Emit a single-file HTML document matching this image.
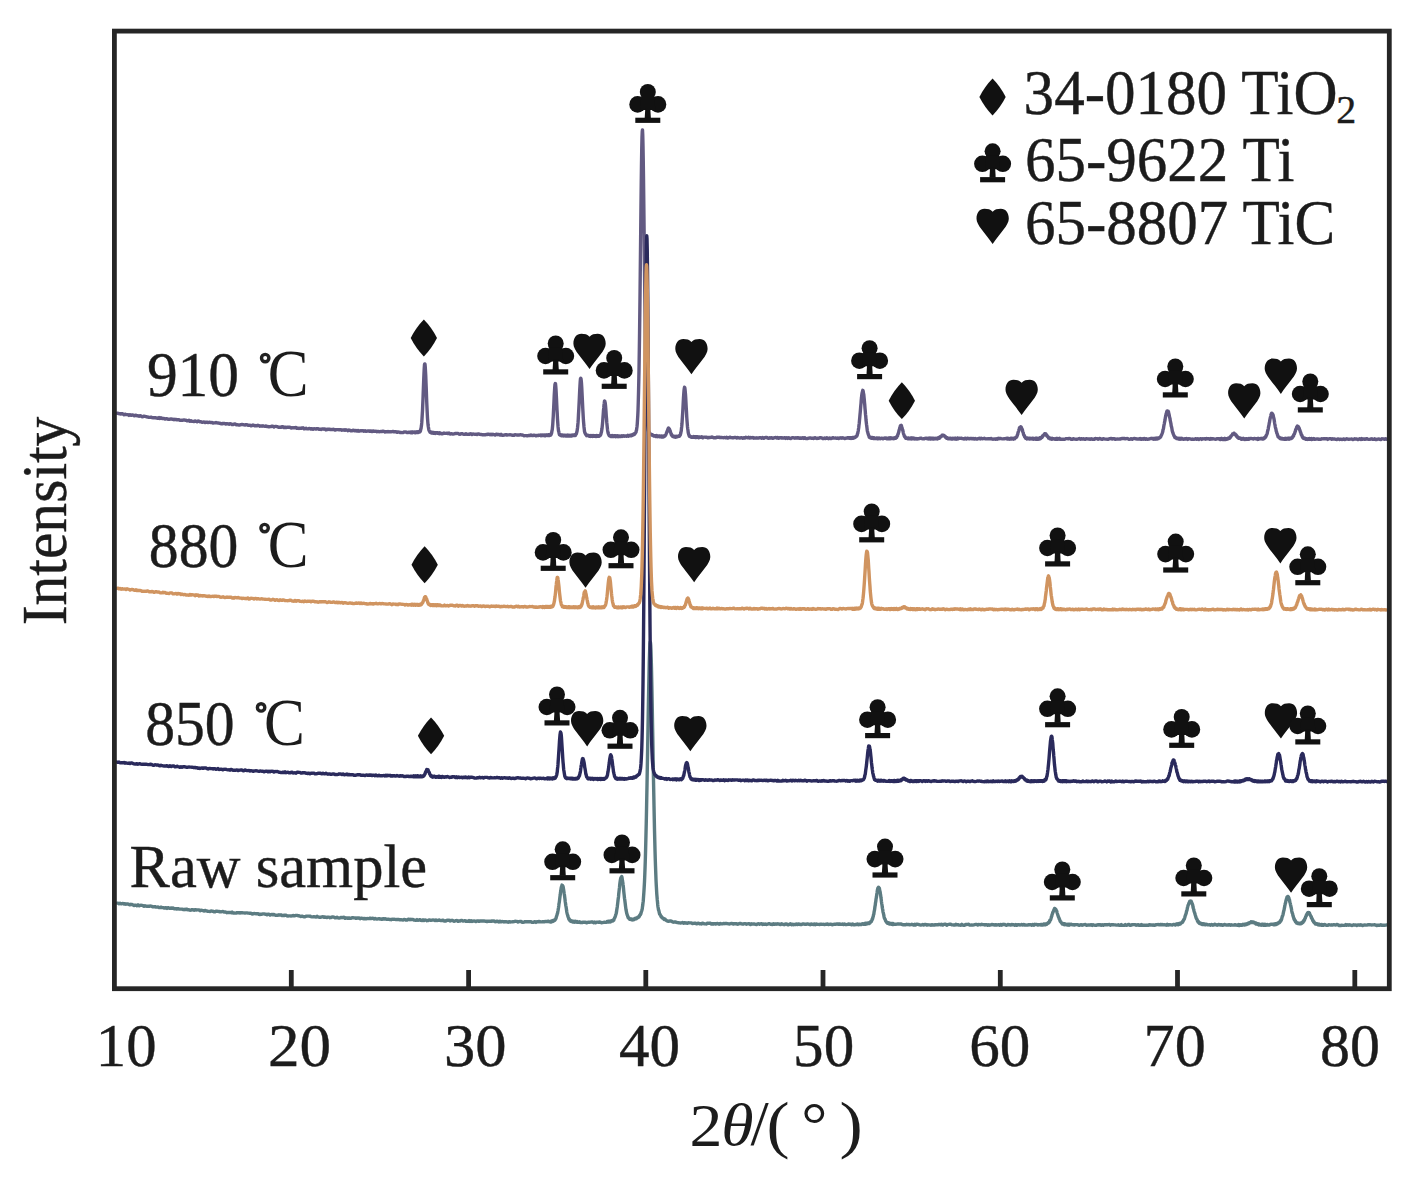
<!DOCTYPE html>
<html><head><meta charset="utf-8"><title>XRD patterns</title>
<style>html,body{margin:0;padding:0;background:#fff;width:1416px;height:1186px;overflow:hidden}svg{display:block}</style>
</head><body><div id="w">
<svg width="1416" height="1186" viewBox="0 0 1416 1186">
<defs><g id="club"><circle cx="18.5" cy="8" r="8"/><circle cx="8.3" cy="20.5" r="8.3"/><circle cx="28.7" cy="20.5" r="8.3"/><path d="M12,12 L25,12 L26,26 L11,26Z"/><path d="M16,24 L21,24 L21.6,34.5 L15.4,34.5Z"/><path d="M6,33.8 L31,33.8 L31,39 L6,39Z"/></g><path id="heart" d="M16.15,3 C14,0.6 11.5,0 8,0 C3,0 0,4 0,10 C0,16.5 8.5,24 16.15,35.3 C23.8,24 32.3,16.5 32.3,10 C32.3,4 29.3,0 24.3,0 C20.8,0 18.3,0.6 16.15,3Z"/><path id="diam" d="M13.15,0 Q21,8 26.3,18.45 Q21,28.9 13.15,36.9 Q5.3,28.9 0,18.45 Q5.3,8 13.15,0Z"/></defs>
<rect width="1416" height="1186" fill="#fff"/>
<path d="M117.00,903.1 L118.00,903.1 L119.00,903.7 L120.00,903.2 L121.00,903.7 L122.00,903.7 L123.00,903.5 L124.00,904.0 L125.00,903.7 L126.00,904.2 L127.00,903.9 L128.00,904.0 L129.00,904.4 L130.00,904.9 L131.00,904.3 L132.00,904.5 L133.00,905.0 L134.00,905.5 L135.00,905.2 L136.00,905.1 L137.00,905.8 L138.00,904.9 L139.00,905.8 L140.00,905.4 L141.00,905.3 L142.00,905.4 L143.00,905.7 L144.00,906.3 L145.00,905.7 L146.00,906.2 L147.00,906.4 L148.00,906.2 L149.00,906.4 L150.00,906.0 L151.00,906.1 L152.00,906.4 L153.00,906.9 L154.00,906.8 L155.00,906.7 L156.00,907.1 L157.00,907.1 L158.00,907.0 L159.00,907.6 L160.00,907.6 L161.00,907.2 L162.00,907.6 L163.00,907.6 L164.00,908.1 L165.00,908.0 L166.00,907.6 L167.00,908.4 L168.00,907.6 L169.00,908.0 L170.00,908.4 L171.00,907.9 L172.00,908.3 L173.00,908.0 L174.00,908.7 L175.00,908.8 L176.00,908.7 L177.00,909.1 L178.00,908.6 L179.00,909.1 L180.00,909.1 L181.00,909.1 L182.00,909.1 L183.00,909.5 L184.00,909.7 L185.00,909.3 L186.00,909.6 L187.00,909.1 L188.00,909.8 L189.00,909.8 L190.00,910.2 L191.00,910.1 L192.00,909.7 L193.00,909.8 L194.00,910.2 L195.00,909.6 L196.00,910.1 L197.00,909.9 L198.00,909.9 L199.00,909.9 L200.00,910.7 L201.00,910.1 L202.00,910.3 L203.00,910.6 L204.00,911.1 L205.00,910.4 L206.00,910.8 L207.00,911.0 L208.00,911.4 L209.00,911.4 L210.00,911.5 L211.00,911.0 L212.00,911.2 L213.00,911.2 L214.00,911.8 L215.00,911.9 L216.00,911.2 L217.00,911.3 L218.00,911.4 L219.00,911.5 L220.00,911.8 L221.00,911.9 L222.00,911.7 L223.00,911.5 L224.00,912.0 L225.00,912.0 L226.00,912.2 L227.00,912.7 L228.00,912.5 L229.00,912.4 L230.00,912.5 L231.00,912.7 L232.00,912.1 L233.00,913.0 L234.00,912.9 L235.00,913.1 L236.00,913.1 L237.00,912.7 L238.00,912.8 L239.00,912.6 L240.00,913.1 L241.00,912.6 L242.00,912.7 L243.00,912.9 L244.00,912.9 L245.00,913.1 L246.00,912.9 L247.00,912.9 L248.00,913.1 L249.00,913.1 L250.00,913.4 L251.00,913.2 L252.00,914.1 L253.00,913.9 L254.00,913.4 L255.00,913.6 L256.00,913.7 L257.00,913.8 L258.00,913.6 L259.00,914.4 L260.00,914.6 L261.00,914.1 L262.00,914.2 L263.00,913.9 L264.00,913.9 L265.00,914.2 L266.00,914.2 L267.00,914.8 L268.00,914.2 L269.00,914.1 L270.00,915.1 L271.00,914.7 L272.00,914.4 L273.00,914.8 L274.00,914.4 L275.00,914.9 L276.00,915.4 L277.00,915.3 L278.00,915.2 L279.00,914.8 L280.00,915.0 L281.00,914.8 L282.00,915.5 L283.00,915.3 L284.00,915.6 L285.00,915.2 L286.00,915.1 L287.00,915.8 L288.00,916.0 L289.00,915.9 L290.00,915.9 L291.00,916.0 L292.00,915.9 L293.00,915.5 L294.00,915.8 L295.00,915.7 L296.00,915.4 L297.00,915.4 L298.00,915.7 L299.00,915.8 L300.00,916.2 L301.00,916.5 L302.00,916.1 L303.00,916.6 L304.00,916.7 L305.00,916.7 L306.00,916.2 L307.00,916.1 L308.00,916.1 L309.00,916.1 L310.00,916.2 L311.00,916.6 L312.00,916.9 L313.00,916.9 L314.00,916.6 L315.00,916.8 L316.00,917.0 L317.00,916.3 L318.00,916.9 L319.00,917.2 L320.00,917.2 L321.00,917.2 L322.00,916.9 L323.00,916.7 L324.00,917.3 L325.00,916.9 L326.00,917.4 L327.00,917.6 L328.00,917.1 L329.00,917.1 L330.00,917.7 L331.00,917.5 L332.00,917.0 L333.00,917.0 L334.00,917.1 L335.00,917.8 L336.00,917.8 L337.00,917.2 L338.00,917.9 L339.00,918.1 L340.00,917.8 L341.00,917.5 L342.00,917.7 L343.00,917.4 L344.00,917.3 L345.00,918.3 L346.00,918.0 L347.00,917.9 L348.00,918.3 L349.00,917.9 L350.00,918.3 L351.00,918.3 L352.00,917.8 L353.00,917.8 L354.00,917.9 L355.00,917.9 L356.00,918.3 L357.00,918.0 L358.00,918.2 L359.00,917.9 L360.00,918.7 L361.00,918.2 L362.00,918.3 L363.00,918.5 L364.00,918.8 L365.00,918.4 L366.00,918.9 L367.00,918.5 L368.00,918.6 L369.00,918.6 L370.00,918.2 L371.00,918.6 L372.00,918.4 L373.00,918.2 L374.00,919.1 L375.00,918.5 L376.00,918.8 L377.00,919.1 L378.00,918.9 L379.00,918.7 L380.00,919.0 L381.00,919.0 L382.00,919.3 L383.00,918.6 L384.00,919.1 L385.00,918.8 L386.00,918.9 L387.00,919.4 L388.00,919.2 L389.00,919.3 L390.00,919.5 L391.00,919.7 L392.00,919.2 L393.00,919.4 L394.00,919.3 L395.00,919.4 L396.00,919.6 L397.00,919.4 L398.00,919.5 L399.00,919.5 L400.00,919.9 L401.00,919.7 L402.00,919.9 L403.00,920.0 L404.00,919.4 L405.00,919.7 L406.00,920.1 L407.00,920.0 L408.00,919.3 L409.00,919.3 L410.00,919.7 L411.00,919.3 L412.00,919.5 L413.00,919.4 L414.00,920.0 L415.00,920.2 L416.00,920.3 L417.00,919.6 L418.00,920.2 L419.00,920.1 L420.00,919.6 L421.00,920.4 L422.00,920.5 L423.00,919.8 L424.00,920.5 L425.00,920.0 L426.00,920.1 L427.00,920.7 L428.00,920.5 L429.00,919.9 L430.00,920.2 L431.00,920.3 L432.00,920.1 L433.00,920.0 L434.00,920.1 L435.00,920.6 L436.00,919.9 L437.00,920.5 L438.00,920.4 L439.00,920.0 L440.00,920.3 L441.00,920.6 L442.00,920.5 L443.00,920.1 L444.00,921.0 L445.00,920.9 L446.00,921.1 L447.00,920.2 L448.00,920.4 L449.00,920.2 L450.00,921.0 L451.00,920.5 L452.00,920.3 L453.00,920.7 L454.00,921.2 L455.00,921.1 L456.00,920.6 L457.00,920.5 L458.00,921.3 L459.00,920.9 L460.00,921.1 L461.00,920.5 L462.00,920.5 L463.00,921.1 L464.00,920.9 L465.00,920.6 L466.00,921.4 L467.00,921.2 L468.00,921.3 L469.00,920.6 L470.00,921.4 L471.00,920.7 L472.00,921.5 L473.00,921.1 L474.00,921.0 L475.00,921.2 L476.00,921.6 L477.00,921.0 L478.00,920.9 L479.00,921.3 L480.00,921.0 L481.00,920.9 L482.00,921.0 L483.00,920.9 L484.00,921.0 L485.00,921.2 L486.00,921.2 L487.00,921.6 L488.00,921.2 L489.00,921.4 L490.00,921.1 L491.00,921.3 L492.00,921.0 L493.00,921.2 L494.00,921.0 L495.00,921.7 L496.00,921.6 L497.00,921.2 L498.00,921.5 L499.00,922.0 L500.00,921.2 L501.00,921.9 L502.00,921.5 L503.00,921.6 L504.00,922.0 L505.00,921.6 L506.00,921.7 L507.00,921.9 L508.00,922.2 L509.00,921.6 L510.00,922.1 L511.00,921.9 L512.00,921.9 L513.00,921.7 L514.00,921.6 L515.00,921.3 L516.00,921.4 L517.00,921.4 L518.00,922.1 L519.00,921.6 L520.00,921.5 L521.00,921.4 L522.00,922.2 L523.00,922.3 L524.00,922.1 L525.00,921.7 L526.00,921.7 L527.00,921.7 L528.00,921.9 L529.00,921.6 L530.00,921.9 L531.00,921.7 L532.00,922.4 L533.00,922.4 L534.00,922.0 L535.00,921.7 L536.00,922.4 L537.00,921.8 L538.00,921.8 L539.00,921.5 L540.00,921.8 L541.00,921.9 L542.00,921.9 L543.00,921.6 L544.00,921.9 L545.00,921.4 L546.00,921.6 L547.00,921.4 L548.00,921.6 L548.25,921.3 L548.50,921.2 L548.75,921.5 L549.00,921.4 L549.25,921.7 L549.50,921.6 L549.75,921.8 L550.00,921.7 L550.25,921.8 L550.50,921.9 L550.75,921.4 L551.00,921.3 L551.25,921.9 L551.50,921.0 L551.75,921.6 L552.00,921.4 L552.25,920.8 L552.50,921.5 L552.75,921.5 L553.00,921.1 L553.25,921.2 L553.50,921.1 L553.75,920.3 L554.00,920.6 L554.25,920.4 L554.50,920.5 L554.75,920.3 L555.00,920.0 L555.25,919.5 L555.50,919.4 L555.75,918.8 L556.00,918.3 L556.25,917.2 L556.50,916.4 L556.75,915.7 L557.00,915.0 L557.25,913.8 L557.50,913.4 L557.75,912.0 L558.00,910.7 L558.25,909.2 L558.50,907.7 L558.75,905.9 L559.00,903.6 L559.25,902.6 L559.50,900.6 L559.75,898.4 L560.00,896.5 L560.25,894.8 L560.50,892.3 L560.75,891.2 L561.00,889.2 L561.25,887.6 L561.50,886.6 L561.75,886.2 L562.00,885.1 L562.25,885.4 L562.50,885.7 L562.75,885.7 L563.00,886.4 L563.25,887.5 L563.50,889.0 L563.75,890.6 L564.00,892.2 L564.25,894.0 L564.50,895.4 L564.75,897.4 L565.00,899.4 L565.25,901.8 L565.50,903.2 L565.75,905.3 L566.00,906.5 L566.25,908.1 L566.50,909.8 L566.75,911.6 L567.00,912.9 L567.25,914.0 L567.50,914.7 L567.75,915.8 L568.00,916.6 L568.25,917.3 L568.50,917.6 L568.75,918.9 L569.00,918.7 L569.25,919.8 L569.50,920.1 L569.75,919.5 L570.00,920.2 L570.25,920.8 L570.50,921.1 L570.75,920.7 L571.00,920.7 L571.25,920.8 L571.50,921.6 L571.75,920.9 L572.00,921.4 L572.25,921.0 L572.50,921.5 L572.75,921.9 L573.00,921.2 L573.25,921.9 L573.50,921.6 L573.75,922.0 L574.00,921.9 L574.25,921.5 L574.50,922.2 L574.75,921.8 L575.00,921.3 L575.25,921.3 L575.50,921.9 L575.75,921.8 L576.00,921.7 L576.25,921.6 L576.50,921.8 L576.75,921.8 L577.00,922.3 L577.25,921.5 L577.50,922.3 L578.50,922.4 L579.50,921.8 L580.50,922.6 L581.50,922.4 L582.50,922.6 L583.50,922.1 L584.50,922.2 L585.50,922.2 L586.50,922.8 L587.50,922.4 L588.50,922.2 L589.50,922.3 L590.50,922.1 L591.50,921.9 L592.50,922.0 L593.50,922.7 L594.50,922.1 L595.50,922.8 L596.50,922.1 L597.50,922.1 L598.50,922.3 L599.50,922.0 L600.50,922.1 L601.50,922.7 L602.50,922.6 L603.50,922.4 L604.50,922.2 L605.50,922.4 L606.50,922.4 L606.75,922.0 L607.00,922.1 L607.25,921.4 L607.50,922.1 L607.75,921.8 L608.00,922.0 L608.25,921.9 L608.50,921.5 L608.75,921.2 L609.00,922.1 L609.25,921.2 L609.50,921.5 L609.75,921.4 L610.00,921.3 L610.25,921.7 L610.50,921.9 L610.75,921.1 L611.00,921.4 L611.25,921.0 L611.50,921.2 L611.75,920.9 L612.00,920.6 L612.25,920.5 L612.50,920.4 L612.75,920.9 L613.00,920.4 L613.25,919.9 L613.50,920.3 L613.75,920.2 L614.00,919.3 L614.25,918.6 L614.50,918.2 L614.75,917.6 L615.00,917.3 L615.25,916.4 L615.50,915.7 L615.75,914.8 L616.00,914.1 L616.25,913.3 L616.50,911.9 L616.75,910.1 L617.00,908.5 L617.25,906.9 L617.50,904.9 L617.75,902.9 L618.00,900.5 L618.25,898.5 L618.50,896.9 L618.75,893.7 L619.00,891.7 L619.25,889.4 L619.50,887.4 L619.75,884.5 L620.00,882.5 L620.25,880.7 L620.50,879.3 L620.75,878.1 L621.00,877.7 L621.25,877.1 L621.50,877.1 L621.75,876.6 L622.00,877.4 L622.25,879.2 L622.50,880.9 L622.75,882.2 L623.00,884.3 L623.25,885.8 L623.50,888.5 L623.75,891.3 L624.00,893.6 L624.25,895.9 L624.50,898.3 L624.75,899.8 L625.00,901.8 L625.25,903.8 L625.50,906.0 L625.75,907.9 L626.00,909.7 L626.25,910.9 L626.50,912.1 L626.75,913.4 L627.00,914.1 L627.25,915.1 L627.50,915.3 L627.75,916.7 L628.00,916.7 L628.25,917.9 L628.50,918.0 L628.75,918.0 L629.00,918.1 L629.25,918.5 L629.50,919.1 L629.75,919.3 L630.00,918.8 L630.25,918.9 L630.50,919.4 L630.75,919.5 L631.00,919.4 L631.25,919.2 L631.50,919.6 L631.75,919.0 L632.00,919.3 L632.25,919.5 L632.50,919.9 L632.75,919.6 L633.00,919.8 L633.25,919.4 L633.50,919.1 L633.75,919.0 L634.00,919.7 L634.25,919.4 L634.50,918.9 L634.75,918.5 L635.00,918.9 L635.25,919.0 L635.50,918.7 L635.75,918.4 L636.00,918.7 L636.25,918.8 L636.50,918.0 L636.75,917.7 L637.00,917.8 L637.25,917.8 L637.50,917.9 L637.75,917.2 L638.00,917.6 L638.25,917.4 L638.50,916.9 L638.75,916.4 L639.00,916.9 L639.25,915.9 L639.50,916.1 L639.75,915.2 L640.00,914.8 L640.25,915.0 L640.50,914.0 L640.75,914.2 L641.00,913.1 L641.25,912.1 L641.50,911.4 L641.75,910.7 L642.00,909.8 L642.25,908.9 L642.50,906.6 L642.75,905.1 L643.00,902.8 L643.25,901.2 L643.50,897.5 L643.75,894.2 L644.00,890.3 L644.25,886.2 L644.50,881.6 L644.75,875.8 L645.00,869.1 L645.25,861.9 L645.50,853.5 L645.75,843.8 L646.00,833.5 L646.25,823.3 L646.50,811.3 L646.75,797.9 L647.00,785.2 L647.25,771.0 L647.50,756.7 L647.75,742.0 L648.00,727.2 L648.25,712.6 L648.50,698.9 L648.75,685.8 L649.00,674.3 L649.25,662.9 L649.50,654.9 L649.75,647.4 L650.00,643.2 L650.25,641.9 L650.50,642.7 L650.75,645.6 L651.00,651.1 L651.25,659.5 L651.50,669.3 L651.75,681.4 L652.00,693.5 L652.25,707.3 L652.50,722.2 L652.75,735.9 L653.00,751.0 L653.25,765.9 L653.50,780.0 L653.75,792.8 L654.00,805.7 L654.25,817.9 L654.50,830.1 L654.75,839.9 L655.00,850.0 L655.25,858.8 L655.50,866.0 L655.75,872.9 L656.00,879.7 L656.25,884.8 L656.50,889.1 L656.75,893.6 L657.00,896.7 L657.25,899.7 L657.50,902.0 L657.75,905.0 L658.00,907.0 L658.25,908.3 L658.50,910.0 L658.75,910.2 L659.00,911.4 L659.25,912.5 L659.50,913.7 L659.75,914.4 L660.00,914.4 L660.25,914.7 L660.50,915.4 L660.75,915.8 L661.00,916.6 L661.25,916.2 L661.50,917.1 L661.75,917.4 L662.00,917.7 L662.25,917.9 L662.50,918.0 L662.75,917.9 L663.00,918.1 L663.25,918.3 L663.50,918.9 L663.75,918.4 L664.00,918.7 L664.25,919.4 L664.50,919.0 L664.75,919.0 L665.00,919.1 L665.25,919.7 L665.50,919.6 L666.50,920.7 L667.50,921.0 L668.50,921.4 L669.50,921.0 L670.50,921.0 L671.50,921.2 L672.50,921.8 L673.50,922.2 L674.50,922.0 L675.50,922.0 L676.50,922.3 L677.50,922.6 L678.50,922.7 L679.50,922.9 L680.50,923.0 L681.50,922.9 L682.50,922.4 L683.50,923.2 L684.50,922.7 L685.50,923.0 L686.50,922.9 L687.50,923.3 L688.50,922.8 L689.50,922.9 L690.50,922.9 L691.50,922.9 L692.50,923.6 L693.50,923.4 L694.50,923.1 L695.50,923.2 L696.50,923.9 L697.50,923.4 L698.50,923.1 L699.50,923.7 L700.50,923.6 L701.50,924.0 L702.50,923.1 L703.50,923.5 L704.50,923.9 L705.50,923.9 L706.50,924.0 L707.50,923.1 L708.50,923.4 L709.50,923.2 L710.50,923.3 L711.50,924.1 L712.50,923.7 L713.50,924.1 L714.50,923.6 L715.50,924.1 L716.50,923.7 L717.50,923.5 L718.50,924.0 L719.50,924.2 L720.50,923.4 L721.50,923.9 L722.50,923.9 L723.50,923.5 L724.50,923.7 L725.50,923.5 L726.50,923.5 L727.50,923.6 L728.50,923.9 L729.50,924.0 L730.50,923.6 L731.50,923.4 L732.50,923.7 L733.50,924.1 L734.50,923.6 L735.50,923.7 L736.50,923.6 L737.50,924.2 L738.50,924.0 L739.50,923.5 L740.50,923.5 L741.50,923.8 L742.50,924.0 L743.50,924.1 L744.50,923.6 L745.50,923.6 L746.50,924.2 L747.50,923.9 L748.50,923.8 L749.50,923.8 L750.50,924.5 L751.50,923.8 L752.50,924.1 L753.50,923.9 L754.50,924.0 L755.50,924.4 L756.50,924.6 L757.50,923.9 L758.50,923.8 L759.50,924.3 L760.50,923.8 L761.50,923.6 L762.50,924.5 L763.50,924.0 L764.50,924.4 L765.50,924.0 L766.50,924.5 L767.50,924.1 L768.50,923.8 L769.50,923.7 L770.50,924.2 L771.50,924.3 L772.50,924.6 L773.50,923.7 L774.50,924.3 L775.50,924.0 L776.50,924.2 L777.50,923.8 L778.50,924.0 L779.50,924.2 L780.50,924.6 L781.50,923.8 L782.50,924.2 L783.50,924.5 L784.50,924.7 L785.50,923.9 L786.50,923.9 L787.50,924.7 L788.50,924.7 L789.50,924.2 L790.50,923.8 L791.50,924.7 L792.50,924.1 L793.50,924.7 L794.50,924.4 L795.50,924.6 L796.50,923.9 L797.50,924.6 L798.50,924.0 L799.50,924.2 L800.50,924.6 L801.50,924.6 L802.50,924.0 L803.50,924.0 L804.50,924.2 L805.50,924.3 L806.50,924.2 L807.50,923.9 L808.50,924.1 L809.50,924.5 L810.50,924.7 L811.50,923.9 L812.50,924.4 L813.50,924.6 L814.50,923.9 L815.50,924.7 L816.50,924.0 L817.50,924.4 L818.50,924.4 L819.50,924.5 L820.50,924.2 L821.50,924.3 L822.50,924.4 L823.50,924.3 L824.50,924.5 L825.50,924.3 L826.50,924.3 L827.50,923.9 L828.50,924.5 L829.50,924.4 L830.50,924.1 L831.50,924.6 L832.50,924.7 L833.50,924.3 L834.50,924.1 L835.50,924.4 L836.50,924.0 L837.50,924.0 L838.50,924.3 L839.50,924.0 L840.50,924.3 L841.50,924.4 L842.50,923.9 L843.50,924.5 L844.50,924.0 L845.50,924.6 L846.50,924.6 L847.50,924.4 L848.50,923.9 L849.50,924.3 L850.50,924.2 L851.50,924.8 L852.50,924.0 L853.50,924.7 L854.50,924.8 L855.50,924.5 L856.50,924.6 L857.50,923.9 L858.50,924.7 L859.50,924.2 L860.50,924.6 L861.50,924.5 L862.50,923.7 L863.50,924.3 L864.50,924.3 L864.75,923.4 L865.00,923.7 L865.25,924.1 L865.50,923.5 L865.75,924.2 L866.00,923.5 L866.25,924.0 L866.50,923.3 L866.75,923.7 L867.00,924.0 L867.25,923.3 L867.50,923.3 L867.75,923.5 L868.00,923.2 L868.25,922.9 L868.50,923.0 L868.75,922.9 L869.00,923.6 L869.25,923.2 L869.50,923.3 L869.75,922.4 L870.00,922.9 L870.25,922.0 L870.50,922.2 L870.75,922.1 L871.00,921.5 L871.25,921.7 L871.50,920.9 L871.75,920.5 L872.00,920.3 L872.25,918.9 L872.50,919.1 L872.75,918.0 L873.00,916.9 L873.25,916.4 L873.50,914.8 L873.75,914.4 L874.00,912.7 L874.25,911.1 L874.50,910.1 L874.75,908.2 L875.00,906.3 L875.25,905.2 L875.50,902.8 L875.75,901.7 L876.00,899.4 L876.25,898.0 L876.50,896.6 L876.75,894.5 L877.00,893.0 L877.25,891.2 L877.50,889.6 L877.75,888.6 L878.00,887.9 L878.25,887.8 L878.50,887.3 L878.75,887.4 L879.00,888.2 L879.25,888.0 L879.50,889.0 L879.75,890.5 L880.00,891.2 L880.25,892.6 L880.50,894.6 L880.75,896.0 L881.00,898.1 L881.25,899.7 L881.50,901.9 L881.75,903.7 L882.00,905.0 L882.25,907.1 L882.50,908.6 L882.75,909.8 L883.00,912.0 L883.25,912.7 L883.50,913.8 L883.75,914.9 L884.00,916.4 L884.25,917.6 L884.50,918.4 L884.75,918.7 L885.00,919.2 L885.25,919.6 L885.50,920.7 L885.75,921.1 L886.00,921.3 L886.25,921.9 L886.50,922.0 L886.75,922.7 L887.00,922.7 L887.25,922.4 L887.50,923.2 L887.75,922.5 L888.00,923.1 L888.25,923.1 L888.50,923.0 L888.75,922.9 L889.00,923.7 L889.25,923.0 L889.50,923.6 L889.75,924.0 L890.00,923.3 L890.25,923.4 L890.50,923.8 L890.75,923.8 L891.00,923.9 L891.25,924.2 L891.50,923.5 L891.75,923.7 L892.00,923.7 L892.25,923.5 L892.50,924.4 L892.75,924.3 L893.00,924.2 L893.25,923.5 L893.50,924.4 L893.75,924.3 L894.75,924.1 L895.75,924.4 L896.75,924.2 L897.75,924.0 L898.75,923.9 L899.75,924.1 L900.75,923.9 L901.75,924.3 L902.75,924.7 L903.75,924.7 L904.75,924.8 L905.75,924.7 L906.75,924.3 L907.75,924.6 L908.75,924.5 L909.75,924.8 L910.75,924.6 L911.75,924.3 L912.75,924.7 L913.75,925.1 L914.75,924.3 L915.75,925.0 L916.75,924.1 L917.75,924.4 L918.75,924.4 L919.75,924.9 L920.75,925.1 L921.75,924.9 L922.75,924.5 L923.75,925.0 L924.75,924.5 L925.75,924.4 L926.75,925.1 L927.75,924.8 L928.75,924.9 L929.75,924.9 L930.75,925.2 L931.75,924.7 L932.75,925.0 L933.75,924.9 L934.75,925.1 L935.75,924.6 L936.75,924.9 L937.75,924.8 L938.75,924.5 L939.75,924.4 L940.75,924.8 L941.75,924.3 L942.75,925.1 L943.75,924.4 L944.75,924.3 L945.75,924.3 L946.75,925.2 L947.75,924.6 L948.75,924.4 L949.75,924.3 L950.75,924.3 L951.75,924.9 L952.75,924.9 L953.75,925.0 L954.75,925.0 L955.75,924.3 L956.75,924.9 L957.75,924.6 L958.75,925.1 L959.75,925.1 L960.75,925.2 L961.75,924.3 L962.75,925.1 L963.75,925.2 L964.75,925.2 L965.75,924.4 L966.75,924.5 L967.75,924.4 L968.75,924.3 L969.75,925.1 L970.75,925.1 L971.75,924.9 L972.75,925.1 L973.75,924.9 L974.75,924.6 L975.75,924.4 L976.75,924.4 L977.75,925.1 L978.75,924.5 L979.75,924.6 L980.75,924.7 L981.75,924.3 L982.75,924.6 L983.75,924.6 L984.75,925.0 L985.75,924.7 L986.75,924.6 L987.75,925.3 L988.75,924.8 L989.75,925.2 L990.75,924.9 L991.75,924.4 L992.75,924.7 L993.75,924.8 L994.75,925.1 L995.75,924.7 L996.75,925.0 L997.75,924.9 L998.75,924.6 L999.75,925.2 L1000.75,924.4 L1001.75,925.2 L1002.75,924.5 L1003.75,924.3 L1004.75,924.5 L1005.75,925.1 L1006.75,925.3 L1007.75,924.4 L1008.75,924.8 L1009.75,924.8 L1010.75,925.1 L1011.75,924.5 L1012.75,924.8 L1013.75,924.7 L1014.75,925.2 L1015.75,924.6 L1016.75,925.3 L1017.75,924.6 L1018.75,924.6 L1019.75,925.0 L1020.75,924.8 L1021.75,924.5 L1022.75,925.0 L1023.75,924.4 L1024.75,925.1 L1025.75,925.0 L1026.75,925.1 L1027.75,925.0 L1028.75,924.7 L1029.75,924.7 L1030.75,924.7 L1031.75,925.2 L1032.75,924.4 L1033.75,925.2 L1034.75,924.3 L1035.75,924.5 L1036.75,924.5 L1037.75,925.1 L1038.75,924.7 L1039.75,924.6 L1040.75,925.0 L1041.00,924.4 L1041.25,924.6 L1041.50,924.6 L1041.75,924.9 L1042.00,924.8 L1042.25,924.7 L1042.50,924.4 L1042.75,924.4 L1043.00,924.2 L1043.25,924.9 L1043.50,924.7 L1043.75,924.7 L1044.00,924.1 L1044.25,924.4 L1044.50,924.7 L1044.75,924.5 L1045.00,924.0 L1045.25,924.3 L1045.50,924.7 L1045.75,924.0 L1046.00,923.9 L1046.25,923.9 L1046.50,924.2 L1046.75,924.3 L1047.00,923.5 L1047.25,923.4 L1047.50,923.3 L1047.75,923.2 L1048.00,923.3 L1048.25,922.7 L1048.50,922.6 L1048.75,922.2 L1049.00,922.7 L1049.25,922.1 L1049.50,921.1 L1049.75,921.5 L1050.00,920.2 L1050.25,919.9 L1050.50,920.0 L1050.75,919.2 L1051.00,918.4 L1051.25,917.5 L1051.50,916.5 L1051.75,916.2 L1052.00,914.9 L1052.25,914.2 L1052.50,913.6 L1052.75,912.5 L1053.00,912.1 L1053.25,911.8 L1053.50,911.0 L1053.75,910.2 L1054.00,909.8 L1054.25,909.2 L1054.50,908.6 L1054.75,908.9 L1055.00,908.6 L1055.25,909.0 L1055.50,909.4 L1055.75,909.2 L1056.00,909.8 L1056.25,910.4 L1056.50,910.7 L1056.75,911.2 L1057.00,912.4 L1057.25,913.3 L1057.50,914.0 L1057.75,914.7 L1058.00,915.6 L1058.25,916.2 L1058.50,917.0 L1058.75,917.5 L1059.00,918.0 L1059.25,919.0 L1059.50,919.1 L1059.75,920.0 L1060.00,920.9 L1060.25,921.3 L1060.50,921.6 L1060.75,921.6 L1061.00,922.1 L1061.25,922.5 L1061.50,922.9 L1061.75,923.0 L1062.00,923.4 L1062.25,923.9 L1062.50,923.3 L1062.75,923.9 L1063.00,924.1 L1063.25,923.8 L1063.50,924.0 L1063.75,924.6 L1064.00,923.7 L1064.25,924.3 L1064.50,924.0 L1064.75,924.6 L1065.00,924.8 L1065.25,924.4 L1065.50,924.0 L1065.75,924.5 L1066.00,924.5 L1066.25,924.7 L1066.50,924.5 L1066.75,924.7 L1067.00,924.9 L1067.25,924.6 L1067.50,924.5 L1067.75,925.1 L1068.00,924.3 L1068.25,924.8 L1068.50,924.5 L1068.75,924.9 L1069.00,924.3 L1069.25,925.2 L1069.50,924.5 L1069.75,924.2 L1070.00,924.5 L1070.25,924.6 L1071.25,924.2 L1072.25,924.7 L1073.25,924.7 L1074.25,925.0 L1075.25,924.7 L1076.25,924.6 L1077.25,924.6 L1078.25,925.1 L1079.25,925.3 L1080.25,924.9 L1081.25,924.6 L1082.25,925.2 L1083.25,924.8 L1084.25,924.6 L1085.25,924.5 L1086.25,925.2 L1087.25,925.2 L1088.25,925.0 L1089.25,924.9 L1090.25,925.0 L1091.25,924.6 L1092.25,925.4 L1093.25,924.8 L1094.25,925.1 L1095.25,925.3 L1096.25,925.3 L1097.25,924.9 L1098.25,924.7 L1099.25,925.0 L1100.25,924.6 L1101.25,925.3 L1102.25,924.8 L1103.25,925.3 L1104.25,924.7 L1105.25,924.8 L1106.25,924.7 L1107.25,924.9 L1108.25,924.6 L1109.25,924.5 L1110.25,925.2 L1111.25,924.7 L1112.25,924.7 L1113.25,924.8 L1114.25,924.9 L1115.25,924.9 L1116.25,925.1 L1117.25,925.1 L1118.25,924.8 L1119.25,925.4 L1120.25,925.3 L1121.25,924.5 L1122.25,925.3 L1123.25,925.4 L1124.25,925.3 L1125.25,924.6 L1126.25,925.3 L1127.25,925.1 L1128.25,924.5 L1129.25,924.5 L1130.25,925.4 L1131.25,925.1 L1132.25,924.7 L1133.25,924.6 L1134.25,924.6 L1135.25,924.7 L1136.25,925.2 L1137.25,924.8 L1138.25,924.6 L1139.25,925.4 L1140.25,925.3 L1141.25,924.6 L1142.25,925.4 L1143.25,925.1 L1144.25,925.2 L1145.25,925.1 L1146.25,925.3 L1147.25,925.2 L1148.25,925.3 L1149.25,924.6 L1150.25,925.1 L1151.25,925.0 L1152.25,925.2 L1153.25,924.9 L1154.25,925.3 L1155.25,925.0 L1156.25,924.7 L1157.25,924.6 L1158.25,924.5 L1159.25,924.9 L1160.25,924.4 L1161.25,924.8 L1162.25,924.5 L1163.25,924.9 L1164.25,924.8 L1165.25,924.9 L1166.25,925.2 L1167.25,924.3 L1168.25,925.1 L1169.25,924.7 L1170.25,924.8 L1171.25,924.9 L1172.25,925.0 L1173.25,924.5 L1174.25,924.5 L1175.25,925.0 L1176.25,924.0 L1176.50,924.5 L1176.75,924.5 L1177.00,923.9 L1177.25,924.4 L1177.50,924.5 L1177.75,924.7 L1178.00,924.1 L1178.25,924.7 L1178.50,924.2 L1178.75,924.1 L1179.00,924.4 L1179.25,923.5 L1179.50,924.1 L1179.75,924.0 L1180.00,923.6 L1180.25,924.0 L1180.50,923.4 L1180.75,923.4 L1181.00,923.3 L1181.25,923.3 L1181.50,922.6 L1181.75,922.6 L1182.00,922.4 L1182.25,922.2 L1182.50,922.2 L1182.75,921.3 L1183.00,921.5 L1183.25,920.7 L1183.50,920.3 L1183.75,919.6 L1184.00,919.3 L1184.25,919.2 L1184.50,918.3 L1184.75,917.7 L1185.00,916.6 L1185.25,915.8 L1185.50,915.0 L1185.75,914.5 L1186.00,913.6 L1186.25,912.9 L1186.50,911.2 L1186.75,910.9 L1187.00,910.2 L1187.25,908.8 L1187.50,907.4 L1187.75,906.7 L1188.00,905.5 L1188.25,904.8 L1188.50,904.7 L1188.75,903.6 L1189.00,903.0 L1189.25,902.5 L1189.50,902.1 L1189.75,901.4 L1190.00,901.2 L1190.25,901.0 L1190.50,901.1 L1190.75,901.1 L1191.00,901.4 L1191.25,901.3 L1191.50,902.3 L1191.75,902.6 L1192.00,903.6 L1192.25,903.7 L1192.50,904.6 L1192.75,905.3 L1193.00,907.0 L1193.25,908.1 L1193.50,908.8 L1193.75,909.4 L1194.00,910.9 L1194.25,911.8 L1194.50,912.5 L1194.75,913.1 L1195.00,914.0 L1195.25,915.0 L1195.50,915.7 L1195.75,916.5 L1196.00,917.5 L1196.25,918.4 L1196.50,918.2 L1196.75,919.3 L1197.00,919.3 L1197.25,919.9 L1197.50,921.0 L1197.75,921.2 L1198.00,921.9 L1198.25,921.8 L1198.50,921.6 L1198.75,922.3 L1199.00,922.7 L1199.25,923.3 L1199.50,923.5 L1199.75,923.2 L1200.00,923.3 L1200.25,923.1 L1200.50,923.8 L1200.75,923.4 L1201.00,923.5 L1201.25,923.4 L1201.50,923.5 L1201.75,924.2 L1202.00,923.7 L1202.25,924.6 L1202.50,923.8 L1202.75,924.6 L1203.00,923.9 L1203.25,923.8 L1203.50,924.6 L1203.75,924.1 L1204.00,924.6 L1204.25,924.1 L1204.50,924.0 L1204.75,924.7 L1205.00,924.7 L1205.25,924.8 L1205.50,924.7 L1206.50,924.2 L1207.50,924.8 L1208.50,924.9 L1209.50,924.7 L1210.50,925.2 L1211.50,924.5 L1212.50,925.2 L1213.50,925.0 L1214.50,924.3 L1215.50,924.4 L1216.50,925.0 L1217.50,925.2 L1218.50,924.5 L1219.50,924.7 L1220.50,925.1 L1221.50,924.6 L1222.50,925.3 L1223.50,924.9 L1224.50,924.5 L1225.50,924.8 L1226.50,925.0 L1227.50,924.9 L1228.50,925.1 L1229.50,924.6 L1230.50,925.2 L1231.50,924.8 L1232.50,925.1 L1233.50,925.1 L1234.50,924.8 L1235.50,924.8 L1236.50,925.2 L1237.50,925.4 L1237.75,925.2 L1238.00,925.0 L1238.25,924.7 L1238.50,924.5 L1238.75,925.4 L1239.00,925.1 L1239.25,925.2 L1239.50,924.7 L1239.75,925.0 L1240.00,925.4 L1240.25,925.2 L1240.50,925.0 L1240.75,924.7 L1241.00,924.8 L1241.25,925.2 L1241.50,924.7 L1241.75,925.0 L1242.00,924.9 L1242.25,925.2 L1242.50,925.1 L1242.75,924.6 L1243.00,924.3 L1243.25,924.5 L1243.50,924.7 L1243.75,924.8 L1244.00,925.0 L1244.25,925.0 L1244.50,924.2 L1244.75,924.9 L1245.00,924.8 L1245.25,924.8 L1245.50,924.5 L1245.75,924.1 L1246.00,924.6 L1246.25,924.5 L1246.50,924.3 L1246.75,924.5 L1247.00,923.8 L1247.25,923.5 L1247.50,923.8 L1247.75,924.0 L1248.00,923.3 L1248.25,923.7 L1248.50,923.8 L1248.75,922.9 L1249.00,923.2 L1249.25,923.2 L1249.50,922.8 L1249.75,922.4 L1250.00,922.4 L1250.25,922.8 L1250.50,922.7 L1250.75,922.3 L1251.00,921.9 L1251.25,922.5 L1251.50,922.5 L1251.75,921.9 L1252.00,922.2 L1252.25,922.5 L1252.50,922.6 L1252.75,922.2 L1253.00,922.2 L1253.25,922.4 L1253.50,922.1 L1253.75,922.2 L1254.00,922.3 L1254.25,922.9 L1254.50,922.7 L1254.75,923.0 L1255.00,923.0 L1255.25,923.2 L1255.50,922.9 L1255.75,923.0 L1256.00,924.0 L1256.25,923.5 L1256.50,923.3 L1256.75,924.0 L1257.00,924.2 L1257.25,923.7 L1257.50,924.2 L1257.75,924.0 L1258.00,924.3 L1258.25,923.8 L1258.50,923.9 L1258.75,924.9 L1259.00,924.8 L1259.25,924.5 L1259.50,924.6 L1259.75,924.3 L1260.00,924.9 L1260.25,924.5 L1260.50,925.1 L1260.75,924.9 L1261.00,925.0 L1261.25,925.2 L1261.50,924.5 L1261.75,924.2 L1262.00,924.4 L1262.25,924.4 L1262.50,924.3 L1262.75,924.3 L1263.00,924.8 L1263.25,925.1 L1263.50,924.7 L1263.75,925.2 L1264.00,925.1 L1264.25,924.3 L1264.50,924.8 L1264.75,924.6 L1265.00,924.4 L1265.25,925.2 L1265.50,924.5 L1265.75,924.8 L1266.00,924.9 L1266.25,925.2 L1266.50,924.9 L1266.75,924.6 L1267.00,924.6 L1267.25,924.4 L1268.25,925.1 L1269.25,925.1 L1270.25,924.3 L1271.25,924.1 L1272.25,924.3 L1273.25,924.3 L1273.50,924.8 L1273.75,924.8 L1274.00,924.7 L1274.25,923.9 L1274.50,924.6 L1274.75,924.5 L1275.00,924.4 L1275.25,924.7 L1275.50,923.7 L1275.75,923.8 L1276.00,924.4 L1276.25,924.5 L1276.50,924.2 L1276.75,923.7 L1277.00,924.0 L1277.25,924.1 L1277.50,923.3 L1277.75,923.4 L1278.00,923.3 L1278.25,923.0 L1278.50,923.2 L1278.75,922.7 L1279.00,922.6 L1279.25,922.3 L1279.50,922.6 L1279.75,921.7 L1280.00,922.1 L1280.25,921.2 L1280.50,920.6 L1280.75,921.1 L1281.00,919.9 L1281.25,920.1 L1281.50,919.4 L1281.75,918.8 L1282.00,917.3 L1282.25,916.8 L1282.50,915.7 L1282.75,915.6 L1283.00,914.6 L1283.25,913.4 L1283.50,912.1 L1283.75,910.9 L1284.00,910.3 L1284.25,908.8 L1284.50,907.7 L1284.75,906.0 L1285.00,904.9 L1285.25,903.6 L1285.50,903.1 L1285.75,901.8 L1286.00,900.4 L1286.25,900.1 L1286.50,898.7 L1286.75,898.1 L1287.00,897.2 L1287.25,896.9 L1287.50,897.1 L1287.75,896.5 L1288.00,896.4 L1288.25,896.9 L1288.50,897.2 L1288.75,898.3 L1289.00,898.2 L1289.25,899.9 L1289.50,899.8 L1289.75,901.7 L1290.00,902.5 L1290.25,903.2 L1290.50,904.6 L1290.75,905.6 L1291.00,906.8 L1291.25,907.9 L1291.50,909.3 L1291.75,911.1 L1292.00,912.2 L1292.25,913.2 L1292.50,913.3 L1292.75,914.5 L1293.00,916.0 L1293.25,916.0 L1293.50,917.5 L1293.75,917.8 L1294.00,919.1 L1294.25,918.8 L1294.50,920.1 L1294.75,920.2 L1295.00,920.4 L1295.25,920.7 L1295.50,921.9 L1295.75,921.9 L1296.00,921.8 L1296.25,922.3 L1296.50,923.0 L1296.75,922.5 L1297.00,923.0 L1297.25,922.7 L1297.50,922.9 L1297.75,923.6 L1298.00,923.6 L1298.25,923.1 L1298.50,923.1 L1298.75,923.1 L1299.00,923.7 L1299.25,923.6 L1299.50,923.4 L1299.75,923.3 L1300.00,923.7 L1300.25,923.8 L1300.50,923.8 L1300.75,923.5 L1301.00,923.1 L1301.25,922.9 L1301.50,923.4 L1301.75,922.9 L1302.00,923.1 L1302.25,922.3 L1302.50,922.8 L1302.75,922.1 L1303.00,922.3 L1303.25,922.0 L1303.50,921.3 L1303.75,920.5 L1304.00,921.0 L1304.25,920.1 L1304.50,920.0 L1304.75,918.9 L1305.00,918.3 L1305.25,918.4 L1305.50,917.4 L1305.75,916.6 L1306.00,916.2 L1306.25,915.9 L1306.50,914.7 L1306.75,914.7 L1307.00,914.2 L1307.25,913.8 L1307.50,913.0 L1307.75,913.3 L1308.00,913.2 L1308.25,913.1 L1308.50,912.5 L1308.75,912.9 L1309.00,912.8 L1309.25,913.4 L1309.50,913.0 L1309.75,914.2 L1310.00,914.8 L1310.25,914.8 L1310.50,915.4 L1310.75,915.9 L1311.00,916.5 L1311.25,916.6 L1311.50,918.1 L1311.75,918.0 L1312.00,918.5 L1312.25,919.0 L1312.50,919.6 L1312.75,920.7 L1313.00,920.4 L1313.25,920.9 L1313.50,921.9 L1313.75,921.7 L1314.00,921.9 L1314.25,922.7 L1314.50,923.0 L1314.75,923.2 L1315.00,923.5 L1315.25,923.1 L1315.50,924.1 L1315.75,924.0 L1316.00,923.5 L1316.25,923.7 L1316.50,924.1 L1316.75,924.2 L1317.00,924.1 L1317.25,924.0 L1317.50,924.3 L1317.75,924.1 L1318.00,924.6 L1318.25,924.9 L1318.50,924.2 L1318.75,924.6 L1319.00,924.8 L1319.25,924.3 L1319.50,925.0 L1319.75,925.1 L1320.00,924.6 L1320.25,924.6 L1320.50,925.0 L1320.75,924.7 L1321.00,924.6 L1321.25,925.2 L1321.50,925.0 L1321.75,924.6 L1322.00,924.5 L1322.25,924.6 L1322.50,924.7 L1322.75,925.3 L1323.00,925.1 L1323.25,925.2 L1323.50,925.1 L1323.75,925.2 L1324.75,924.4 L1325.75,924.9 L1326.75,925.4 L1327.75,925.4 L1328.75,924.7 L1329.75,924.9 L1330.75,925.1 L1331.75,924.8 L1332.75,925.0 L1333.75,924.6 L1334.75,924.9 L1335.75,925.0 L1336.75,924.5 L1337.75,924.7 L1338.75,925.5 L1339.75,925.3 L1340.75,925.5 L1341.75,925.2 L1342.75,925.4 L1343.75,925.4 L1344.75,925.4 L1345.75,924.6 L1346.75,925.2 L1347.75,924.8 L1348.75,925.2 L1349.75,924.8 L1350.75,925.1 L1351.75,925.5 L1352.75,925.2 L1353.75,924.8 L1354.75,925.1 L1355.75,925.0 L1356.75,925.5 L1357.75,924.9 L1358.75,924.9 L1359.75,925.2 L1360.75,924.7 L1361.75,925.2 L1362.75,925.6 L1363.75,925.1 L1364.75,924.9 L1365.75,925.1 L1366.75,925.1 L1367.75,924.8 L1368.75,924.7 L1369.75,924.7 L1370.75,924.9 L1371.75,925.0 L1372.75,924.9 L1373.75,924.9 L1374.75,924.7 L1375.75,925.2 L1376.75,925.5 L1377.75,925.2 L1378.75,925.2 L1379.75,925.3 L1380.75,924.8 L1381.75,925.3 L1382.75,925.1 L1383.75,925.2 L1384.75,925.2 L1385.75,925.1 L1386.75,924.9" fill="none" stroke="#5c7c82" stroke-width="3.4" stroke-linejoin="round" stroke-linecap="round"/><path d="M117.00,413.2 L118.00,413.3 L119.00,413.7 L120.00,413.7 L121.00,414.1 L122.00,413.6 L123.00,414.1 L124.00,414.7 L125.00,414.2 L126.00,414.6 L127.00,414.6 L128.00,414.6 L129.00,415.4 L130.00,414.8 L131.00,415.4 L132.00,414.9 L133.00,414.9 L134.00,415.8 L135.00,415.5 L136.00,415.2 L137.00,415.7 L138.00,415.8 L139.00,416.2 L140.00,415.7 L141.00,415.9 L142.00,416.8 L143.00,416.6 L144.00,416.2 L145.00,416.4 L146.00,416.6 L147.00,417.0 L148.00,417.0 L149.00,417.4 L150.00,417.4 L151.00,417.2 L152.00,417.6 L153.00,417.7 L154.00,417.8 L155.00,417.6 L156.00,418.0 L157.00,418.0 L158.00,418.3 L159.00,417.6 L160.00,418.5 L161.00,417.7 L162.00,418.6 L163.00,418.5 L164.00,418.5 L165.00,419.1 L166.00,418.8 L167.00,418.7 L168.00,419.2 L169.00,419.3 L170.00,419.2 L171.00,419.0 L172.00,419.2 L173.00,419.3 L174.00,419.7 L175.00,419.3 L176.00,419.5 L177.00,419.8 L178.00,419.7 L179.00,419.7 L180.00,420.3 L181.00,420.4 L182.00,420.2 L183.00,420.2 L184.00,420.0 L185.00,420.2 L186.00,420.1 L187.00,420.7 L188.00,420.8 L189.00,420.3 L190.00,421.3 L191.00,420.7 L192.00,421.4 L193.00,421.4 L194.00,421.6 L195.00,421.0 L196.00,421.3 L197.00,421.8 L198.00,421.0 L199.00,421.1 L200.00,421.7 L201.00,421.7 L202.00,422.2 L203.00,422.2 L204.00,422.0 L205.00,422.6 L206.00,422.2 L207.00,422.2 L208.00,422.5 L209.00,422.3 L210.00,422.3 L211.00,422.6 L212.00,422.5 L213.00,423.1 L214.00,422.9 L215.00,422.9 L216.00,422.5 L217.00,422.9 L218.00,423.0 L219.00,423.2 L220.00,423.3 L221.00,423.7 L222.00,423.8 L223.00,423.4 L224.00,423.4 L225.00,423.7 L226.00,424.1 L227.00,423.6 L228.00,423.8 L229.00,424.2 L230.00,423.6 L231.00,423.8 L232.00,424.5 L233.00,424.5 L234.00,424.2 L235.00,423.9 L236.00,424.7 L237.00,424.6 L238.00,424.8 L239.00,425.0 L240.00,425.0 L241.00,424.6 L242.00,424.4 L243.00,424.6 L244.00,424.9 L245.00,425.0 L246.00,424.7 L247.00,424.8 L248.00,425.3 L249.00,425.3 L250.00,425.1 L251.00,425.8 L252.00,425.5 L253.00,425.0 L254.00,425.4 L255.00,425.9 L256.00,425.5 L257.00,425.9 L258.00,425.3 L259.00,425.6 L260.00,426.2 L261.00,426.0 L262.00,426.2 L263.00,425.8 L264.00,426.1 L265.00,426.3 L266.00,426.0 L267.00,426.5 L268.00,426.4 L269.00,426.9 L270.00,426.6 L271.00,426.5 L272.00,426.2 L273.00,426.3 L274.00,427.0 L275.00,426.4 L276.00,426.4 L277.00,426.6 L278.00,427.0 L279.00,427.3 L280.00,427.2 L281.00,427.4 L282.00,426.7 L283.00,426.8 L284.00,427.6 L285.00,427.2 L286.00,427.6 L287.00,427.3 L288.00,427.2 L289.00,427.3 L290.00,427.2 L291.00,428.1 L292.00,427.8 L293.00,427.6 L294.00,427.8 L295.00,427.8 L296.00,427.5 L297.00,428.4 L298.00,428.1 L299.00,428.5 L300.00,428.1 L301.00,428.3 L302.00,428.0 L303.00,427.8 L304.00,428.8 L305.00,428.7 L306.00,428.3 L307.00,428.9 L308.00,428.9 L309.00,428.4 L310.00,428.7 L311.00,429.1 L312.00,428.7 L313.00,429.2 L314.00,428.6 L315.00,428.8 L316.00,429.1 L317.00,428.7 L318.00,428.8 L319.00,429.4 L320.00,429.1 L321.00,429.5 L322.00,428.9 L323.00,428.9 L324.00,429.2 L325.00,429.0 L326.00,429.9 L327.00,429.2 L328.00,429.5 L329.00,429.1 L330.00,429.6 L331.00,429.5 L332.00,429.6 L333.00,429.3 L334.00,429.4 L335.00,430.1 L336.00,429.7 L337.00,429.6 L338.00,429.6 L339.00,429.7 L340.00,429.7 L341.00,429.6 L342.00,430.2 L343.00,430.0 L344.00,429.8 L345.00,430.4 L346.00,429.8 L347.00,430.1 L348.00,430.7 L349.00,430.0 L350.00,430.4 L351.00,430.8 L352.00,430.8 L353.00,430.2 L354.00,430.4 L355.00,430.8 L356.00,430.5 L357.00,431.1 L358.00,430.4 L359.00,431.2 L360.00,430.8 L361.00,430.6 L362.00,430.8 L363.00,430.6 L364.00,431.2 L365.00,430.8 L366.00,431.4 L367.00,431.2 L368.00,431.0 L369.00,430.9 L370.00,431.3 L371.00,430.9 L372.00,431.6 L373.00,430.9 L374.00,431.3 L375.00,431.4 L376.00,431.2 L377.00,431.7 L378.00,431.4 L379.00,431.7 L380.00,431.6 L381.00,431.4 L382.00,431.5 L383.00,431.2 L384.00,431.4 L385.00,432.1 L386.00,431.6 L387.00,431.9 L388.00,431.4 L389.00,431.9 L390.00,431.7 L391.00,431.9 L392.00,431.7 L393.00,431.5 L394.00,431.8 L395.00,431.8 L396.00,431.7 L397.00,432.3 L398.00,431.9 L399.00,432.1 L400.00,432.6 L401.00,432.5 L402.00,432.6 L403.00,432.6 L404.00,431.9 L405.00,432.1 L406.00,431.9 L407.00,432.5 L408.00,432.5 L409.00,432.2 L410.00,432.3 L410.25,432.6 L410.50,432.6 L410.75,432.2 L411.00,432.8 L411.25,432.3 L411.50,432.6 L411.75,432.1 L412.00,432.0 L412.25,432.8 L412.50,432.7 L412.75,432.6 L413.00,432.0 L413.25,432.0 L413.50,432.1 L413.75,432.1 L414.00,432.2 L414.25,432.3 L414.50,432.0 L414.75,432.2 L415.00,432.6 L415.25,432.1 L415.50,432.7 L415.75,432.5 L416.00,432.6 L416.25,432.1 L416.50,432.3 L416.75,432.5 L417.00,432.2 L417.25,431.8 L417.50,432.6 L417.75,432.5 L418.00,432.0 L418.25,431.7 L418.50,432.5 L418.75,432.2 L419.00,431.6 L419.25,431.7 L419.50,431.4 L419.75,431.9 L420.00,431.1 L420.25,431.4 L420.50,430.7 L420.75,429.2 L421.00,428.8 L421.25,426.9 L421.50,425.3 L421.75,422.7 L422.00,418.8 L422.25,414.6 L422.50,410.5 L422.75,404.4 L423.00,398.7 L423.25,391.9 L423.50,385.2 L423.75,378.9 L424.00,373.0 L424.25,368.2 L424.50,364.6 L424.75,363.9 L425.00,364.2 L425.25,366.8 L425.50,371.3 L425.75,375.9 L426.00,382.7 L426.25,388.6 L426.50,396.0 L426.75,402.5 L427.00,407.8 L427.25,413.3 L427.50,418.1 L427.75,421.5 L428.00,424.3 L428.25,426.3 L428.50,427.8 L428.75,429.3 L429.00,430.3 L429.25,430.7 L429.50,431.3 L429.75,431.5 L430.00,432.2 L430.25,432.4 L430.50,432.1 L430.75,432.2 L431.00,432.5 L431.25,432.5 L431.50,433.0 L431.75,432.5 L432.00,432.5 L432.25,433.1 L432.50,432.4 L432.75,432.9 L433.00,432.7 L433.25,433.2 L433.50,432.9 L433.75,433.2 L434.00,432.6 L434.25,433.1 L434.50,433.1 L434.75,432.9 L435.00,433.3 L435.25,433.4 L435.50,432.7 L435.75,432.8 L436.00,432.9 L436.25,432.8 L436.50,432.7 L436.75,432.9 L437.00,432.8 L437.25,433.3 L437.50,433.1 L437.75,432.8 L438.00,433.0 L438.25,433.2 L438.50,433.1 L438.75,432.9 L439.00,432.8 L439.25,432.8 L439.50,433.7 L439.75,433.5 L440.00,432.9 L441.00,433.5 L442.00,433.8 L443.00,433.5 L444.00,433.0 L445.00,433.4 L446.00,433.4 L447.00,433.2 L448.00,433.6 L449.00,433.1 L450.00,434.0 L451.00,433.8 L452.00,433.8 L453.00,434.1 L454.00,433.9 L455.00,433.5 L456.00,433.5 L457.00,433.4 L458.00,433.4 L459.00,434.1 L460.00,434.2 L461.00,433.7 L462.00,433.6 L463.00,434.1 L464.00,434.3 L465.00,434.4 L466.00,433.7 L467.00,434.3 L468.00,434.4 L469.00,434.3 L470.00,433.9 L471.00,433.8 L472.00,434.5 L473.00,434.0 L474.00,434.1 L475.00,434.3 L476.00,434.1 L477.00,434.6 L478.00,434.0 L479.00,433.9 L480.00,434.4 L481.00,434.5 L482.00,434.7 L483.00,434.6 L484.00,434.8 L485.00,434.9 L486.00,434.5 L487.00,434.5 L488.00,434.2 L489.00,434.3 L490.00,434.7 L491.00,434.2 L492.00,434.8 L493.00,434.3 L494.00,434.6 L495.00,435.1 L496.00,434.3 L497.00,434.3 L498.00,434.7 L499.00,434.4 L500.00,435.0 L501.00,434.3 L502.00,435.2 L503.00,435.2 L504.00,435.1 L505.00,434.8 L506.00,434.7 L507.00,435.1 L508.00,434.9 L509.00,434.9 L510.00,434.8 L511.00,434.9 L512.00,435.2 L513.00,435.3 L514.00,435.4 L515.00,434.7 L516.00,434.9 L517.00,435.0 L518.00,435.2 L519.00,435.0 L520.00,434.8 L521.00,434.8 L522.00,435.0 L523.00,435.2 L524.00,435.7 L525.00,435.6 L526.00,435.6 L527.00,435.7 L528.00,435.7 L529.00,435.4 L530.00,435.6 L531.00,434.9 L532.00,435.5 L533.00,435.5 L534.00,435.2 L535.00,435.4 L536.00,435.8 L537.00,435.4 L538.00,435.6 L539.00,435.2 L540.00,435.3 L541.00,435.8 L541.25,435.0 L541.50,435.1 L541.75,435.6 L542.00,435.4 L542.25,435.0 L542.50,435.6 L542.75,435.3 L543.00,435.5 L543.25,435.3 L543.50,435.5 L543.75,435.5 L544.00,435.3 L544.25,435.0 L544.50,435.1 L544.75,435.8 L545.00,435.5 L545.25,435.0 L545.50,435.8 L545.75,435.1 L546.00,435.0 L546.25,435.4 L546.50,435.1 L546.75,435.4 L547.00,435.4 L547.25,435.1 L547.50,435.4 L547.75,434.9 L548.00,435.3 L548.25,435.4 L548.50,434.8 L548.75,435.1 L549.00,434.8 L549.25,435.1 L549.50,435.5 L549.75,435.1 L550.00,435.2 L550.25,435.2 L550.50,434.4 L550.75,435.1 L551.00,434.5 L551.25,433.4 L551.50,433.5 L551.75,432.1 L552.00,430.6 L552.25,429.7 L552.50,427.0 L552.75,424.3 L553.00,420.1 L553.25,416.5 L553.50,411.0 L553.75,406.0 L554.00,400.8 L554.25,395.2 L554.50,391.0 L554.75,386.8 L555.00,384.2 L555.25,383.5 L555.50,383.7 L555.75,386.2 L556.00,389.4 L556.25,394.1 L556.50,398.9 L556.75,404.6 L557.00,409.9 L557.25,414.1 L557.50,419.2 L557.75,422.6 L558.00,426.2 L558.25,428.6 L558.50,430.7 L558.75,431.5 L559.00,432.8 L559.25,433.9 L559.50,434.7 L559.75,434.8 L560.00,434.4 L560.25,435.1 L560.50,434.7 L560.75,435.2 L561.00,435.5 L561.25,434.9 L561.50,435.8 L561.75,435.5 L562.00,435.2 L562.25,435.1 L562.50,435.4 L562.75,435.8 L563.00,435.6 L563.25,435.1 L563.50,435.1 L563.75,435.2 L564.00,435.9 L564.25,435.3 L564.50,435.6 L564.75,435.4 L565.00,435.8 L565.25,435.5 L565.50,435.3 L565.75,436.0 L566.00,435.7 L566.25,435.8 L566.50,436.0 L566.75,436.1 L567.00,435.2 L567.25,435.5 L567.50,435.3 L567.75,435.7 L568.00,436.0 L568.25,436.0 L568.50,435.2 L568.75,435.4 L569.00,436.0 L569.25,435.9 L569.50,435.6 L569.75,435.6 L570.00,435.3 L570.25,436.0 L570.50,435.6 L570.75,436.0 L571.00,435.8 L571.25,435.2 L571.50,435.5 L571.75,435.3 L572.00,436.0 L572.25,435.7 L572.50,435.1 L572.75,435.2 L573.00,435.4 L573.25,435.5 L573.50,435.6 L573.75,435.4 L574.00,435.3 L574.25,434.9 L574.50,435.4 L574.75,435.1 L575.00,434.7 L575.25,435.1 L575.50,435.4 L575.75,434.3 L576.00,434.1 L576.25,434.2 L576.50,433.2 L576.75,432.3 L577.00,431.4 L577.25,429.7 L577.50,428.0 L577.75,425.5 L578.00,422.9 L578.25,419.3 L578.50,414.2 L578.75,410.0 L579.00,405.2 L579.25,400.0 L579.50,394.6 L579.75,389.4 L580.00,385.0 L580.25,381.2 L580.50,378.7 L580.75,378.2 L581.00,378.7 L581.25,380.7 L581.50,383.5 L581.75,387.3 L582.00,392.5 L582.25,397.7 L582.50,402.8 L582.75,408.2 L583.00,412.7 L583.25,417.4 L583.50,421.1 L583.75,424.0 L584.00,427.0 L584.25,429.1 L584.50,431.4 L584.75,432.2 L585.00,433.1 L585.25,433.6 L585.50,434.1 L585.75,434.6 L586.00,434.6 L586.25,434.7 L586.50,435.7 L586.75,435.4 L587.00,435.4 L587.25,435.6 L587.50,435.4 L587.75,435.3 L588.00,435.2 L588.25,435.5 L588.50,435.5 L588.75,436.0 L589.00,435.8 L589.25,436.2 L589.50,435.7 L589.75,436.3 L590.00,435.9 L590.25,435.5 L590.50,435.6 L590.75,436.0 L591.00,436.4 L591.25,435.8 L591.50,436.2 L591.75,435.9 L592.00,436.3 L592.25,435.5 L592.50,436.0 L592.75,436.4 L593.00,435.8 L593.25,435.7 L593.50,435.5 L593.75,435.7 L594.00,435.8 L594.25,436.2 L594.50,435.7 L594.75,435.9 L595.00,435.7 L595.25,436.1 L595.50,436.4 L595.75,436.1 L596.00,435.7 L596.25,436.2 L596.50,436.4 L596.75,436.1 L597.00,435.5 L597.25,436.3 L597.50,436.3 L597.75,435.8 L598.00,435.6 L598.25,435.6 L598.50,435.9 L598.75,436.2 L599.00,436.0 L599.25,436.2 L599.50,435.4 L599.75,435.4 L600.00,435.7 L600.25,435.4 L600.50,434.8 L600.75,434.6 L601.00,433.6 L601.25,432.5 L601.50,431.7 L601.75,429.9 L602.00,428.6 L602.25,426.1 L602.50,423.6 L602.75,420.7 L603.00,417.1 L603.25,413.9 L603.50,410.1 L603.75,407.9 L604.00,404.8 L604.25,403.2 L604.50,401.0 L604.75,401.2 L605.00,402.0 L605.25,403.2 L605.50,405.4 L605.75,408.4 L606.00,411.6 L606.25,415.6 L606.50,418.3 L606.75,422.2 L607.00,424.7 L607.25,427.2 L607.50,429.4 L607.75,431.1 L608.00,432.5 L608.25,433.5 L608.50,434.0 L608.75,434.9 L609.00,434.9 L609.25,435.6 L609.50,435.8 L609.75,436.0 L610.00,435.6 L610.25,436.2 L610.50,436.4 L610.75,435.9 L611.00,435.8 L611.25,436.1 L611.50,436.5 L611.75,435.7 L612.00,435.6 L612.25,436.1 L612.50,436.3 L612.75,436.4 L613.00,436.0 L613.25,436.6 L613.50,435.9 L613.75,436.4 L614.00,435.8 L614.25,435.7 L614.50,435.8 L614.75,435.8 L615.00,436.2 L615.25,436.3 L615.50,435.9 L615.75,436.7 L616.00,436.1 L616.25,435.9 L616.50,435.9 L616.75,436.5 L617.00,436.6 L617.25,435.9 L617.50,435.8 L617.75,436.5 L618.00,436.0 L618.25,436.7 L618.50,436.2 L618.75,436.4 L619.00,436.1 L619.25,436.5 L619.50,436.2 L619.75,436.0 L620.75,436.6 L621.75,435.8 L622.75,436.4 L623.75,435.7 L624.75,436.2 L625.75,435.9 L626.75,436.3 L627.75,435.4 L628.00,435.9 L628.25,435.7 L628.50,436.2 L628.75,436.2 L629.00,435.8 L629.25,435.4 L629.50,435.4 L629.75,435.4 L630.00,435.5 L630.25,435.3 L630.50,435.2 L630.75,435.7 L631.00,435.5 L631.25,435.1 L631.50,435.7 L631.75,434.9 L632.00,435.2 L632.25,434.7 L632.50,435.3 L632.75,435.2 L633.00,434.5 L633.25,434.9 L633.50,434.9 L633.75,434.2 L634.00,434.1 L634.25,434.1 L634.50,434.4 L634.75,433.4 L635.00,433.7 L635.25,433.3 L635.50,432.8 L635.75,432.5 L636.00,432.2 L636.25,430.7 L636.50,430.2 L636.75,428.2 L637.00,426.7 L637.25,424.1 L637.50,420.0 L637.75,416.2 L638.00,410.6 L638.25,402.7 L638.50,393.5 L638.75,382.7 L639.00,370.6 L639.25,354.5 L639.50,338.0 L639.75,317.8 L640.00,297.1 L640.25,273.8 L640.50,250.3 L640.75,227.1 L641.00,203.4 L641.25,182.2 L641.50,163.8 L641.75,148.2 L642.00,137.3 L642.25,131.4 L642.50,129.9 L642.75,135.1 L643.00,145.7 L643.25,160.2 L643.50,177.9 L643.75,199.4 L644.00,221.9 L644.25,245.8 L644.50,269.2 L644.75,292.0 L645.00,314.6 L645.25,333.8 L645.50,352.1 L645.75,367.0 L646.00,380.8 L646.25,391.7 L646.50,401.3 L646.75,408.6 L647.00,415.1 L647.25,419.3 L647.50,423.5 L647.75,426.0 L648.00,427.7 L648.25,429.6 L648.50,430.9 L648.75,432.2 L649.00,432.3 L649.25,432.6 L649.50,433.8 L649.75,434.0 L650.00,434.1 L650.25,433.9 L650.50,434.0 L650.75,434.2 L651.00,434.2 L651.25,434.3 L651.50,434.8 L651.75,434.9 L652.00,435.1 L652.25,435.0 L652.50,434.7 L652.75,435.5 L653.00,435.5 L653.25,435.5 L653.50,435.6 L653.75,435.8 L654.00,436.1 L654.25,436.1 L654.50,436.0 L654.75,435.7 L655.00,435.7 L655.25,435.8 L655.50,436.4 L655.75,435.9 L656.00,435.9 L656.25,436.0 L656.50,435.7 L656.75,436.6 L657.00,435.6 L657.25,436.3 L657.50,436.6 L657.75,436.0 L658.00,436.4 L658.25,436.1 L658.50,436.0 L658.75,436.0 L659.00,436.0 L659.25,436.7 L659.50,436.7 L659.75,436.8 L660.00,436.0 L660.25,436.6 L660.50,436.3 L660.75,436.6 L661.00,436.5 L661.25,436.3 L661.50,437.0 L661.75,436.0 L662.00,436.7 L662.25,436.9 L662.50,436.5 L662.75,436.6 L663.00,437.0 L663.25,436.2 L663.50,436.6 L663.75,436.7 L664.00,436.2 L664.25,436.5 L664.50,436.1 L664.75,436.0 L665.00,435.9 L665.25,435.7 L665.50,435.0 L665.75,434.9 L666.00,434.3 L666.25,433.4 L666.50,433.2 L666.75,432.2 L667.00,432.1 L667.25,430.9 L667.50,430.5 L667.75,429.6 L668.00,429.0 L668.25,428.4 L668.50,428.0 L668.75,428.8 L669.00,428.5 L669.25,428.8 L669.50,429.3 L669.75,430.2 L670.00,430.3 L670.25,431.0 L670.50,432.3 L670.75,432.7 L671.00,433.6 L671.25,434.4 L671.50,435.0 L671.75,435.4 L672.00,435.0 L672.25,435.7 L672.50,436.4 L672.75,436.5 L673.00,436.0 L673.25,436.1 L673.50,436.3 L673.75,436.2 L674.00,436.5 L674.25,437.0 L674.50,436.7 L674.75,436.7 L675.00,436.3 L675.25,436.6 L675.50,437.2 L675.75,436.9 L676.00,436.7 L676.25,436.7 L676.50,437.0 L676.75,437.0 L677.00,436.3 L677.25,436.8 L677.50,436.5 L677.75,436.6 L678.00,436.3 L678.25,436.4 L678.50,436.4 L678.75,436.3 L679.00,435.9 L679.25,435.9 L679.50,436.1 L679.75,435.4 L680.00,435.2 L680.25,435.2 L680.50,434.1 L680.75,433.2 L681.00,431.9 L681.25,430.9 L681.50,428.2 L681.75,426.2 L682.00,423.5 L682.25,419.3 L682.50,415.6 L682.75,411.7 L683.00,407.0 L683.25,402.2 L683.50,397.5 L683.75,394.0 L684.00,390.7 L684.25,388.8 L684.50,387.3 L684.75,387.5 L685.00,389.1 L685.25,391.7 L685.50,394.6 L685.75,398.7 L686.00,403.3 L686.25,408.2 L686.50,412.0 L686.75,417.0 L687.00,420.6 L687.25,423.7 L687.50,426.9 L687.75,429.0 L688.00,430.6 L688.25,432.8 L688.50,433.6 L688.75,434.6 L689.00,435.2 L689.25,436.1 L689.50,436.3 L689.75,435.8 L690.00,436.5 L690.25,436.5 L690.50,436.6 L690.75,437.1 L691.00,436.7 L691.25,436.8 L691.50,437.3 L691.75,436.8 L692.00,436.9 L692.25,437.0 L692.50,437.3 L692.75,437.2 L693.00,437.3 L693.25,436.9 L693.50,436.6 L693.75,437.2 L694.00,437.1 L694.25,437.4 L694.50,437.4 L694.75,436.7 L695.00,436.9 L695.25,436.7 L695.50,437.5 L695.75,436.8 L696.00,436.8 L696.25,437.4 L696.50,437.3 L696.75,436.8 L697.00,437.4 L697.25,437.4 L697.50,437.2 L697.75,436.8 L698.00,437.4 L698.25,437.2 L698.50,437.3 L698.75,437.8 L699.00,437.6 L699.25,437.6 L699.50,436.9 L699.75,437.1 L700.75,437.3 L701.75,436.8 L702.75,437.8 L703.75,437.1 L704.75,437.1 L705.75,437.2 L706.75,437.2 L707.75,437.8 L708.75,437.5 L709.75,437.5 L710.75,437.4 L711.75,437.0 L712.75,437.3 L713.75,437.9 L714.75,437.8 L715.75,437.9 L716.75,437.3 L717.75,437.2 L718.75,437.1 L719.75,437.6 L720.75,437.4 L721.75,437.5 L722.75,437.6 L723.75,437.7 L724.75,437.5 L725.75,437.9 L726.75,437.3 L727.75,438.0 L728.75,437.7 L729.75,437.2 L730.75,437.5 L731.75,437.7 L732.75,437.6 L733.75,437.7 L734.75,437.5 L735.75,437.5 L736.75,438.0 L737.75,437.5 L738.75,437.9 L739.75,438.0 L740.75,437.8 L741.75,437.7 L742.75,438.2 L743.75,437.7 L744.75,438.1 L745.75,437.3 L746.75,437.7 L747.75,437.9 L748.75,437.3 L749.75,438.1 L750.75,437.4 L751.75,437.9 L752.75,437.5 L753.75,438.2 L754.75,437.9 L755.75,438.1 L756.75,437.8 L757.75,438.0 L758.75,438.0 L759.75,437.6 L760.75,437.6 L761.75,438.2 L762.75,437.5 L763.75,438.3 L764.75,437.6 L765.75,437.5 L766.75,437.5 L767.75,438.2 L768.75,438.4 L769.75,437.8 L770.75,438.1 L771.75,437.7 L772.75,438.3 L773.75,438.1 L774.75,437.6 L775.75,437.5 L776.75,438.1 L777.75,437.5 L778.75,438.3 L779.75,437.8 L780.75,437.7 L781.75,438.1 L782.75,437.8 L783.75,438.0 L784.75,437.6 L785.75,438.4 L786.75,437.8 L787.75,438.4 L788.75,437.7 L789.75,438.3 L790.75,438.5 L791.75,437.9 L792.75,437.6 L793.75,437.9 L794.75,438.2 L795.75,437.8 L796.75,438.1 L797.75,437.7 L798.75,438.0 L799.75,438.3 L800.75,438.0 L801.75,438.3 L802.75,437.7 L803.75,438.4 L804.75,437.7 L805.75,438.5 L806.75,438.6 L807.75,438.5 L808.75,438.1 L809.75,437.9 L810.75,438.0 L811.75,438.4 L812.75,438.1 L813.75,438.6 L814.75,437.7 L815.75,438.1 L816.75,438.5 L817.75,438.2 L818.75,438.2 L819.75,437.7 L820.75,437.8 L821.75,437.9 L822.75,438.6 L823.75,438.5 L824.75,437.9 L825.75,438.6 L826.75,437.7 L827.75,438.3 L828.75,438.7 L829.75,438.0 L830.75,438.6 L831.75,438.3 L832.75,437.7 L833.75,438.0 L834.75,438.1 L835.75,437.9 L836.75,438.4 L837.75,437.9 L838.75,438.5 L839.75,438.0 L840.75,437.8 L841.75,438.2 L842.75,437.8 L843.75,438.2 L844.75,438.5 L845.75,438.2 L846.75,438.1 L847.75,437.7 L848.75,438.1 L849.00,437.7 L849.25,438.2 L849.50,437.7 L849.75,438.1 L850.00,437.9 L850.25,437.9 L850.50,438.2 L850.75,437.7 L851.00,437.7 L851.25,438.5 L851.50,437.8 L851.75,438.3 L852.00,438.3 L852.25,437.9 L852.50,437.6 L852.75,437.5 L853.00,438.3 L853.25,437.5 L853.50,437.8 L853.75,437.9 L854.00,437.4 L854.25,437.7 L854.50,437.4 L854.75,437.7 L855.00,437.5 L855.25,437.3 L855.50,437.0 L855.75,437.0 L856.00,436.6 L856.25,436.3 L856.50,436.1 L856.75,436.3 L857.00,435.4 L857.25,435.1 L857.50,433.4 L857.75,433.4 L858.00,431.8 L858.25,430.8 L858.50,429.1 L858.75,427.4 L859.00,424.9 L859.25,423.2 L859.50,420.2 L859.75,417.7 L860.00,414.6 L860.25,412.1 L860.50,409.2 L860.75,405.9 L861.00,403.6 L861.25,399.9 L861.50,397.8 L861.75,395.2 L862.00,393.6 L862.25,392.3 L862.50,391.3 L862.75,390.3 L863.00,390.6 L863.25,391.7 L863.50,393.4 L863.75,394.2 L864.00,396.9 L864.25,399.5 L864.50,402.4 L864.75,404.8 L865.00,408.3 L865.25,410.9 L865.50,414.4 L865.75,416.3 L866.00,420.0 L866.25,422.0 L866.50,424.3 L866.75,426.1 L867.00,428.1 L867.25,430.2 L867.50,431.6 L867.75,432.2 L868.00,433.5 L868.25,434.1 L868.50,434.9 L868.75,435.5 L869.00,436.0 L869.25,437.1 L869.50,437.4 L869.75,437.4 L870.00,437.3 L870.25,437.4 L870.50,437.8 L870.75,438.1 L871.00,438.0 L871.25,437.9 L871.50,437.5 L871.75,438.0 L872.00,438.3 L872.25,438.2 L872.50,437.6 L872.75,438.2 L873.00,437.9 L873.25,437.7 L873.50,438.5 L873.75,438.2 L874.00,438.3 L874.25,437.7 L874.50,438.4 L874.75,438.6 L875.00,438.5 L875.25,438.4 L875.50,438.5 L875.75,438.5 L876.00,438.3 L876.25,438.1 L876.50,438.5 L876.75,438.5 L877.00,438.6 L877.25,438.0 L877.50,438.7 L877.75,438.3 L878.00,438.7 L879.00,437.9 L880.00,438.7 L881.00,438.6 L882.00,438.1 L883.00,438.7 L884.00,438.1 L885.00,438.0 L886.00,438.3 L886.25,438.1 L886.50,438.3 L886.75,438.8 L887.00,438.5 L887.25,438.6 L887.50,438.2 L887.75,438.6 L888.00,438.6 L888.25,438.5 L888.50,438.8 L888.75,438.7 L889.00,438.3 L889.25,437.9 L889.50,438.5 L889.75,438.7 L890.00,438.2 L890.25,438.4 L890.50,438.7 L890.75,438.6 L891.00,437.8 L891.25,438.3 L891.50,437.9 L891.75,437.9 L892.00,438.6 L892.25,438.2 L892.50,438.4 L892.75,438.3 L893.00,438.1 L893.25,438.0 L893.50,438.2 L893.75,438.6 L894.00,438.4 L894.25,438.0 L894.50,437.8 L894.75,438.0 L895.00,438.4 L895.25,438.0 L895.50,438.2 L895.75,438.2 L896.00,437.4 L896.25,437.8 L896.50,436.9 L896.75,437.4 L897.00,436.4 L897.25,436.0 L897.50,436.1 L897.75,434.9 L898.00,434.0 L898.25,433.9 L898.50,432.7 L898.75,432.1 L899.00,430.6 L899.25,429.7 L899.50,429.2 L899.75,427.9 L900.00,427.5 L900.25,426.1 L900.50,426.3 L900.75,425.4 L901.00,425.7 L901.25,425.4 L901.50,426.0 L901.75,427.4 L902.00,427.6 L902.25,428.9 L902.50,429.3 L902.75,430.4 L903.00,431.1 L903.25,432.5 L903.50,433.7 L903.75,434.2 L904.00,434.8 L904.25,436.0 L904.50,436.5 L904.75,436.8 L905.00,436.6 L905.25,437.4 L905.50,437.5 L905.75,438.2 L906.00,437.8 L906.25,438.2 L906.50,438.3 L906.75,438.1 L907.00,438.3 L907.25,438.5 L907.50,438.7 L907.75,438.3 L908.00,438.2 L908.25,438.8 L908.50,437.9 L908.75,438.7 L909.00,438.6 L909.25,438.5 L909.50,438.4 L909.75,438.7 L910.00,438.8 L910.25,438.7 L910.50,438.7 L910.75,438.0 L911.00,438.3 L911.25,438.1 L911.50,438.9 L911.75,438.8 L912.00,438.1 L912.25,438.5 L912.50,438.5 L912.75,438.0 L913.00,438.4 L913.25,438.7 L913.50,438.6 L913.75,438.3 L914.00,438.7 L914.25,438.3 L914.50,438.5 L914.75,438.4 L915.00,439.0 L915.25,438.6 L915.50,438.8 L915.75,438.7 L916.00,438.4 L917.00,439.0 L918.00,438.7 L919.00,438.7 L920.00,438.3 L921.00,438.2 L922.00,438.6 L923.00,438.9 L924.00,438.8 L925.00,438.4 L926.00,438.2 L927.00,438.6 L928.00,438.9 L928.25,438.2 L928.50,438.8 L928.75,438.2 L929.00,438.4 L929.25,438.1 L929.50,438.4 L929.75,438.4 L930.00,439.0 L930.25,439.0 L930.50,438.2 L930.75,438.4 L931.00,439.0 L931.25,438.3 L931.50,438.4 L931.75,438.5 L932.00,438.2 L932.25,438.3 L932.50,438.5 L932.75,438.4 L933.00,439.0 L933.25,438.3 L933.50,438.3 L933.75,439.0 L934.00,438.5 L934.25,438.9 L934.50,438.7 L934.75,438.8 L935.00,438.4 L935.25,438.2 L935.50,438.8 L935.75,438.5 L936.00,438.6 L936.25,438.7 L936.50,438.8 L936.75,438.3 L937.00,438.3 L937.25,438.9 L937.50,438.5 L937.75,438.2 L938.00,438.5 L938.25,438.0 L938.50,438.5 L938.75,437.6 L939.00,438.3 L939.25,437.9 L939.50,437.5 L939.75,438.0 L940.00,437.1 L940.25,436.9 L940.50,436.5 L940.75,436.7 L941.00,436.7 L941.25,436.4 L941.50,435.9 L941.75,436.1 L942.00,435.2 L942.25,435.2 L942.50,435.4 L942.75,435.7 L943.00,435.3 L943.25,435.4 L943.50,435.6 L943.75,435.3 L944.00,436.0 L944.25,436.0 L944.50,435.8 L944.75,436.1 L945.00,436.7 L945.25,436.5 L945.50,436.6 L945.75,437.5 L946.00,437.4 L946.25,437.6 L946.50,437.9 L946.75,438.3 L947.00,437.6 L947.25,438.0 L947.50,437.8 L947.75,438.2 L948.00,438.4 L948.25,438.8 L948.50,438.6 L948.75,438.6 L949.00,438.4 L949.25,438.6 L949.50,438.3 L949.75,438.9 L950.00,438.9 L950.25,438.9 L950.50,438.2 L950.75,438.8 L951.00,438.9 L951.25,438.6 L951.50,439.0 L951.75,439.0 L952.00,438.9 L952.25,438.9 L952.50,438.8 L952.75,439.0 L953.00,438.3 L953.25,438.8 L953.50,438.8 L953.75,438.7 L954.00,438.4 L954.25,438.2 L954.50,438.7 L954.75,439.0 L955.00,438.4 L955.25,438.3 L955.50,438.4 L955.75,438.2 L956.00,438.8 L956.25,439.1 L956.50,438.9 L956.75,438.5 L957.00,438.8 L957.25,438.2 L957.50,439.0 L957.75,438.5 L958.00,438.1 L958.25,438.8 L959.25,438.3 L960.25,438.4 L961.25,438.2 L962.25,438.6 L963.25,438.7 L964.25,439.0 L965.25,438.2 L966.25,439.0 L967.25,438.3 L968.25,438.4 L969.25,438.8 L970.25,438.5 L971.25,438.5 L972.25,438.8 L973.25,438.4 L974.25,439.0 L975.25,438.4 L976.25,439.0 L977.25,439.0 L978.25,438.7 L979.25,438.2 L980.25,439.0 L981.25,438.2 L982.25,438.7 L983.25,438.6 L984.25,438.3 L985.25,438.8 L986.25,438.9 L987.25,438.8 L988.25,438.6 L989.25,438.7 L990.25,438.8 L991.25,438.5 L992.25,439.1 L993.25,439.2 L994.25,439.0 L995.25,439.2 L996.25,438.6 L997.25,439.2 L998.25,438.3 L999.25,438.7 L1000.25,438.4 L1001.25,438.7 L1002.25,438.9 L1003.25,438.9 L1004.25,438.7 L1005.25,438.6 L1006.25,438.4 L1006.50,438.6 L1006.75,438.5 L1007.00,438.4 L1007.25,439.0 L1007.50,438.7 L1007.75,438.7 L1008.00,438.4 L1008.25,438.9 L1008.50,438.4 L1008.75,438.5 L1009.00,438.8 L1009.25,438.9 L1009.50,439.2 L1009.75,438.9 L1010.00,439.1 L1010.25,439.1 L1010.50,438.9 L1010.75,438.9 L1011.00,438.2 L1011.25,438.4 L1011.50,438.2 L1011.75,439.0 L1012.00,438.9 L1012.25,438.8 L1012.50,438.4 L1012.75,438.5 L1013.00,438.3 L1013.25,438.7 L1013.50,439.1 L1013.75,438.4 L1014.00,438.1 L1014.25,438.1 L1014.50,438.3 L1014.75,438.7 L1015.00,438.5 L1015.25,438.0 L1015.50,437.5 L1015.75,437.3 L1016.00,437.1 L1016.25,437.4 L1016.50,436.7 L1016.75,436.8 L1017.00,436.2 L1017.25,435.5 L1017.50,434.5 L1017.75,434.2 L1018.00,432.7 L1018.25,431.9 L1018.50,431.5 L1018.75,430.6 L1019.00,429.5 L1019.25,428.7 L1019.50,427.8 L1019.75,428.1 L1020.00,427.4 L1020.25,427.3 L1020.50,427.2 L1020.75,426.7 L1021.00,427.1 L1021.25,427.2 L1021.50,428.1 L1021.75,428.7 L1022.00,428.8 L1022.25,429.4 L1022.50,430.5 L1022.75,431.7 L1023.00,432.3 L1023.25,432.7 L1023.50,434.3 L1023.75,435.0 L1024.00,435.3 L1024.25,435.4 L1024.50,436.8 L1024.75,436.9 L1025.00,436.8 L1025.25,437.3 L1025.50,437.9 L1025.75,438.3 L1026.00,438.1 L1026.25,438.4 L1026.50,438.1 L1026.75,438.2 L1027.00,438.9 L1027.25,438.4 L1027.50,438.2 L1027.75,438.7 L1028.00,438.2 L1028.25,438.3 L1028.50,438.6 L1028.75,438.8 L1029.00,438.8 L1029.25,438.9 L1029.50,438.6 L1029.75,438.3 L1030.00,438.9 L1030.25,438.3 L1030.50,438.7 L1030.75,438.6 L1031.00,438.9 L1031.25,438.9 L1031.50,438.5 L1031.75,438.9 L1032.00,438.9 L1032.25,438.7 L1032.50,438.4 L1032.75,439.1 L1033.00,438.8 L1033.25,438.3 L1033.50,438.5 L1033.75,439.2 L1034.00,438.5 L1034.25,438.6 L1034.50,439.0 L1034.75,439.1 L1035.00,438.9 L1035.25,439.0 L1035.50,438.3 L1035.75,438.3 L1036.00,439.2 L1036.25,439.0 L1036.50,438.3 L1036.75,438.3 L1037.00,438.5 L1037.25,439.2 L1037.50,438.4 L1037.75,438.9 L1038.00,439.1 L1038.25,438.8 L1038.50,439.1 L1038.75,438.4 L1039.00,438.3 L1039.25,438.1 L1039.50,438.8 L1039.75,438.1 L1040.00,438.9 L1040.25,438.6 L1040.50,437.9 L1040.75,438.4 L1041.00,437.6 L1041.25,437.8 L1041.50,437.2 L1041.75,437.6 L1042.00,437.4 L1042.25,437.2 L1042.50,435.9 L1042.75,436.5 L1043.00,435.8 L1043.25,435.8 L1043.50,435.1 L1043.75,435.0 L1044.00,434.7 L1044.25,434.7 L1044.50,433.8 L1044.75,433.7 L1045.00,434.1 L1045.25,433.9 L1045.50,434.1 L1045.75,433.9 L1046.00,434.8 L1046.25,434.4 L1046.50,435.5 L1046.75,435.8 L1047.00,435.8 L1047.25,435.8 L1047.50,436.6 L1047.75,436.5 L1048.00,437.0 L1048.25,436.9 L1048.50,438.0 L1048.75,437.8 L1049.00,437.8 L1049.25,437.7 L1049.50,438.5 L1049.75,438.7 L1050.00,438.8 L1050.25,438.1 L1050.50,438.5 L1050.75,438.4 L1051.00,438.9 L1051.25,438.4 L1051.50,438.8 L1051.75,439.2 L1052.00,439.0 L1052.25,438.3 L1052.50,438.4 L1052.75,438.4 L1053.00,439.0 L1053.25,438.9 L1053.50,438.8 L1053.75,438.8 L1054.00,438.7 L1054.25,438.9 L1054.50,439.0 L1054.75,439.2 L1055.00,439.0 L1055.25,439.1 L1055.50,439.2 L1055.75,439.2 L1056.00,439.0 L1056.25,438.4 L1056.50,439.0 L1056.75,439.2 L1057.00,438.8 L1057.25,439.2 L1057.50,438.5 L1057.75,439.3 L1058.00,438.8 L1058.25,439.0 L1058.50,438.6 L1058.75,438.6 L1059.00,438.7 L1059.25,438.7 L1059.50,438.4 L1059.75,438.8 L1060.00,439.3 L1060.25,439.0 L1061.25,439.3 L1062.25,439.1 L1063.25,439.2 L1064.25,439.3 L1065.25,439.1 L1066.25,438.6 L1067.25,438.6 L1068.25,438.8 L1069.25,438.4 L1070.25,438.6 L1071.25,439.3 L1072.25,439.3 L1073.25,438.7 L1074.25,439.1 L1075.25,439.1 L1076.25,439.3 L1077.25,439.2 L1078.25,438.9 L1079.25,438.5 L1080.25,439.2 L1081.25,438.7 L1082.25,439.0 L1083.25,438.8 L1084.25,438.9 L1085.25,439.4 L1086.25,438.6 L1087.25,438.9 L1088.25,439.0 L1089.25,438.9 L1090.25,439.3 L1091.25,438.8 L1092.25,439.3 L1093.25,439.1 L1094.25,439.4 L1095.25,438.5 L1096.25,438.6 L1097.25,438.7 L1098.25,439.3 L1099.25,438.4 L1100.25,438.7 L1101.25,439.1 L1102.25,439.4 L1103.25,438.6 L1104.25,438.9 L1105.25,439.1 L1106.25,439.1 L1107.25,439.2 L1108.25,439.2 L1109.25,438.7 L1110.25,438.7 L1111.25,438.4 L1112.25,439.1 L1113.25,438.6 L1114.25,438.7 L1115.25,439.4 L1116.25,439.1 L1117.25,439.0 L1118.25,439.1 L1119.25,439.0 L1120.25,439.1 L1121.25,438.7 L1122.25,438.5 L1123.25,438.5 L1124.25,438.4 L1125.25,438.8 L1126.25,438.6 L1127.25,438.5 L1128.25,438.9 L1129.25,439.4 L1130.25,439.1 L1131.25,438.7 L1132.25,439.2 L1133.25,438.6 L1134.25,438.5 L1135.25,438.7 L1136.25,438.8 L1137.25,439.1 L1138.25,438.9 L1139.25,439.1 L1140.25,438.5 L1141.25,439.3 L1142.25,438.7 L1143.25,439.2 L1144.25,438.4 L1145.25,439.2 L1146.25,438.6 L1147.25,439.2 L1148.25,439.2 L1149.25,439.0 L1150.25,438.6 L1151.25,438.3 L1152.25,438.5 L1153.25,439.2 L1153.50,438.4 L1153.75,438.9 L1154.00,438.9 L1154.25,438.9 L1154.50,438.4 L1154.75,438.4 L1155.00,438.3 L1155.25,439.2 L1155.50,438.6 L1155.75,438.9 L1156.00,438.8 L1156.25,438.4 L1156.50,438.2 L1156.75,438.1 L1157.00,439.0 L1157.25,438.2 L1157.50,439.0 L1157.75,438.4 L1158.00,438.7 L1158.25,438.0 L1158.50,438.6 L1158.75,438.0 L1159.00,438.0 L1159.25,438.0 L1159.50,437.5 L1159.75,437.4 L1160.00,437.7 L1160.25,437.0 L1160.50,436.8 L1160.75,436.8 L1161.00,435.9 L1161.25,435.4 L1161.50,434.9 L1161.75,434.4 L1162.00,433.7 L1162.25,433.2 L1162.50,432.2 L1162.75,431.7 L1163.00,429.8 L1163.25,429.4 L1163.50,428.4 L1163.75,426.5 L1164.00,425.0 L1164.25,424.1 L1164.50,422.4 L1164.75,421.3 L1165.00,420.2 L1165.25,418.2 L1165.50,416.9 L1165.75,416.0 L1166.00,414.5 L1166.25,413.5 L1166.50,412.8 L1166.75,411.7 L1167.00,411.1 L1167.25,411.0 L1167.50,410.9 L1167.75,411.4 L1168.00,411.2 L1168.25,411.2 L1168.50,411.9 L1168.75,413.3 L1169.00,414.0 L1169.25,415.4 L1169.50,416.7 L1169.75,417.9 L1170.00,418.5 L1170.25,420.7 L1170.50,421.7 L1170.75,422.8 L1171.00,424.1 L1171.25,426.1 L1171.50,426.7 L1171.75,427.8 L1172.00,429.2 L1172.25,430.9 L1172.50,431.5 L1172.75,432.6 L1173.00,432.8 L1173.25,434.0 L1173.50,434.5 L1173.75,435.0 L1174.00,435.9 L1174.25,436.1 L1174.50,436.3 L1174.75,437.5 L1175.00,437.2 L1175.25,437.2 L1175.50,437.2 L1175.75,438.0 L1176.00,438.1 L1176.25,437.7 L1176.50,438.2 L1176.75,438.6 L1177.00,438.5 L1177.25,438.2 L1177.50,438.5 L1177.75,438.7 L1178.00,438.8 L1178.25,438.3 L1178.50,439.0 L1178.75,439.1 L1179.00,438.9 L1179.25,439.1 L1179.50,438.6 L1179.75,439.1 L1180.00,438.4 L1180.25,438.5 L1180.50,438.9 L1180.75,439.2 L1181.00,438.4 L1181.25,438.5 L1181.50,438.3 L1181.75,438.7 L1182.00,438.5 L1182.25,438.5 L1182.50,439.1 L1182.75,438.9 L1183.75,439.3 L1184.75,438.8 L1185.75,439.1 L1186.75,438.4 L1187.75,439.4 L1188.75,438.6 L1189.75,438.9 L1190.75,438.9 L1191.75,439.4 L1192.75,438.9 L1193.75,439.4 L1194.75,439.1 L1195.75,438.7 L1196.75,439.3 L1197.75,438.7 L1198.75,439.5 L1199.75,438.9 L1200.75,438.7 L1201.75,439.4 L1202.75,438.8 L1203.75,438.9 L1204.75,438.8 L1205.75,439.2 L1206.75,438.5 L1207.75,438.9 L1208.75,438.7 L1209.75,439.3 L1210.75,438.5 L1211.75,439.1 L1212.75,438.7 L1213.75,438.9 L1214.75,439.1 L1215.75,439.2 L1216.75,438.6 L1217.75,438.7 L1218.75,438.6 L1219.75,439.4 L1220.00,438.6 L1220.25,438.6 L1220.50,439.0 L1220.75,439.1 L1221.00,439.4 L1221.25,438.5 L1221.50,438.7 L1221.75,438.6 L1222.00,439.1 L1222.25,438.9 L1222.50,438.9 L1222.75,439.4 L1223.00,439.1 L1223.25,439.3 L1223.50,439.4 L1223.75,438.7 L1224.00,439.4 L1224.25,438.9 L1224.50,438.5 L1224.75,439.4 L1225.00,438.5 L1225.25,438.5 L1225.50,438.7 L1225.75,438.7 L1226.00,439.4 L1226.25,439.3 L1226.50,438.8 L1226.75,438.9 L1227.00,439.2 L1227.25,439.1 L1227.50,438.9 L1227.75,438.7 L1228.00,438.2 L1228.25,438.3 L1228.50,438.6 L1228.75,438.4 L1229.00,438.5 L1229.25,438.4 L1229.50,438.3 L1229.75,437.3 L1230.00,437.0 L1230.25,437.6 L1230.50,437.0 L1230.75,436.3 L1231.00,436.5 L1231.25,435.8 L1231.50,435.5 L1231.75,435.3 L1232.00,435.1 L1232.25,435.0 L1232.50,434.1 L1232.75,434.5 L1233.00,434.2 L1233.25,433.9 L1233.50,433.9 L1233.75,434.0 L1234.00,433.2 L1234.25,433.7 L1234.50,433.9 L1234.75,434.1 L1235.00,434.2 L1235.25,434.0 L1235.50,435.0 L1235.75,435.1 L1236.00,434.8 L1236.25,435.3 L1236.50,436.2 L1236.75,435.7 L1237.00,436.2 L1237.25,437.1 L1237.50,437.3 L1237.75,436.9 L1238.00,437.6 L1238.25,437.5 L1238.50,438.0 L1238.75,438.3 L1239.00,437.8 L1239.25,438.0 L1239.50,438.1 L1239.75,438.3 L1240.00,438.1 L1240.25,438.3 L1240.50,438.6 L1240.75,438.7 L1241.00,438.4 L1241.25,438.9 L1241.50,439.3 L1241.75,439.0 L1242.00,438.8 L1242.25,439.1 L1242.50,438.9 L1242.75,438.6 L1243.00,438.9 L1243.25,438.5 L1243.50,439.1 L1243.75,438.6 L1244.00,438.8 L1244.25,439.4 L1244.50,439.2 L1244.75,439.3 L1245.00,439.1 L1245.25,439.1 L1245.50,439.2 L1245.75,439.4 L1246.00,438.7 L1246.25,439.2 L1246.50,438.8 L1246.75,438.7 L1247.00,439.3 L1247.25,439.1 L1247.50,439.3 L1247.75,439.3 L1248.00,439.1 L1248.25,438.7 L1248.50,438.5 L1248.75,439.0 L1249.00,439.2 L1249.25,438.7 L1250.25,438.5 L1251.25,438.5 L1252.25,438.6 L1253.25,439.1 L1254.25,438.4 L1255.25,438.7 L1256.25,438.7 L1257.25,439.1 L1257.50,439.4 L1257.75,438.4 L1258.00,438.5 L1258.25,439.3 L1258.50,439.3 L1258.75,438.5 L1259.00,438.7 L1259.25,438.9 L1259.50,438.7 L1259.75,438.8 L1260.00,438.8 L1260.25,438.6 L1260.50,438.4 L1260.75,438.4 L1261.00,438.5 L1261.25,438.4 L1261.50,438.9 L1261.75,438.9 L1262.00,438.5 L1262.25,439.0 L1262.50,438.9 L1262.75,438.5 L1263.00,438.6 L1263.25,438.2 L1263.50,438.9 L1263.75,438.4 L1264.00,437.8 L1264.25,437.8 L1264.50,438.2 L1264.75,437.7 L1265.00,437.8 L1265.25,437.1 L1265.50,437.3 L1265.75,436.9 L1266.00,435.8 L1266.25,435.8 L1266.50,434.8 L1266.75,434.7 L1267.00,434.0 L1267.25,433.2 L1267.50,431.7 L1267.75,430.6 L1268.00,430.0 L1268.25,428.8 L1268.50,427.1 L1268.75,425.9 L1269.00,424.9 L1269.25,423.0 L1269.50,422.2 L1269.75,420.4 L1270.00,419.1 L1270.25,418.0 L1270.50,417.0 L1270.75,416.1 L1271.00,414.5 L1271.25,414.5 L1271.50,413.4 L1271.75,413.2 L1272.00,413.4 L1272.25,413.6 L1272.50,413.8 L1272.75,414.7 L1273.00,414.7 L1273.25,415.7 L1273.50,417.1 L1273.75,417.9 L1274.00,419.0 L1274.25,420.4 L1274.50,422.3 L1274.75,423.8 L1275.00,425.0 L1275.25,426.6 L1275.50,427.8 L1275.75,428.5 L1276.00,429.7 L1276.25,431.2 L1276.50,431.5 L1276.75,433.0 L1277.00,433.3 L1277.25,434.0 L1277.50,435.1 L1277.75,435.3 L1278.00,436.6 L1278.25,437.0 L1278.50,437.0 L1278.75,437.0 L1279.00,437.2 L1279.25,437.8 L1279.50,438.0 L1279.75,438.0 L1280.00,438.5 L1280.25,438.4 L1280.50,438.7 L1280.75,438.1 L1281.00,438.1 L1281.25,438.5 L1281.50,438.6 L1281.75,438.4 L1282.00,438.9 L1282.25,438.4 L1282.50,438.5 L1282.75,438.7 L1283.00,439.0 L1283.25,439.0 L1283.50,438.7 L1283.75,438.7 L1284.00,439.2 L1284.25,439.2 L1284.50,438.9 L1284.75,438.4 L1285.00,438.8 L1285.25,439.0 L1285.50,438.6 L1285.75,438.4 L1286.00,439.3 L1286.25,439.2 L1286.50,438.5 L1286.75,438.8 L1287.00,438.9 L1287.25,438.6 L1287.50,438.4 L1287.75,439.1 L1288.00,439.1 L1288.25,438.7 L1288.50,438.4 L1288.75,438.7 L1289.00,438.4 L1289.25,439.2 L1289.50,438.3 L1289.75,438.5 L1290.00,438.9 L1290.25,438.3 L1290.50,438.2 L1290.75,438.1 L1291.00,438.1 L1291.25,438.3 L1291.50,438.5 L1291.75,437.6 L1292.00,437.4 L1292.25,437.8 L1292.50,437.2 L1292.75,436.8 L1293.00,436.2 L1293.25,435.9 L1293.50,436.1 L1293.75,434.7 L1294.00,434.3 L1294.25,434.2 L1294.50,433.7 L1294.75,433.0 L1295.00,431.8 L1295.25,431.6 L1295.50,430.5 L1295.75,429.5 L1296.00,429.0 L1296.25,428.6 L1296.50,428.0 L1296.75,427.0 L1297.00,426.6 L1297.25,427.1 L1297.50,426.1 L1297.75,426.8 L1298.00,426.4 L1298.25,426.5 L1298.50,426.8 L1298.75,427.5 L1299.00,428.5 L1299.25,428.3 L1299.50,429.7 L1299.75,429.8 L1300.00,430.4 L1300.25,431.7 L1300.50,432.0 L1300.75,432.6 L1301.00,433.5 L1301.25,434.5 L1301.50,435.2 L1301.75,435.5 L1302.00,435.4 L1302.25,436.6 L1302.50,436.9 L1302.75,437.5 L1303.00,437.9 L1303.25,437.5 L1303.50,438.3 L1303.75,438.4 L1304.00,438.0 L1304.25,438.3 L1304.50,438.4 L1304.75,438.4 L1305.00,438.5 L1305.25,438.3 L1305.50,438.5 L1305.75,439.2 L1306.00,438.7 L1306.25,439.0 L1306.50,439.3 L1306.75,439.1 L1307.00,438.7 L1307.25,439.3 L1307.50,439.2 L1307.75,439.4 L1308.00,439.2 L1308.25,439.2 L1308.50,439.3 L1308.75,438.7 L1309.00,439.1 L1309.25,438.9 L1309.50,439.3 L1309.75,438.6 L1310.00,439.0 L1310.25,438.8 L1310.50,439.3 L1310.75,438.8 L1311.00,439.3 L1311.25,439.3 L1311.50,439.4 L1311.75,438.6 L1312.00,439.4 L1312.25,439.3 L1312.50,439.2 L1312.75,439.2 L1313.75,438.6 L1314.75,439.4 L1315.75,439.1 L1316.75,439.0 L1317.75,438.9 L1318.75,439.3 L1319.75,439.3 L1320.75,439.4 L1321.75,438.8 L1322.75,438.9 L1323.75,438.8 L1324.75,438.7 L1325.75,438.9 L1326.75,438.6 L1327.75,439.4 L1328.75,438.8 L1329.75,438.6 L1330.75,438.6 L1331.75,439.3 L1332.75,438.8 L1333.75,439.0 L1334.75,439.0 L1335.75,439.4 L1336.75,439.5 L1337.75,438.9 L1338.75,439.2 L1339.75,439.5 L1340.75,439.1 L1341.75,439.5 L1342.75,439.3 L1343.75,438.9 L1344.75,439.5 L1345.75,439.2 L1346.75,438.7 L1347.75,439.2 L1348.75,439.4 L1349.75,439.1 L1350.75,439.1 L1351.75,439.0 L1352.75,439.5 L1353.75,439.3 L1354.75,438.8 L1355.75,439.0 L1356.75,439.0 L1357.75,439.6 L1358.75,439.3 L1359.75,438.7 L1360.75,439.5 L1361.75,438.6 L1362.75,439.2 L1363.75,439.0 L1364.75,439.3 L1365.75,439.0 L1366.75,438.7 L1367.75,439.1 L1368.75,439.4 L1369.75,439.4 L1370.75,439.0 L1371.75,438.8 L1372.75,439.4 L1373.75,439.4 L1374.75,438.8 L1375.75,439.5 L1376.75,439.6 L1377.75,439.1 L1378.75,439.0 L1379.75,439.3 L1380.75,439.5 L1381.75,438.8 L1382.75,438.9 L1383.75,438.9 L1384.75,439.4 L1385.75,438.8 L1386.75,439.2" fill="none" stroke="#625a82" stroke-width="3.4" stroke-linejoin="round" stroke-linecap="round"/><path d="M117.00,762.1 L118.00,762.4 L119.00,761.9 L120.00,762.8 L121.00,762.9 L122.00,762.6 L123.00,762.9 L124.00,762.4 L125.00,763.2 L126.00,762.9 L127.00,763.2 L128.00,763.4 L129.00,763.0 L130.00,763.6 L131.00,763.0 L132.00,762.9 L133.00,763.4 L134.00,763.9 L135.00,764.0 L136.00,764.1 L137.00,763.7 L138.00,764.2 L139.00,763.9 L140.00,763.6 L141.00,764.2 L142.00,764.4 L143.00,764.1 L144.00,764.4 L145.00,764.1 L146.00,764.2 L147.00,764.4 L148.00,764.6 L149.00,764.6 L150.00,764.3 L151.00,764.3 L152.00,764.7 L153.00,765.2 L154.00,765.3 L155.00,764.8 L156.00,764.9 L157.00,765.2 L158.00,765.0 L159.00,765.5 L160.00,765.8 L161.00,765.2 L162.00,765.7 L163.00,765.9 L164.00,766.0 L165.00,766.0 L166.00,766.1 L167.00,765.7 L168.00,766.3 L169.00,766.5 L170.00,765.7 L171.00,766.6 L172.00,766.2 L173.00,765.9 L174.00,766.0 L175.00,766.8 L176.00,766.7 L177.00,766.2 L178.00,766.6 L179.00,766.9 L180.00,767.3 L181.00,766.7 L182.00,767.2 L183.00,766.7 L184.00,766.8 L185.00,766.8 L186.00,767.1 L187.00,767.4 L188.00,767.1 L189.00,767.0 L190.00,767.1 L191.00,767.1 L192.00,767.2 L193.00,767.4 L194.00,767.7 L195.00,767.4 L196.00,767.8 L197.00,767.8 L198.00,768.4 L199.00,768.0 L200.00,768.5 L201.00,768.1 L202.00,767.9 L203.00,768.3 L204.00,767.9 L205.00,768.0 L206.00,768.0 L207.00,768.6 L208.00,769.0 L209.00,768.5 L210.00,768.5 L211.00,768.6 L212.00,768.6 L213.00,769.0 L214.00,768.7 L215.00,768.6 L216.00,769.3 L217.00,769.1 L218.00,768.6 L219.00,769.5 L220.00,769.4 L221.00,769.1 L222.00,769.4 L223.00,769.8 L224.00,769.3 L225.00,769.4 L226.00,769.3 L227.00,769.6 L228.00,769.8 L229.00,769.9 L230.00,770.2 L231.00,769.4 L232.00,769.7 L233.00,770.2 L234.00,770.2 L235.00,770.1 L236.00,770.2 L237.00,769.9 L238.00,770.6 L239.00,770.2 L240.00,770.1 L241.00,770.0 L242.00,769.9 L243.00,770.8 L244.00,770.7 L245.00,770.0 L246.00,770.3 L247.00,770.5 L248.00,770.6 L249.00,770.5 L250.00,771.1 L251.00,770.6 L252.00,770.8 L253.00,771.3 L254.00,771.0 L255.00,770.9 L256.00,770.8 L257.00,770.9 L258.00,771.2 L259.00,771.4 L260.00,770.9 L261.00,771.1 L262.00,771.2 L263.00,771.2 L264.00,771.8 L265.00,771.4 L266.00,771.2 L267.00,771.3 L268.00,771.9 L269.00,771.2 L270.00,771.8 L271.00,771.2 L272.00,771.4 L273.00,771.3 L274.00,772.1 L275.00,771.5 L276.00,771.6 L277.00,771.5 L278.00,771.7 L279.00,772.2 L280.00,772.3 L281.00,772.5 L282.00,772.6 L283.00,772.2 L284.00,772.6 L285.00,771.8 L286.00,772.7 L287.00,772.3 L288.00,772.1 L289.00,772.7 L290.00,772.8 L291.00,772.4 L292.00,772.1 L293.00,773.0 L294.00,772.9 L295.00,772.8 L296.00,773.2 L297.00,772.3 L298.00,772.3 L299.00,772.4 L300.00,772.4 L301.00,773.1 L302.00,773.1 L303.00,772.6 L304.00,772.7 L305.00,772.7 L306.00,773.2 L307.00,773.3 L308.00,773.6 L309.00,773.1 L310.00,773.7 L311.00,773.2 L312.00,773.2 L313.00,773.1 L314.00,773.1 L315.00,773.9 L316.00,773.9 L317.00,773.7 L318.00,773.2 L319.00,773.2 L320.00,773.2 L321.00,773.5 L322.00,773.9 L323.00,773.3 L324.00,773.8 L325.00,773.9 L326.00,773.3 L327.00,773.8 L328.00,774.2 L329.00,774.0 L330.00,773.9 L331.00,774.4 L332.00,774.1 L333.00,773.9 L334.00,774.0 L335.00,774.5 L336.00,774.5 L337.00,774.6 L338.00,774.3 L339.00,773.9 L340.00,773.9 L341.00,774.2 L342.00,774.5 L343.00,773.9 L344.00,774.7 L345.00,774.7 L346.00,774.5 L347.00,774.0 L348.00,774.8 L349.00,774.5 L350.00,774.8 L351.00,774.7 L352.00,774.9 L353.00,774.6 L354.00,775.2 L355.00,775.2 L356.00,775.2 L357.00,774.9 L358.00,774.6 L359.00,774.7 L360.00,774.7 L361.00,775.3 L362.00,775.2 L363.00,775.3 L364.00,775.3 L365.00,775.5 L366.00,775.2 L367.00,774.9 L368.00,775.4 L369.00,774.9 L370.00,775.3 L371.00,774.9 L372.00,775.6 L373.00,775.2 L374.00,775.1 L375.00,775.7 L376.00,774.9 L377.00,775.8 L378.00,775.7 L379.00,775.1 L380.00,775.7 L381.00,775.6 L382.00,775.9 L383.00,775.6 L384.00,775.5 L385.00,776.0 L386.00,775.2 L387.00,775.9 L388.00,775.3 L389.00,775.5 L390.00,775.3 L391.00,776.1 L392.00,775.7 L393.00,776.0 L394.00,775.6 L395.00,776.1 L396.00,776.0 L397.00,775.5 L398.00,775.9 L399.00,776.2 L400.00,775.7 L401.00,776.1 L402.00,775.8 L403.00,775.9 L404.00,776.5 L405.00,776.5 L406.00,776.6 L407.00,776.1 L408.00,776.2 L409.00,776.5 L410.00,776.5 L411.00,776.2 L412.00,776.6 L413.00,776.2 L413.25,776.7 L413.50,776.2 L413.75,775.9 L414.00,776.5 L414.25,775.9 L414.50,776.5 L414.75,775.9 L415.00,776.8 L415.25,776.4 L415.50,776.6 L415.75,775.9 L416.00,776.5 L416.25,776.2 L416.50,776.1 L416.75,776.7 L417.00,775.9 L417.25,776.3 L417.50,775.9 L417.75,776.7 L418.00,776.8 L418.25,775.9 L418.50,776.3 L418.75,776.3 L419.00,776.6 L419.25,776.6 L419.50,776.2 L419.75,776.8 L420.00,776.1 L420.25,776.0 L420.50,776.7 L420.75,776.0 L421.00,776.1 L421.25,776.4 L421.50,776.2 L421.75,776.0 L422.00,776.8 L422.25,776.3 L422.50,776.5 L422.75,775.9 L423.00,776.5 L423.25,775.7 L423.50,776.2 L423.75,775.7 L424.00,775.8 L424.25,775.3 L424.50,774.7 L424.75,774.2 L425.00,774.0 L425.25,773.0 L425.50,772.1 L425.75,772.3 L426.00,771.5 L426.25,770.8 L426.50,770.4 L426.75,769.5 L427.00,769.5 L427.25,769.7 L427.50,769.9 L427.75,770.1 L428.00,769.7 L428.25,770.7 L428.50,771.1 L428.75,771.6 L429.00,772.0 L429.25,772.6 L429.50,773.5 L429.75,774.1 L430.00,774.3 L430.25,774.9 L430.50,775.4 L430.75,775.9 L431.00,776.0 L431.25,775.8 L431.50,776.6 L431.75,776.2 L432.00,776.9 L432.25,777.0 L432.50,776.2 L432.75,776.7 L433.00,777.1 L433.25,776.5 L433.50,776.7 L433.75,776.5 L434.00,776.2 L434.25,776.4 L434.50,776.3 L434.75,776.5 L435.00,776.8 L435.25,776.8 L435.50,777.2 L435.75,776.9 L436.00,776.6 L436.25,777.2 L436.50,776.9 L436.75,776.8 L437.00,777.1 L437.25,777.0 L437.50,776.7 L437.75,776.9 L438.00,776.6 L438.25,777.3 L438.50,776.6 L438.75,777.3 L439.00,776.4 L439.25,776.3 L439.50,776.9 L439.75,776.6 L440.00,776.9 L440.25,776.5 L440.50,777.2 L440.75,777.0 L441.00,777.1 L441.25,777.3 L441.50,777.4 L441.75,777.1 L442.00,777.1 L442.25,776.4 L442.50,776.5 L443.50,776.9 L444.50,777.4 L445.50,776.8 L446.50,777.1 L447.50,776.5 L448.50,777.0 L449.50,777.5 L450.50,777.2 L451.50,777.4 L452.50,776.6 L453.50,776.8 L454.50,776.8 L455.50,777.5 L456.50,776.8 L457.50,777.7 L458.50,777.0 L459.50,777.6 L460.50,777.3 L461.50,777.1 L462.50,777.8 L463.50,777.2 L464.50,777.6 L465.50,776.9 L466.50,777.7 L467.50,777.9 L468.50,777.0 L469.50,777.7 L470.50,777.2 L471.50,777.1 L472.50,777.4 L473.50,777.7 L474.50,778.0 L475.50,778.1 L476.50,778.1 L477.50,777.7 L478.50,777.8 L479.50,777.3 L480.50,777.9 L481.50,777.7 L482.50,777.5 L483.50,778.1 L484.50,777.5 L485.50,777.4 L486.50,777.4 L487.50,777.4 L488.50,777.9 L489.50,778.1 L490.50,777.5 L491.50,777.8 L492.50,777.9 L493.50,777.9 L494.50,777.8 L495.50,777.9 L496.50,777.4 L497.50,777.5 L498.50,777.9 L499.50,777.7 L500.50,778.2 L501.50,777.7 L502.50,778.3 L503.50,777.8 L504.50,777.6 L505.50,778.0 L506.50,778.0 L507.50,777.9 L508.50,778.4 L509.50,777.8 L510.50,778.3 L511.50,778.5 L512.50,778.1 L513.50,778.2 L514.50,778.6 L515.50,778.3 L516.50,777.9 L517.50,777.8 L518.50,777.8 L519.50,778.1 L520.50,777.9 L521.50,778.4 L522.50,778.2 L523.50,778.1 L524.50,778.3 L525.50,778.8 L526.50,778.1 L527.50,778.0 L528.50,778.2 L529.50,778.2 L530.50,778.8 L531.50,778.6 L532.50,778.3 L533.50,778.1 L534.50,778.0 L535.50,778.1 L536.50,778.8 L537.50,778.6 L538.50,778.1 L539.50,778.6 L540.50,778.1 L541.50,778.5 L542.50,778.3 L543.50,778.1 L544.50,778.8 L545.50,778.7 L546.50,778.5 L546.75,778.2 L547.00,778.7 L547.25,778.4 L547.50,778.7 L547.75,778.1 L548.00,778.9 L548.25,778.0 L548.50,778.2 L548.75,778.4 L549.00,778.2 L549.25,778.1 L549.50,778.7 L549.75,779.0 L550.00,778.3 L550.25,778.2 L550.50,778.6 L550.75,778.2 L551.00,778.3 L551.25,778.6 L551.50,778.4 L551.75,778.1 L552.00,778.0 L552.25,778.4 L552.50,778.9 L552.75,778.8 L553.00,777.9 L553.25,778.3 L553.50,778.3 L553.75,777.9 L554.00,778.4 L554.25,778.2 L554.50,778.4 L554.75,777.8 L555.00,778.3 L555.25,778.1 L555.50,777.5 L555.75,776.9 L556.00,776.8 L556.25,775.8 L556.50,775.6 L556.75,774.6 L557.00,773.1 L557.25,771.9 L557.50,768.9 L557.75,767.0 L558.00,764.2 L558.25,760.2 L558.50,756.7 L558.75,752.6 L559.00,749.0 L559.25,745.1 L559.50,740.9 L559.75,737.9 L560.00,734.8 L560.25,733.3 L560.50,731.9 L560.75,732.7 L561.00,733.3 L561.25,735.0 L561.50,738.0 L561.75,742.1 L562.00,746.1 L562.25,749.9 L562.50,753.5 L562.75,758.1 L563.00,761.6 L563.25,764.2 L563.50,767.3 L563.75,770.0 L564.00,771.3 L564.25,773.0 L564.50,774.5 L564.75,776.0 L565.00,776.9 L565.25,776.8 L565.50,777.8 L565.75,778.0 L566.00,778.2 L566.25,778.1 L566.50,778.6 L566.75,778.4 L567.00,778.7 L567.25,778.4 L567.50,778.1 L567.75,778.4 L568.00,778.4 L568.25,778.3 L568.50,778.4 L568.75,778.5 L569.00,778.6 L569.25,778.3 L569.50,778.3 L569.75,778.6 L570.00,778.6 L570.25,778.5 L570.50,778.8 L570.75,778.3 L571.00,778.7 L571.25,778.4 L571.50,778.9 L571.75,778.9 L572.00,778.9 L572.25,778.7 L572.50,778.4 L572.75,779.1 L573.00,778.7 L573.25,778.6 L573.50,778.5 L573.75,778.6 L574.00,778.9 L574.25,779.0 L574.50,778.7 L574.75,778.9 L575.00,778.4 L575.25,778.6 L575.50,778.5 L575.75,778.5 L576.00,778.5 L576.25,778.9 L576.50,778.8 L576.75,778.3 L577.00,778.3 L577.25,778.7 L577.50,778.5 L577.75,778.4 L578.00,778.2 L578.25,778.1 L578.50,777.4 L578.75,776.8 L579.00,776.6 L579.25,775.6 L579.50,775.8 L579.75,774.4 L580.00,773.4 L580.25,772.5 L580.50,770.9 L580.75,768.7 L581.00,767.2 L581.25,765.3 L581.50,764.3 L581.75,762.6 L582.00,761.0 L582.25,759.7 L582.50,758.7 L582.75,758.5 L583.00,758.7 L583.25,759.3 L583.50,760.0 L583.75,761.1 L584.00,762.1 L584.25,763.6 L584.50,765.2 L584.75,767.5 L585.00,768.4 L585.25,770.0 L585.50,771.6 L585.75,773.5 L586.00,774.6 L586.25,775.0 L586.50,776.4 L586.75,777.1 L587.00,777.1 L587.25,777.3 L587.50,778.2 L587.75,778.0 L588.00,778.0 L588.25,778.9 L588.50,778.5 L588.75,778.6 L589.00,778.8 L589.25,778.5 L589.50,778.3 L589.75,778.7 L590.00,778.7 L590.25,778.3 L590.50,778.7 L590.75,779.1 L591.00,778.7 L591.25,779.1 L591.50,779.0 L591.75,778.6 L592.00,778.4 L592.25,779.1 L592.50,779.0 L592.75,778.7 L593.00,778.6 L593.25,779.3 L593.50,779.4 L593.75,778.7 L594.00,779.0 L594.25,779.0 L594.50,778.8 L594.75,778.5 L595.00,778.8 L595.25,779.1 L595.50,779.1 L595.75,779.0 L596.00,778.6 L596.25,778.7 L596.50,778.8 L596.75,778.9 L597.00,778.8 L597.25,779.4 L597.50,778.6 L597.75,779.5 L598.00,778.7 L598.25,779.3 L598.50,778.7 L598.75,779.1 L599.00,778.9 L599.25,778.5 L599.50,779.3 L599.75,779.3 L600.00,778.7 L600.25,779.3 L600.50,779.0 L600.75,779.5 L601.00,778.5 L601.25,778.8 L601.50,778.7 L601.75,779.1 L602.00,779.2 L602.25,779.3 L602.50,779.0 L602.75,778.8 L603.00,779.2 L603.25,778.5 L603.50,778.6 L603.75,779.1 L604.00,778.8 L604.25,779.3 L604.50,778.4 L604.75,778.7 L605.00,778.4 L605.25,778.1 L605.50,778.1 L605.75,777.9 L606.00,778.0 L606.25,777.7 L606.50,777.4 L606.75,776.7 L607.00,776.5 L607.25,775.5 L607.50,775.0 L607.75,773.0 L608.00,771.9 L608.25,770.3 L608.50,768.5 L608.75,767.1 L609.00,764.5 L609.25,763.1 L609.50,760.7 L609.75,758.9 L610.00,757.6 L610.25,756.3 L610.50,755.2 L610.75,754.7 L611.00,755.7 L611.25,755.8 L611.50,756.6 L611.75,758.5 L612.00,760.1 L612.25,761.8 L612.50,763.8 L612.75,766.3 L613.00,767.7 L613.25,769.6 L613.50,771.7 L613.75,772.6 L614.00,773.9 L614.25,774.7 L614.50,776.1 L614.75,776.8 L615.00,777.1 L615.25,777.5 L615.50,777.7 L615.75,778.5 L616.00,778.3 L616.25,778.8 L616.50,778.5 L616.75,778.9 L617.00,778.2 L617.25,778.5 L617.50,779.2 L617.75,779.0 L618.00,779.0 L618.25,778.8 L618.50,778.8 L618.75,778.5 L619.00,778.5 L619.25,779.0 L619.50,779.0 L619.75,778.6 L620.00,779.0 L620.25,778.5 L620.50,779.0 L620.75,778.5 L621.00,778.8 L621.25,778.7 L621.50,778.9 L621.75,778.5 L622.00,778.8 L622.25,778.9 L622.50,778.4 L622.75,778.6 L623.00,779.0 L623.25,778.8 L623.50,778.9 L623.75,779.1 L624.00,778.8 L624.25,778.5 L624.50,778.7 L624.75,779.1 L625.00,778.8 L625.25,779.0 L625.50,778.6 L625.75,778.6 L626.00,779.1 L627.00,778.9 L628.00,778.7 L629.00,778.0 L630.00,778.4 L631.00,777.7 L632.00,778.4 L632.25,778.4 L632.50,778.1 L632.75,777.6 L633.00,778.1 L633.25,777.4 L633.50,777.9 L633.75,777.6 L634.00,777.0 L634.25,777.8 L634.50,777.2 L634.75,777.5 L635.00,777.3 L635.25,777.0 L635.50,777.3 L635.75,776.5 L636.00,777.1 L636.25,776.4 L636.50,775.9 L636.75,776.1 L637.00,775.6 L637.25,775.5 L637.50,775.8 L637.75,775.1 L638.00,774.9 L638.25,774.8 L638.50,774.5 L638.75,774.8 L639.00,774.4 L639.25,773.9 L639.50,773.4 L639.75,772.1 L640.00,771.5 L640.25,769.8 L640.50,768.8 L640.75,766.6 L641.00,763.7 L641.25,759.4 L641.50,754.4 L641.75,749.0 L642.00,740.5 L642.25,730.4 L642.50,718.0 L642.75,701.8 L643.00,683.7 L643.25,661.3 L643.50,636.0 L643.75,606.4 L644.00,573.4 L644.25,538.5 L644.50,499.7 L644.75,460.4 L645.00,420.1 L645.25,379.8 L645.50,342.7 L645.75,308.3 L646.00,279.1 L646.25,256.6 L646.50,242.6 L646.75,235.7 L647.00,238.6 L647.25,250.0 L647.50,269.1 L647.75,296.4 L648.00,328.6 L648.25,365.1 L648.50,403.6 L648.75,443.7 L649.00,484.0 L649.25,523.3 L649.50,560.0 L649.75,593.7 L650.00,624.5 L650.25,651.2 L650.50,675.5 L650.75,695.1 L651.00,711.9 L651.25,725.9 L651.50,736.5 L651.75,745.9 L652.00,752.5 L652.25,758.3 L652.50,761.8 L652.75,765.1 L653.00,767.9 L653.25,769.5 L653.50,770.8 L653.75,772.0 L654.00,772.5 L654.25,773.4 L654.50,773.4 L654.75,774.7 L655.00,774.5 L655.25,775.4 L655.50,775.4 L655.75,775.7 L656.00,775.9 L656.25,775.6 L656.50,776.5 L656.75,776.1 L657.00,776.9 L657.25,777.0 L657.50,777.0 L657.75,777.3 L658.00,777.0 L658.25,777.3 L658.50,777.7 L658.75,777.1 L659.00,777.1 L659.25,777.5 L659.50,777.7 L659.75,777.4 L660.00,777.5 L660.25,778.3 L660.50,777.9 L660.75,777.7 L661.00,777.8 L661.25,778.2 L661.50,777.9 L661.75,778.2 L662.00,778.4 L663.00,778.4 L664.00,778.7 L665.00,779.1 L666.00,778.4 L667.00,779.4 L668.00,778.8 L669.00,778.7 L670.00,779.5 L671.00,779.4 L672.00,779.4 L672.25,779.1 L672.50,779.6 L672.75,779.2 L673.00,779.6 L673.25,779.1 L673.50,779.5 L673.75,779.6 L674.00,779.3 L674.25,779.4 L674.50,779.0 L674.75,779.6 L675.00,779.6 L675.25,779.1 L675.50,779.5 L675.75,779.7 L676.00,779.1 L676.25,779.8 L676.50,779.9 L676.75,779.0 L677.00,779.2 L677.25,779.1 L677.50,779.2 L677.75,779.1 L678.00,779.5 L678.25,779.3 L678.50,779.3 L678.75,779.5 L679.00,779.4 L679.25,779.8 L679.50,779.7 L679.75,779.1 L680.00,779.2 L680.25,779.0 L680.50,779.3 L680.75,779.0 L681.00,779.6 L681.25,779.6 L681.50,779.7 L681.75,778.8 L682.00,778.4 L682.25,778.9 L682.50,778.3 L682.75,778.4 L683.00,777.4 L683.25,776.7 L683.50,775.7 L683.75,775.6 L684.00,774.2 L684.25,772.9 L684.50,771.6 L684.75,770.6 L685.00,769.2 L685.25,767.5 L685.50,765.8 L685.75,764.8 L686.00,764.3 L686.25,763.0 L686.50,762.8 L686.75,762.6 L687.00,762.8 L687.25,763.5 L687.50,764.0 L687.75,765.5 L688.00,767.1 L688.25,767.7 L688.50,769.4 L688.75,771.3 L689.00,772.8 L689.25,773.1 L689.50,774.8 L689.75,775.8 L690.00,776.9 L690.25,777.2 L690.50,777.5 L690.75,778.1 L691.00,778.9 L691.25,779.2 L691.50,778.9 L691.75,779.5 L692.00,779.6 L692.25,779.7 L692.50,779.1 L692.75,779.6 L693.00,779.5 L693.25,779.8 L693.50,779.6 L693.75,779.4 L694.00,779.9 L694.25,779.6 L694.50,780.1 L694.75,779.6 L695.00,779.9 L695.25,780.1 L695.50,779.5 L695.75,780.1 L696.00,779.4 L696.25,780.3 L696.50,779.4 L696.75,780.1 L697.00,779.8 L697.25,779.6 L697.50,779.8 L697.75,779.9 L698.00,779.8 L698.25,779.5 L698.50,780.0 L698.75,779.7 L699.00,780.4 L699.25,779.8 L699.50,779.9 L699.75,779.7 L700.00,780.4 L700.25,779.8 L700.50,780.1 L700.75,780.3 L701.00,779.9 L701.25,780.2 L701.50,779.8 L701.75,779.6 L702.75,779.6 L703.75,780.0 L704.75,780.4 L705.75,779.8 L706.75,780.0 L707.75,780.3 L708.75,779.9 L709.75,779.8 L710.75,780.1 L711.75,780.0 L712.75,780.6 L713.75,780.5 L714.75,779.9 L715.75,780.2 L716.75,780.1 L717.75,779.7 L718.75,780.1 L719.75,780.6 L720.75,780.0 L721.75,780.3 L722.75,780.4 L723.75,779.8 L724.75,780.7 L725.75,779.9 L726.75,780.1 L727.75,780.5 L728.75,779.8 L729.75,780.1 L730.75,779.9 L731.75,780.3 L732.75,779.8 L733.75,780.0 L734.75,780.0 L735.75,779.9 L736.75,779.9 L737.75,780.0 L738.75,780.4 L739.75,780.0 L740.75,780.7 L741.75,780.3 L742.75,780.1 L743.75,780.1 L744.75,780.7 L745.75,779.9 L746.75,780.6 L747.75,780.0 L748.75,780.8 L749.75,780.3 L750.75,780.5 L751.75,780.8 L752.75,780.0 L753.75,780.0 L754.75,780.6 L755.75,780.5 L756.75,780.7 L757.75,780.2 L758.75,780.5 L759.75,780.2 L760.75,780.4 L761.75,780.3 L762.75,780.6 L763.75,780.3 L764.75,780.3 L765.75,780.6 L766.75,780.1 L767.75,780.8 L768.75,780.5 L769.75,780.3 L770.75,780.1 L771.75,780.5 L772.75,780.5 L773.75,780.8 L774.75,780.4 L775.75,780.5 L776.75,781.0 L777.75,780.3 L778.75,781.1 L779.75,781.0 L780.75,781.1 L781.75,781.0 L782.75,780.3 L783.75,780.9 L784.75,780.7 L785.75,780.3 L786.75,781.1 L787.75,780.8 L788.75,780.9 L789.75,780.7 L790.75,780.2 L791.75,781.0 L792.75,780.3 L793.75,780.4 L794.75,780.8 L795.75,780.3 L796.75,780.6 L797.75,780.9 L798.75,780.3 L799.75,780.8 L800.75,780.3 L801.75,780.7 L802.75,780.8 L803.75,780.9 L804.75,780.2 L805.75,780.4 L806.75,781.2 L807.75,780.6 L808.75,780.6 L809.75,780.6 L810.75,780.9 L811.75,781.0 L812.75,780.9 L813.75,780.6 L814.75,780.8 L815.75,780.8 L816.75,780.4 L817.75,781.2 L818.75,781.2 L819.75,781.0 L820.75,781.2 L821.75,780.7 L822.75,781.1 L823.75,780.5 L824.75,781.0 L825.75,781.0 L826.75,781.2 L827.75,781.1 L828.75,781.2 L829.75,780.6 L830.75,781.1 L831.75,780.8 L832.75,780.6 L833.75,780.7 L834.75,781.1 L835.75,781.1 L836.75,781.2 L837.75,781.0 L838.75,780.5 L839.75,780.5 L840.75,780.9 L841.75,780.5 L842.75,780.7 L843.75,780.4 L844.75,780.5 L845.75,781.0 L846.75,780.5 L847.75,781.2 L848.75,780.6 L849.75,781.2 L850.75,780.6 L851.75,780.6 L852.75,780.7 L853.75,780.3 L854.75,780.7 L855.00,780.6 L855.25,780.3 L855.50,781.1 L855.75,780.6 L856.00,780.3 L856.25,781.2 L856.50,780.5 L856.75,780.5 L857.00,780.3 L857.25,780.3 L857.50,780.9 L857.75,780.8 L858.00,780.7 L858.25,780.4 L858.50,780.5 L858.75,781.1 L859.00,780.5 L859.25,781.1 L859.50,781.0 L859.75,780.3 L860.00,781.0 L860.25,780.1 L860.50,780.8 L860.75,780.9 L861.00,780.7 L861.25,780.5 L861.50,780.8 L861.75,780.1 L862.00,780.4 L862.25,780.0 L862.50,780.0 L862.75,779.7 L863.00,780.0 L863.25,779.7 L863.50,779.6 L863.75,779.0 L864.00,778.5 L864.25,778.2 L864.50,777.3 L864.75,776.2 L865.00,774.8 L865.25,774.2 L865.50,772.1 L865.75,770.1 L866.00,768.5 L866.25,766.8 L866.50,764.8 L866.75,762.1 L867.00,759.7 L867.25,757.6 L867.50,755.0 L867.75,752.4 L868.00,750.4 L868.25,749.0 L868.50,747.1 L868.75,746.0 L869.00,746.0 L869.25,746.3 L869.50,746.3 L869.75,747.8 L870.00,749.4 L870.25,750.5 L870.50,752.6 L870.75,755.2 L871.00,757.4 L871.25,760.5 L871.50,763.0 L871.75,764.8 L872.00,767.3 L872.25,769.2 L872.50,770.6 L872.75,773.0 L873.00,773.7 L873.25,774.8 L873.50,776.3 L873.75,776.7 L874.00,777.9 L874.25,778.4 L874.50,779.5 L874.75,779.3 L875.00,780.0 L875.25,780.2 L875.50,780.2 L875.75,780.0 L876.00,780.1 L876.25,780.4 L876.50,780.4 L876.75,780.7 L877.00,780.6 L877.25,780.4 L877.50,780.7 L877.75,781.1 L878.00,780.4 L878.25,780.5 L878.50,780.2 L878.75,780.3 L879.00,780.3 L879.25,780.7 L879.50,781.1 L879.75,781.0 L880.00,781.2 L880.25,781.1 L880.50,780.9 L880.75,780.9 L881.00,780.3 L881.25,780.7 L881.50,780.6 L881.75,780.9 L882.00,780.4 L882.25,780.9 L882.50,780.7 L882.75,780.8 L883.00,780.8 L883.25,780.5 L883.50,781.1 L883.75,781.2 L884.00,781.0 L884.25,780.5 L885.25,781.0 L886.25,781.3 L887.25,781.4 L888.25,781.2 L889.25,780.5 L889.50,781.3 L889.75,781.1 L890.00,780.7 L890.25,781.4 L890.50,781.3 L890.75,781.3 L891.00,780.7 L891.25,781.0 L891.50,780.8 L891.75,780.8 L892.00,781.2 L892.25,781.1 L892.50,780.8 L892.75,781.0 L893.00,781.4 L893.25,781.0 L893.50,781.4 L893.75,781.0 L894.00,781.5 L894.25,780.5 L894.50,780.9 L894.75,781.0 L895.00,781.2 L895.25,781.4 L895.50,781.1 L895.75,780.9 L896.00,781.1 L896.25,781.0 L896.50,781.2 L896.75,781.4 L897.00,780.5 L897.25,780.8 L897.50,781.3 L897.75,780.5 L898.00,781.2 L898.25,780.4 L898.50,781.0 L898.75,781.2 L899.00,780.6 L899.25,780.7 L899.50,780.5 L899.75,780.9 L900.00,780.6 L900.25,780.6 L900.50,780.2 L900.75,780.4 L901.00,780.6 L901.25,780.3 L901.50,780.3 L901.75,779.4 L902.00,779.5 L902.25,779.2 L902.50,779.0 L902.75,779.4 L903.00,778.6 L903.25,778.9 L903.50,779.0 L903.75,779.1 L904.00,778.2 L904.25,778.5 L904.50,778.7 L904.75,779.3 L905.00,778.6 L905.25,779.4 L905.50,779.1 L905.75,779.4 L906.00,780.0 L906.25,779.3 L906.50,779.7 L906.75,779.7 L907.00,779.8 L907.25,780.1 L907.50,780.6 L907.75,780.6 L908.00,780.2 L908.25,781.0 L908.50,780.8 L908.75,780.5 L909.00,781.2 L909.25,781.2 L909.50,780.7 L909.75,781.4 L910.00,781.3 L910.25,780.7 L910.50,780.5 L910.75,781.4 L911.00,781.3 L911.25,780.6 L911.50,781.3 L911.75,781.3 L912.00,781.2 L912.25,781.4 L912.50,781.5 L912.75,780.9 L913.00,781.4 L913.25,781.5 L913.50,780.9 L913.75,781.2 L914.00,781.2 L914.25,781.4 L914.50,781.1 L914.75,780.8 L915.00,780.8 L915.25,781.1 L915.50,780.7 L915.75,781.4 L916.00,781.5 L916.25,780.8 L916.50,781.3 L916.75,781.2 L917.00,780.7 L917.25,781.4 L917.50,781.3 L917.75,780.9 L918.00,780.7 L918.25,780.9 L918.50,781.3 L918.75,781.0 L919.00,781.4 L919.25,780.7 L920.25,780.7 L921.25,780.9 L922.25,781.5 L923.25,780.8 L924.25,780.7 L925.25,781.4 L926.25,780.7 L927.25,781.3 L928.25,780.7 L929.25,780.9 L930.25,781.3 L931.25,781.5 L932.25,781.0 L933.25,781.1 L934.25,780.7 L935.25,781.0 L936.25,780.9 L937.25,781.4 L938.25,781.4 L939.25,781.4 L940.25,781.2 L941.25,781.3 L942.25,780.8 L943.25,781.0 L944.25,780.9 L945.25,780.9 L946.25,781.4 L947.25,780.9 L948.25,781.0 L949.25,780.9 L950.25,781.5 L951.25,781.3 L952.25,781.2 L953.25,781.1 L954.25,781.6 L955.25,781.6 L956.25,781.1 L957.25,781.2 L958.25,781.5 L959.25,780.9 L960.25,780.9 L961.25,780.8 L962.25,781.2 L963.25,781.5 L964.25,780.9 L965.25,781.1 L966.25,781.7 L967.25,781.2 L968.25,781.1 L969.25,781.5 L970.25,781.6 L971.25,781.1 L972.25,780.8 L973.25,781.4 L974.25,781.5 L975.25,781.6 L976.25,781.4 L977.25,781.0 L978.25,781.2 L979.25,781.0 L980.25,781.2 L981.25,781.2 L982.25,781.6 L983.25,781.6 L984.25,781.7 L985.25,781.2 L986.25,781.7 L987.25,780.9 L988.25,781.7 L989.25,781.4 L990.25,781.6 L991.25,781.2 L992.25,781.7 L993.25,780.8 L994.25,781.6 L995.25,781.6 L996.25,781.1 L997.25,781.6 L998.25,781.0 L999.25,781.5 L1000.25,781.2 L1001.25,781.2 L1002.25,780.9 L1003.25,781.6 L1004.25,781.5 L1005.25,780.8 L1006.25,781.7 L1007.25,781.0 L1007.50,781.1 L1007.75,781.2 L1008.00,781.3 L1008.25,781.6 L1008.50,781.7 L1008.75,781.4 L1009.00,781.1 L1009.25,780.8 L1009.50,780.8 L1009.75,781.3 L1010.00,781.3 L1010.25,781.2 L1010.50,781.7 L1010.75,781.1 L1011.00,781.1 L1011.25,781.1 L1011.50,780.9 L1011.75,781.7 L1012.00,781.3 L1012.25,781.3 L1012.50,781.1 L1012.75,781.0 L1013.00,781.0 L1013.25,781.2 L1013.50,781.1 L1013.75,781.6 L1014.00,781.2 L1014.25,780.8 L1014.50,780.7 L1014.75,780.7 L1015.00,780.9 L1015.25,781.3 L1015.50,781.3 L1015.75,780.6 L1016.00,781.1 L1016.25,780.6 L1016.50,780.6 L1016.75,780.5 L1017.00,779.8 L1017.25,779.7 L1017.50,780.1 L1017.75,779.9 L1018.00,779.4 L1018.25,779.7 L1018.50,779.3 L1018.75,778.6 L1019.00,778.1 L1019.25,778.3 L1019.50,778.1 L1019.75,777.4 L1020.00,777.0 L1020.25,777.2 L1020.50,776.5 L1020.75,777.1 L1021.00,776.8 L1021.25,776.4 L1021.50,776.5 L1021.75,776.3 L1022.00,776.3 L1022.25,776.4 L1022.50,777.2 L1022.75,777.0 L1023.00,777.5 L1023.25,777.3 L1023.50,778.0 L1023.75,778.1 L1024.00,778.4 L1024.25,778.4 L1024.50,778.9 L1024.75,778.8 L1025.00,779.8 L1025.25,779.7 L1025.50,779.8 L1025.75,780.1 L1026.00,779.8 L1026.25,780.2 L1026.50,780.2 L1026.75,780.9 L1027.00,780.2 L1027.25,780.7 L1027.50,781.2 L1027.75,781.2 L1028.00,781.2 L1028.25,780.8 L1028.50,780.8 L1028.75,781.3 L1029.00,780.9 L1029.25,781.4 L1029.50,781.0 L1029.75,781.4 L1030.00,781.2 L1030.25,781.5 L1030.50,781.7 L1030.75,781.1 L1031.00,781.7 L1031.25,780.7 L1031.50,781.6 L1031.75,780.7 L1032.00,781.2 L1032.25,781.1 L1032.50,781.5 L1032.75,781.0 L1033.00,780.9 L1033.25,781.5 L1033.50,781.2 L1033.75,781.5 L1034.00,781.2 L1034.25,780.7 L1034.50,781.5 L1034.75,780.9 L1035.00,781.2 L1035.25,780.7 L1035.50,780.9 L1035.75,781.3 L1036.00,781.4 L1036.25,781.3 L1036.50,781.1 L1036.75,781.4 L1037.00,781.3 L1037.25,780.9 L1037.50,781.2 L1037.75,781.2 L1038.00,781.4 L1038.25,780.8 L1038.50,780.9 L1038.75,781.0 L1039.00,780.7 L1039.25,781.0 L1039.50,781.3 L1039.75,781.2 L1040.00,780.8 L1040.25,781.3 L1040.50,780.7 L1040.75,781.3 L1041.00,780.7 L1041.25,780.6 L1041.50,780.8 L1041.75,781.0 L1042.00,780.8 L1042.25,781.3 L1042.50,781.4 L1042.75,780.7 L1043.00,781.1 L1043.25,781.1 L1043.50,780.9 L1043.75,780.5 L1044.00,781.2 L1044.25,781.1 L1044.50,780.1 L1044.75,780.3 L1045.00,780.1 L1045.25,779.8 L1045.50,779.7 L1045.75,779.9 L1046.00,778.6 L1046.25,778.8 L1046.50,777.6 L1046.75,776.4 L1047.00,776.3 L1047.25,774.4 L1047.50,772.8 L1047.75,770.9 L1048.00,769.2 L1048.25,766.6 L1048.50,764.2 L1048.75,761.5 L1049.00,758.8 L1049.25,755.6 L1049.50,752.3 L1049.75,749.4 L1050.00,746.7 L1050.25,743.8 L1050.50,741.0 L1050.75,739.5 L1051.00,737.8 L1051.25,736.6 L1051.50,736.2 L1051.75,736.3 L1052.00,737.1 L1052.25,739.4 L1052.50,741.2 L1052.75,743.2 L1053.00,746.8 L1053.25,749.8 L1053.50,752.1 L1053.75,755.9 L1054.00,758.5 L1054.25,761.8 L1054.50,764.8 L1054.75,766.9 L1055.00,769.3 L1055.25,771.5 L1055.50,772.8 L1055.75,774.7 L1056.00,775.8 L1056.25,777.4 L1056.50,777.5 L1056.75,778.7 L1057.00,778.6 L1057.25,779.3 L1057.50,779.4 L1057.75,779.7 L1058.00,780.3 L1058.25,780.1 L1058.50,780.9 L1058.75,780.3 L1059.00,780.9 L1059.25,781.2 L1059.50,780.5 L1059.75,780.6 L1060.00,781.2 L1060.25,780.9 L1060.50,781.4 L1060.75,780.8 L1061.00,780.9 L1061.25,781.5 L1061.50,780.9 L1061.75,781.5 L1062.00,781.5 L1062.25,780.8 L1062.50,781.2 L1062.75,781.6 L1063.00,780.7 L1063.25,781.5 L1063.50,781.4 L1063.75,781.4 L1064.00,781.3 L1064.25,780.8 L1064.50,781.6 L1064.75,780.8 L1065.00,781.5 L1065.25,781.4 L1065.50,781.0 L1065.75,781.4 L1066.00,781.1 L1066.25,781.5 L1066.50,780.8 L1066.75,781.7 L1067.75,781.1 L1068.75,781.6 L1069.75,781.3 L1070.75,781.6 L1071.75,781.1 L1072.75,781.4 L1073.75,780.8 L1074.75,781.3 L1075.75,780.9 L1076.75,781.7 L1077.75,781.5 L1078.75,781.3 L1079.75,781.8 L1080.75,781.8 L1081.75,781.8 L1082.75,780.9 L1083.75,781.6 L1084.75,781.6 L1085.75,781.5 L1086.75,780.9 L1087.75,781.8 L1088.75,781.3 L1089.75,781.5 L1090.75,781.7 L1091.75,781.2 L1092.75,780.9 L1093.75,781.8 L1094.75,781.2 L1095.75,780.9 L1096.75,781.0 L1097.75,781.9 L1098.75,781.6 L1099.75,781.1 L1100.75,781.1 L1101.75,781.8 L1102.75,781.6 L1103.75,781.5 L1104.75,781.0 L1105.75,781.3 L1106.75,781.9 L1107.75,780.9 L1108.75,781.3 L1109.75,781.0 L1110.75,781.9 L1111.75,781.0 L1112.75,781.9 L1113.75,781.8 L1114.75,781.7 L1115.75,781.0 L1116.75,781.6 L1117.75,781.4 L1118.75,781.4 L1119.75,781.1 L1120.75,781.4 L1121.75,781.7 L1122.75,781.1 L1123.75,781.8 L1124.75,781.4 L1125.75,781.2 L1126.75,781.2 L1127.75,781.4 L1128.75,781.6 L1129.75,781.5 L1130.75,781.8 L1131.75,781.4 L1132.75,781.5 L1133.75,781.9 L1134.75,781.2 L1135.75,781.0 L1136.75,781.3 L1137.75,781.3 L1138.75,781.1 L1139.75,781.4 L1140.75,781.0 L1141.75,781.9 L1142.75,781.4 L1143.75,781.8 L1144.75,781.6 L1145.75,781.7 L1146.75,781.7 L1147.75,781.2 L1148.75,781.7 L1149.75,781.1 L1150.75,781.5 L1151.75,781.5 L1152.75,781.7 L1153.75,781.1 L1154.75,781.2 L1155.75,781.7 L1156.75,781.7 L1157.75,781.9 L1158.75,781.0 L1159.00,781.1 L1159.25,781.0 L1159.50,781.6 L1159.75,781.6 L1160.00,781.5 L1160.25,781.6 L1160.50,781.3 L1160.75,781.4 L1161.00,781.7 L1161.25,781.5 L1161.50,781.5 L1161.75,781.4 L1162.00,781.3 L1162.25,781.5 L1162.50,781.3 L1162.75,780.9 L1163.00,781.2 L1163.25,781.2 L1163.50,781.1 L1163.75,781.3 L1164.00,781.0 L1164.25,781.0 L1164.50,781.0 L1164.75,780.9 L1165.00,781.5 L1165.25,780.5 L1165.50,780.4 L1165.75,781.0 L1166.00,780.5 L1166.25,780.4 L1166.50,780.4 L1166.75,779.9 L1167.00,779.6 L1167.25,779.0 L1167.50,779.5 L1167.75,779.2 L1168.00,778.1 L1168.25,777.7 L1168.50,776.9 L1168.75,776.0 L1169.00,776.1 L1169.25,775.2 L1169.50,773.7 L1169.75,772.7 L1170.00,772.2 L1170.25,771.2 L1170.50,769.8 L1170.75,768.5 L1171.00,767.2 L1171.25,766.7 L1171.50,765.7 L1171.75,764.6 L1172.00,762.9 L1172.25,762.5 L1172.50,762.2 L1172.75,761.3 L1173.00,760.6 L1173.25,760.0 L1173.50,759.9 L1173.75,760.6 L1174.00,760.2 L1174.25,761.4 L1174.50,761.9 L1174.75,762.4 L1175.00,763.7 L1175.25,764.7 L1175.50,765.4 L1175.75,766.0 L1176.00,767.6 L1176.25,768.6 L1176.50,769.5 L1176.75,771.3 L1177.00,772.2 L1177.25,772.6 L1177.50,773.7 L1177.75,774.7 L1178.00,775.8 L1178.25,776.3 L1178.50,777.1 L1178.75,778.0 L1179.00,778.0 L1179.25,779.0 L1179.50,779.0 L1179.75,780.0 L1180.00,780.3 L1180.25,779.9 L1180.50,780.4 L1180.75,780.1 L1181.00,780.5 L1181.25,780.9 L1181.50,781.0 L1181.75,780.8 L1182.00,780.5 L1182.25,780.7 L1182.50,781.2 L1182.75,780.8 L1183.00,781.0 L1183.25,781.3 L1183.50,781.6 L1183.75,781.3 L1184.00,781.0 L1184.25,781.4 L1184.50,781.1 L1184.75,781.6 L1185.00,781.0 L1185.25,781.1 L1185.50,781.3 L1185.75,781.7 L1186.00,781.0 L1186.25,781.0 L1186.50,781.0 L1186.75,781.1 L1187.00,781.2 L1187.25,781.3 L1187.50,781.6 L1187.75,781.3 L1188.00,781.4 L1188.25,781.3 L1188.50,781.7 L1188.75,781.8 L1189.75,781.3 L1190.75,781.8 L1191.75,781.2 L1192.75,781.9 L1193.75,781.5 L1194.75,781.6 L1195.75,781.3 L1196.75,781.2 L1197.75,781.1 L1198.75,781.9 L1199.75,781.3 L1200.75,781.7 L1201.75,781.4 L1202.75,781.5 L1203.75,781.2 L1204.75,781.2 L1205.75,781.3 L1206.75,781.7 L1207.75,781.5 L1208.75,781.0 L1209.75,781.7 L1210.75,781.4 L1211.75,781.1 L1212.75,781.3 L1213.75,781.2 L1214.75,781.8 L1215.75,781.6 L1216.75,781.3 L1217.75,781.3 L1218.75,781.3 L1219.75,781.3 L1220.75,781.4 L1221.75,781.8 L1222.75,781.8 L1223.75,781.7 L1224.75,781.9 L1225.75,781.7 L1226.75,781.1 L1227.75,781.0 L1228.75,781.2 L1229.75,781.3 L1230.75,781.5 L1231.75,781.8 L1232.75,781.6 L1233.75,781.4 L1234.00,781.2 L1234.25,782.0 L1234.50,781.7 L1234.75,781.3 L1235.00,781.0 L1235.25,782.0 L1235.50,781.2 L1235.75,781.8 L1236.00,781.1 L1236.25,781.6 L1236.50,781.3 L1236.75,781.9 L1237.00,781.3 L1237.25,781.1 L1237.50,781.2 L1237.75,781.8 L1238.00,781.9 L1238.25,781.6 L1238.50,781.6 L1238.75,781.2 L1239.00,781.2 L1239.25,781.0 L1239.50,781.9 L1239.75,780.9 L1240.00,781.4 L1240.25,781.1 L1240.50,780.9 L1240.75,781.2 L1241.00,781.6 L1241.25,780.9 L1241.50,780.8 L1241.75,781.2 L1242.00,781.1 L1242.25,780.9 L1242.50,780.5 L1242.75,781.1 L1243.00,780.3 L1243.25,780.3 L1243.50,780.2 L1243.75,780.4 L1244.00,780.3 L1244.25,780.2 L1244.50,780.3 L1244.75,780.4 L1245.00,779.8 L1245.25,779.3 L1245.50,780.0 L1245.75,779.1 L1246.00,779.3 L1246.25,779.0 L1246.50,779.4 L1246.75,779.5 L1247.00,778.8 L1247.25,778.9 L1247.50,779.4 L1247.75,779.2 L1248.00,778.7 L1248.25,779.2 L1248.50,779.4 L1248.75,779.0 L1249.00,778.8 L1249.25,779.4 L1249.50,779.1 L1249.75,779.0 L1250.00,779.1 L1250.25,779.4 L1250.50,779.3 L1250.75,779.6 L1251.00,779.9 L1251.25,780.0 L1251.50,780.0 L1251.75,780.5 L1252.00,779.9 L1252.25,780.2 L1252.50,780.9 L1252.75,780.9 L1253.00,781.1 L1253.25,781.0 L1253.50,780.8 L1253.75,781.2 L1254.00,781.0 L1254.25,780.6 L1254.50,780.8 L1254.75,780.7 L1255.00,781.5 L1255.25,781.0 L1255.50,781.1 L1255.75,781.3 L1256.00,780.9 L1256.25,781.5 L1256.50,781.6 L1256.75,781.6 L1257.00,781.7 L1257.25,781.2 L1257.50,781.0 L1257.75,781.7 L1258.00,781.6 L1258.25,781.3 L1258.50,781.3 L1258.75,781.1 L1259.00,781.8 L1259.25,781.4 L1259.50,781.7 L1259.75,781.3 L1260.00,781.2 L1260.25,781.4 L1260.50,781.7 L1260.75,781.8 L1261.00,781.3 L1261.25,781.6 L1261.50,781.3 L1261.75,781.8 L1262.00,781.7 L1262.25,781.5 L1262.50,781.3 L1262.75,781.2 L1263.00,781.8 L1263.25,781.7 L1264.25,781.2 L1264.50,781.0 L1264.75,781.1 L1265.00,781.8 L1265.25,780.9 L1265.50,781.7 L1265.75,781.4 L1266.00,781.4 L1266.25,781.4 L1266.50,781.2 L1266.75,781.4 L1267.00,780.9 L1267.25,781.7 L1267.50,780.9 L1267.75,780.9 L1268.00,781.4 L1268.25,781.4 L1268.50,781.5 L1268.75,781.4 L1269.00,781.6 L1269.25,780.7 L1269.50,780.7 L1269.75,780.8 L1270.00,781.3 L1270.25,780.7 L1270.50,781.0 L1270.75,781.1 L1271.00,780.4 L1271.25,780.6 L1271.50,780.8 L1271.75,780.5 L1272.00,779.9 L1272.25,779.7 L1272.50,779.1 L1272.75,779.3 L1273.00,778.6 L1273.25,777.9 L1273.50,776.9 L1273.75,776.5 L1274.00,775.3 L1274.25,774.6 L1274.50,773.0 L1274.75,772.3 L1275.00,770.7 L1275.25,769.0 L1275.50,767.6 L1275.75,766.3 L1276.00,764.4 L1276.25,763.2 L1276.50,760.6 L1276.75,760.0 L1277.00,758.3 L1277.25,756.8 L1277.50,756.1 L1277.75,754.4 L1278.00,753.9 L1278.25,753.9 L1278.50,753.9 L1278.75,753.6 L1279.00,754.6 L1279.25,754.9 L1279.50,755.2 L1279.75,756.4 L1280.00,757.7 L1280.25,759.6 L1280.50,760.9 L1280.75,762.4 L1281.00,764.3 L1281.25,765.5 L1281.50,767.9 L1281.75,769.4 L1282.00,770.6 L1282.25,771.8 L1282.50,772.9 L1282.75,774.4 L1283.00,775.1 L1283.25,776.7 L1283.50,777.5 L1283.75,777.9 L1284.00,778.6 L1284.25,778.4 L1284.50,778.9 L1284.75,779.5 L1285.00,779.6 L1285.25,780.1 L1285.50,780.9 L1285.75,780.9 L1286.00,781.1 L1286.25,780.5 L1286.50,780.6 L1286.75,780.5 L1287.00,780.8 L1287.25,780.6 L1287.50,781.1 L1287.75,780.9 L1288.00,781.3 L1288.25,781.2 L1288.50,781.2 L1288.75,780.9 L1289.00,781.4 L1289.25,781.3 L1289.50,781.4 L1289.75,781.1 L1290.00,781.1 L1290.25,781.0 L1290.50,780.7 L1290.75,781.1 L1291.00,781.3 L1291.25,780.9 L1291.50,781.5 L1291.75,781.5 L1292.00,781.5 L1292.25,781.5 L1292.50,781.1 L1292.75,780.8 L1293.00,780.9 L1293.25,781.3 L1293.50,781.5 L1293.75,780.6 L1294.00,780.5 L1294.25,780.7 L1294.50,780.7 L1294.75,780.8 L1295.00,780.2 L1295.25,780.8 L1295.50,780.1 L1295.75,780.4 L1296.00,779.5 L1296.25,779.2 L1296.50,778.6 L1296.75,778.9 L1297.00,777.9 L1297.25,777.5 L1297.50,775.9 L1297.75,775.5 L1298.00,774.7 L1298.25,773.8 L1298.50,772.6 L1298.75,770.4 L1299.00,769.2 L1299.25,768.3 L1299.50,766.3 L1299.75,765.1 L1300.00,762.8 L1300.25,760.9 L1300.50,760.3 L1300.75,758.2 L1301.00,757.1 L1301.25,755.8 L1301.50,755.0 L1301.75,754.7 L1302.00,754.2 L1302.25,753.9 L1302.50,753.4 L1302.75,754.3 L1303.00,754.2 L1303.25,755.4 L1303.50,757.0 L1303.75,757.6 L1304.00,759.1 L1304.25,760.9 L1304.50,762.1 L1304.75,764.2 L1305.00,765.8 L1305.25,766.8 L1305.50,769.2 L1305.75,769.8 L1306.00,771.8 L1306.25,772.8 L1306.50,773.7 L1306.75,774.7 L1307.00,776.6 L1307.25,777.2 L1307.50,777.6 L1307.75,778.6 L1308.00,779.3 L1308.25,779.7 L1308.50,779.7 L1308.75,779.7 L1309.00,780.2 L1309.25,780.9 L1309.50,780.8 L1309.75,780.9 L1310.00,781.2 L1310.25,780.9 L1310.50,781.1 L1310.75,781.4 L1311.00,780.8 L1311.25,781.5 L1311.50,780.7 L1311.75,781.3 L1312.00,781.3 L1312.25,780.9 L1312.50,781.7 L1312.75,781.2 L1313.00,781.0 L1313.25,781.2 L1313.50,781.4 L1313.75,781.3 L1314.00,780.9 L1314.25,781.0 L1314.50,781.6 L1314.75,781.0 L1315.00,781.1 L1315.25,781.7 L1315.50,781.8 L1315.75,781.8 L1316.00,781.1 L1316.25,780.9 L1316.50,781.7 L1316.75,781.5 L1317.00,781.3 L1317.25,781.0 L1317.50,781.4 L1318.50,781.2 L1319.50,781.6 L1320.50,782.0 L1321.50,781.2 L1322.50,781.1 L1323.50,781.7 L1324.50,781.1 L1325.50,781.2 L1326.50,781.5 L1327.50,782.0 L1328.50,781.4 L1329.50,781.4 L1330.50,781.5 L1331.50,781.2 L1332.50,781.5 L1333.50,781.8 L1334.50,781.4 L1335.50,781.9 L1336.50,781.3 L1337.50,781.2 L1338.50,781.7 L1339.50,781.5 L1340.50,782.0 L1341.50,781.2 L1342.50,781.8 L1343.50,781.7 L1344.50,781.5 L1345.50,781.2 L1346.50,781.7 L1347.50,781.8 L1348.50,781.6 L1349.50,781.6 L1350.50,781.8 L1351.50,781.7 L1352.50,781.5 L1353.50,781.3 L1354.50,781.6 L1355.50,781.6 L1356.50,782.0 L1357.50,782.1 L1358.50,781.7 L1359.50,781.4 L1360.50,781.3 L1361.50,781.7 L1362.50,781.8 L1363.50,781.3 L1364.50,781.8 L1365.50,782.1 L1366.50,781.5 L1367.50,782.0 L1368.50,781.5 L1369.50,781.8 L1370.50,782.0 L1371.50,781.3 L1372.50,781.5 L1373.50,782.1 L1374.50,781.2 L1375.50,781.4 L1376.50,781.6 L1377.50,781.9 L1378.50,781.7 L1379.50,782.0 L1380.50,781.8 L1381.50,781.1 L1382.50,781.2 L1383.50,781.1 L1384.50,781.5 L1385.50,781.1 L1386.50,781.6" fill="none" stroke="#2a2a5c" stroke-width="3.4" stroke-linejoin="round" stroke-linecap="round"/><path d="M117.00,588.4 L118.00,588.1 L119.00,588.9 L120.00,588.5 L121.00,589.2 L122.00,588.7 L123.00,589.0 L124.00,589.1 L125.00,588.9 L126.00,589.5 L127.00,588.8 L128.00,589.2 L129.00,589.4 L130.00,590.0 L131.00,589.7 L132.00,589.4 L133.00,589.7 L134.00,590.1 L135.00,590.4 L136.00,589.8 L137.00,590.6 L138.00,590.3 L139.00,590.5 L140.00,590.5 L141.00,590.6 L142.00,591.3 L143.00,591.3 L144.00,591.4 L145.00,591.3 L146.00,591.4 L147.00,590.9 L148.00,590.9 L149.00,591.8 L150.00,591.7 L151.00,591.8 L152.00,591.5 L153.00,591.6 L154.00,592.3 L155.00,592.0 L156.00,591.6 L157.00,592.0 L158.00,592.1 L159.00,591.9 L160.00,592.9 L161.00,592.9 L162.00,592.9 L163.00,592.2 L164.00,592.7 L165.00,592.5 L166.00,593.2 L167.00,593.3 L168.00,593.4 L169.00,593.5 L170.00,592.9 L171.00,592.9 L172.00,593.0 L173.00,593.8 L174.00,593.9 L175.00,593.7 L176.00,593.5 L177.00,594.2 L178.00,593.5 L179.00,593.8 L180.00,593.6 L181.00,594.6 L182.00,594.1 L183.00,594.6 L184.00,594.7 L185.00,594.5 L186.00,595.0 L187.00,594.9 L188.00,595.1 L189.00,595.2 L190.00,594.4 L191.00,595.1 L192.00,594.7 L193.00,594.9 L194.00,594.9 L195.00,595.7 L196.00,594.8 L197.00,595.3 L198.00,595.0 L199.00,596.0 L200.00,595.5 L201.00,595.8 L202.00,595.7 L203.00,596.0 L204.00,595.6 L205.00,595.8 L206.00,596.2 L207.00,596.2 L208.00,596.5 L209.00,596.0 L210.00,596.6 L211.00,596.5 L212.00,596.4 L213.00,596.3 L214.00,596.6 L215.00,596.1 L216.00,596.2 L217.00,596.5 L218.00,596.4 L219.00,596.4 L220.00,597.1 L221.00,597.2 L222.00,597.1 L223.00,596.8 L224.00,597.3 L225.00,597.5 L226.00,597.4 L227.00,597.0 L228.00,597.4 L229.00,597.3 L230.00,597.3 L231.00,597.2 L232.00,598.0 L233.00,597.8 L234.00,598.2 L235.00,597.5 L236.00,597.6 L237.00,597.9 L238.00,597.5 L239.00,597.8 L240.00,598.1 L241.00,598.1 L242.00,598.6 L243.00,598.3 L244.00,598.4 L245.00,598.5 L246.00,598.7 L247.00,598.3 L248.00,598.0 L249.00,599.1 L250.00,598.9 L251.00,598.3 L252.00,598.4 L253.00,598.5 L254.00,599.0 L255.00,598.5 L256.00,598.5 L257.00,599.0 L258.00,598.6 L259.00,598.9 L260.00,599.1 L261.00,598.9 L262.00,598.8 L263.00,599.1 L264.00,599.1 L265.00,599.3 L266.00,599.4 L267.00,599.4 L268.00,599.4 L269.00,599.2 L270.00,600.0 L271.00,600.0 L272.00,599.8 L273.00,599.3 L274.00,599.6 L275.00,600.3 L276.00,599.9 L277.00,599.7 L278.00,600.4 L279.00,600.5 L280.00,599.8 L281.00,600.2 L282.00,600.3 L283.00,599.9 L284.00,600.2 L285.00,600.5 L286.00,600.6 L287.00,600.6 L288.00,600.7 L289.00,600.5 L290.00,600.2 L291.00,600.2 L292.00,601.1 L293.00,601.1 L294.00,601.2 L295.00,600.4 L296.00,601.2 L297.00,600.6 L298.00,600.8 L299.00,600.7 L300.00,601.4 L301.00,601.4 L302.00,601.5 L303.00,601.1 L304.00,601.7 L305.00,601.0 L306.00,601.4 L307.00,601.5 L308.00,601.1 L309.00,601.3 L310.00,601.1 L311.00,601.8 L312.00,601.2 L313.00,601.2 L314.00,601.4 L315.00,601.8 L316.00,601.9 L317.00,601.8 L318.00,602.2 L319.00,602.1 L320.00,601.6 L321.00,602.0 L322.00,601.6 L323.00,601.7 L324.00,601.7 L325.00,601.6 L326.00,602.0 L327.00,602.5 L328.00,602.3 L329.00,601.8 L330.00,602.0 L331.00,602.4 L332.00,602.4 L333.00,601.9 L334.00,602.0 L335.00,602.5 L336.00,602.6 L337.00,602.1 L338.00,602.8 L339.00,602.3 L340.00,602.7 L341.00,602.7 L342.00,602.5 L343.00,603.2 L344.00,602.6 L345.00,602.7 L346.00,602.9 L347.00,603.2 L348.00,603.4 L349.00,603.2 L350.00,603.0 L351.00,603.2 L352.00,603.2 L353.00,603.5 L354.00,603.6 L355.00,603.4 L356.00,602.9 L357.00,603.3 L358.00,603.2 L359.00,603.0 L360.00,603.6 L361.00,603.0 L362.00,603.6 L363.00,603.4 L364.00,603.3 L365.00,603.6 L366.00,603.7 L367.00,604.0 L368.00,604.0 L369.00,603.9 L370.00,603.4 L371.00,603.8 L372.00,603.6 L373.00,604.1 L374.00,603.7 L375.00,603.6 L376.00,603.3 L377.00,603.8 L378.00,603.9 L379.00,603.7 L380.00,603.5 L381.00,603.9 L382.00,603.5 L383.00,603.6 L384.00,603.9 L385.00,603.9 L386.00,604.0 L387.00,604.1 L388.00,604.0 L389.00,603.8 L390.00,603.7 L391.00,604.2 L392.00,604.7 L393.00,604.0 L394.00,604.1 L395.00,604.1 L396.00,604.6 L397.00,604.3 L398.00,604.7 L399.00,603.9 L400.00,604.0 L401.00,604.1 L402.00,604.3 L403.00,604.4 L404.00,604.4 L405.00,605.0 L406.00,604.5 L407.00,604.7 L408.00,605.1 L409.00,604.8 L410.00,604.8 L411.00,605.0 L411.25,604.5 L411.50,604.2 L411.75,605.2 L412.00,604.7 L412.25,604.8 L412.50,604.3 L412.75,605.0 L413.00,604.6 L413.25,604.9 L413.50,604.5 L413.75,605.2 L414.00,604.6 L414.25,604.5 L414.50,605.1 L414.75,604.5 L415.00,604.5 L415.25,604.7 L415.50,605.2 L415.75,604.4 L416.00,604.5 L416.25,605.1 L416.50,604.4 L416.75,604.7 L417.00,605.1 L417.25,605.0 L417.50,605.1 L417.75,604.4 L418.00,605.2 L418.25,604.7 L418.50,605.1 L418.75,604.8 L419.00,605.2 L419.25,604.8 L419.50,604.5 L419.75,604.4 L420.00,604.7 L420.25,604.3 L420.50,604.3 L420.75,605.0 L421.00,604.5 L421.25,604.7 L421.50,603.8 L421.75,603.9 L422.00,603.6 L422.25,602.9 L422.50,602.6 L422.75,602.7 L423.00,602.0 L423.25,601.1 L423.50,600.5 L423.75,600.1 L424.00,599.5 L424.25,598.5 L424.50,597.4 L424.75,597.8 L425.00,596.8 L425.25,596.7 L425.50,596.7 L425.75,597.3 L426.00,597.8 L426.25,598.2 L426.50,598.8 L426.75,599.2 L427.00,600.4 L427.25,601.0 L427.50,601.4 L427.75,602.5 L428.00,603.2 L428.25,603.7 L428.50,604.1 L428.75,603.5 L429.00,604.1 L429.25,604.4 L429.50,604.4 L429.75,605.0 L430.00,605.2 L430.25,604.5 L430.50,605.0 L430.75,605.5 L431.00,605.4 L431.25,605.0 L431.50,604.7 L431.75,605.0 L432.00,605.1 L432.25,605.4 L432.50,604.8 L432.75,604.9 L433.00,605.6 L433.25,604.7 L433.50,605.3 L433.75,604.8 L434.00,605.4 L434.25,605.1 L434.50,605.6 L434.75,604.9 L435.00,605.6 L435.25,604.9 L435.50,604.8 L435.75,604.8 L436.00,604.8 L436.25,605.1 L436.50,605.7 L436.75,605.1 L437.00,605.5 L437.25,604.8 L437.50,605.3 L437.75,605.3 L438.00,604.9 L438.25,605.4 L438.50,605.2 L438.75,605.1 L439.00,605.6 L439.25,605.5 L439.50,604.9 L439.75,604.9 L440.00,604.9 L440.25,605.1 L440.50,605.5 L441.50,605.8 L442.50,605.9 L443.50,605.8 L444.50,605.1 L445.50,605.8 L446.50,605.7 L447.50,605.5 L448.50,606.0 L449.50,605.6 L450.50,605.2 L451.50,605.3 L452.50,605.2 L453.50,605.7 L454.50,605.8 L455.50,606.0 L456.50,605.2 L457.50,605.2 L458.50,606.2 L459.50,605.5 L460.50,605.5 L461.50,606.1 L462.50,605.4 L463.50,606.1 L464.50,606.2 L465.50,605.9 L466.50,606.0 L467.50,605.4 L468.50,606.0 L469.50,606.0 L470.50,606.2 L471.50,606.0 L472.50,605.6 L473.50,605.7 L474.50,606.2 L475.50,605.6 L476.50,605.7 L477.50,605.8 L478.50,606.4 L479.50,606.2 L480.50,606.0 L481.50,606.6 L482.50,606.2 L483.50,605.9 L484.50,606.3 L485.50,606.6 L486.50,606.1 L487.50,606.2 L488.50,606.3 L489.50,606.8 L490.50,606.4 L491.50,606.0 L492.50,606.4 L493.50,606.2 L494.50,606.3 L495.50,606.6 L496.50,605.9 L497.50,606.4 L498.50,606.2 L499.50,606.5 L500.50,606.8 L501.50,606.4 L502.50,606.6 L503.50,606.3 L504.50,606.3 L505.50,606.5 L506.50,606.6 L507.50,606.3 L508.50,606.8 L509.50,606.6 L510.50,606.5 L511.50,606.4 L512.50,607.0 L513.50,607.0 L514.50,607.1 L515.50,606.4 L516.50,606.3 L517.50,606.8 L518.50,606.2 L519.50,607.1 L520.50,606.9 L521.50,606.6 L522.50,606.7 L523.50,607.0 L524.50,606.4 L525.50,606.7 L526.50,607.1 L527.50,607.0 L528.50,606.9 L529.50,606.5 L530.50,606.6 L531.50,606.6 L532.50,606.4 L533.50,607.0 L534.50,607.0 L535.50,607.3 L536.50,607.0 L537.50,607.4 L538.50,606.9 L539.50,607.0 L540.50,606.7 L541.50,606.9 L542.50,607.4 L542.75,607.0 L543.00,606.5 L543.25,606.8 L543.50,606.7 L543.75,607.1 L544.00,607.0 L544.25,606.9 L544.50,607.4 L544.75,607.2 L545.00,606.6 L545.25,606.5 L545.50,607.2 L545.75,607.1 L546.00,607.1 L546.25,607.0 L546.50,606.5 L546.75,606.9 L547.00,607.3 L547.25,607.1 L547.50,606.5 L547.75,606.6 L548.00,607.3 L548.25,607.0 L548.50,606.6 L548.75,607.1 L549.00,607.3 L549.25,607.3 L549.50,607.0 L549.75,607.2 L550.00,606.5 L550.25,606.8 L550.50,607.2 L550.75,606.7 L551.00,606.4 L551.25,607.1 L551.50,606.9 L551.75,606.2 L552.00,606.1 L552.25,606.5 L552.50,606.8 L552.75,606.2 L553.00,606.2 L553.25,605.0 L553.50,604.9 L553.75,603.8 L554.00,603.0 L554.25,601.6 L554.50,600.5 L554.75,598.4 L555.00,597.1 L555.25,594.9 L555.50,592.7 L555.75,590.0 L556.00,586.7 L556.25,585.0 L556.50,582.4 L556.75,580.8 L557.00,578.8 L557.25,577.4 L557.50,577.7 L557.75,577.5 L558.00,579.3 L558.25,580.4 L558.50,582.7 L558.75,584.7 L559.00,587.0 L559.25,590.0 L559.50,592.6 L559.75,594.7 L560.00,596.7 L560.25,598.9 L560.50,600.8 L560.75,601.8 L561.00,602.9 L561.25,604.1 L561.50,605.0 L561.75,605.0 L562.00,605.6 L562.25,606.7 L562.50,606.2 L562.75,606.8 L563.00,606.5 L563.25,606.4 L563.50,606.8 L563.75,607.3 L564.00,607.2 L564.25,606.5 L564.50,607.2 L564.75,607.1 L565.00,607.0 L565.25,607.2 L565.50,607.1 L565.75,606.8 L566.00,607.3 L566.25,606.7 L566.50,606.9 L566.75,607.5 L567.00,607.2 L567.25,607.2 L567.50,607.4 L567.75,607.1 L568.00,607.0 L568.25,607.2 L568.50,606.7 L568.75,607.0 L569.00,606.7 L569.25,607.7 L569.50,607.6 L569.75,607.4 L570.00,606.9 L570.25,607.6 L570.50,607.0 L570.75,607.5 L571.00,607.4 L571.25,607.3 L571.50,607.5 L571.75,607.0 L572.00,607.6 L572.25,607.3 L572.50,607.5 L572.75,607.6 L573.00,607.0 L573.25,607.2 L573.50,607.1 L573.75,606.8 L574.00,607.6 L574.25,607.4 L574.50,607.2 L574.75,607.3 L575.00,607.6 L575.25,606.8 L575.50,607.1 L575.75,607.4 L576.00,607.3 L576.25,607.3 L576.50,607.0 L576.75,607.0 L577.00,607.4 L577.25,607.1 L577.50,607.7 L577.75,607.6 L578.00,607.7 L578.25,607.0 L578.50,607.2 L578.75,606.8 L579.00,607.0 L579.25,606.7 L579.50,607.1 L579.75,607.5 L580.00,607.2 L580.25,606.7 L580.50,606.4 L580.75,606.9 L581.00,605.7 L581.25,606.1 L581.50,605.6 L581.75,604.2 L582.00,604.3 L582.25,603.0 L582.50,601.7 L582.75,600.5 L583.00,599.4 L583.25,597.9 L583.50,596.9 L583.75,595.5 L584.00,593.7 L584.25,592.3 L584.50,592.2 L584.75,591.5 L585.00,591.3 L585.25,590.9 L585.50,591.5 L585.75,593.2 L586.00,593.7 L586.25,595.1 L586.50,597.0 L586.75,597.6 L587.00,599.5 L587.25,600.2 L587.50,601.9 L587.75,603.2 L588.00,603.5 L588.25,604.9 L588.50,605.7 L588.75,606.1 L589.00,606.5 L589.25,606.9 L589.50,606.9 L589.75,606.9 L590.00,607.3 L590.25,607.4 L590.50,607.3 L590.75,607.4 L591.00,606.9 L591.25,607.1 L591.50,607.1 L591.75,607.7 L592.00,607.6 L592.25,607.1 L592.50,607.8 L592.75,606.9 L593.00,606.9 L593.25,607.2 L593.50,606.9 L593.75,607.8 L594.00,607.2 L594.25,607.3 L594.50,607.7 L594.75,607.4 L595.00,607.5 L595.25,607.3 L595.50,607.4 L595.75,607.9 L596.00,607.2 L596.25,607.4 L596.50,607.4 L596.75,607.0 L597.00,607.1 L597.25,607.4 L597.50,607.7 L597.75,607.3 L598.00,607.0 L598.25,607.8 L598.50,607.0 L598.75,607.8 L599.00,606.9 L599.25,607.5 L599.50,607.0 L599.75,607.1 L600.00,607.3 L600.25,607.6 L600.50,607.3 L600.75,607.3 L601.00,607.3 L601.25,607.4 L601.50,607.1 L601.75,607.8 L602.00,607.0 L602.25,606.9 L602.50,607.3 L602.75,607.1 L603.00,607.4 L603.25,606.7 L603.50,607.3 L603.75,606.9 L604.00,607.4 L604.25,606.6 L604.50,606.6 L604.75,606.2 L605.00,606.0 L605.25,605.3 L605.50,605.1 L605.75,604.0 L606.00,603.3 L606.25,601.5 L606.50,600.2 L606.75,598.4 L607.00,596.5 L607.25,594.1 L607.50,591.3 L607.75,588.4 L608.00,585.8 L608.25,583.3 L608.50,581.1 L608.75,579.2 L609.00,578.3 L609.25,577.3 L609.50,577.8 L609.75,577.7 L610.00,579.0 L610.25,580.7 L610.50,582.8 L610.75,585.8 L611.00,588.3 L611.25,590.6 L611.50,593.7 L611.75,596.0 L612.00,597.9 L612.25,600.0 L612.50,601.6 L612.75,602.7 L613.00,603.5 L613.25,604.6 L613.50,605.9 L613.75,605.8 L614.00,606.4 L614.25,606.2 L614.50,607.1 L614.75,607.3 L615.00,606.9 L615.25,607.0 L615.50,607.2 L615.75,607.0 L616.00,606.9 L616.25,606.9 L616.50,607.5 L616.75,607.3 L617.00,607.8 L617.25,607.8 L617.50,607.7 L617.75,607.8 L618.00,607.7 L618.25,606.9 L618.50,607.0 L618.75,607.8 L619.00,607.7 L619.25,607.5 L619.50,607.5 L619.75,607.3 L620.00,607.3 L620.25,607.0 L620.50,607.4 L620.75,607.2 L621.00,607.0 L621.25,607.7 L621.50,607.4 L621.75,607.7 L622.00,607.2 L622.25,607.4 L622.50,607.1 L622.75,607.7 L623.00,607.1 L623.25,607.5 L623.50,607.4 L623.75,607.2 L624.00,606.9 L624.25,607.3 L624.50,607.3 L625.50,607.6 L626.50,606.9 L627.50,606.9 L628.50,606.9 L629.50,607.3 L630.50,606.7 L631.50,607.0 L631.75,606.3 L632.00,606.3 L632.25,606.9 L632.50,606.7 L632.75,606.2 L633.00,606.6 L633.25,607.0 L633.50,606.4 L633.75,606.5 L634.00,606.3 L634.25,606.3 L634.50,605.8 L634.75,606.6 L635.00,606.2 L635.25,605.9 L635.50,605.7 L635.75,605.6 L636.00,606.2 L636.25,606.0 L636.50,605.4 L636.75,605.5 L637.00,605.4 L637.25,604.9 L637.50,604.5 L637.75,605.1 L638.00,604.3 L638.25,604.4 L638.50,603.6 L638.75,603.3 L639.00,603.0 L639.25,602.9 L639.50,602.1 L639.75,601.6 L640.00,600.1 L640.25,598.4 L640.50,595.9 L640.75,594.2 L641.00,590.4 L641.25,586.6 L641.50,580.4 L641.75,574.7 L642.00,566.3 L642.25,556.4 L642.50,545.1 L642.75,531.4 L643.00,516.5 L643.25,498.8 L643.50,480.0 L643.75,458.5 L644.00,436.5 L644.25,413.0 L644.50,389.2 L644.75,365.7 L645.00,342.1 L645.25,321.2 L645.50,302.0 L645.75,286.7 L646.00,274.9 L646.25,267.4 L646.50,264.8 L646.75,266.9 L647.00,274.9 L647.25,286.8 L647.50,302.5 L647.75,320.9 L648.00,342.7 L648.25,365.4 L648.50,389.4 L648.75,413.3 L649.00,436.4 L649.25,458.7 L649.50,480.1 L649.75,499.3 L650.00,516.5 L650.25,532.3 L650.50,544.8 L650.75,556.3 L651.00,566.4 L651.25,574.0 L651.50,581.3 L651.75,585.9 L652.00,590.9 L652.25,593.6 L652.50,596.1 L652.75,598.7 L653.00,600.2 L653.25,601.1 L653.50,602.2 L653.75,602.9 L654.00,603.9 L654.25,603.9 L654.50,604.3 L654.75,604.5 L655.00,604.7 L655.25,605.2 L655.50,604.8 L655.75,605.5 L656.00,605.9 L656.25,605.9 L656.50,605.8 L656.75,605.7 L657.00,605.5 L657.25,605.6 L657.50,606.2 L657.75,606.6 L658.00,606.7 L658.25,606.1 L658.50,606.7 L658.75,606.8 L659.00,606.6 L659.25,607.0 L659.50,606.4 L659.75,606.6 L660.00,606.8 L660.25,607.1 L660.50,606.9 L660.75,606.8 L661.00,607.4 L661.25,606.9 L661.50,607.0 L661.75,606.8 L662.75,607.2 L663.75,607.6 L664.75,607.3 L665.75,607.7 L666.75,607.6 L667.75,607.2 L668.75,608.2 L669.75,607.6 L670.75,607.9 L671.75,608.3 L672.75,607.6 L673.75,607.5 L674.00,607.6 L674.25,607.6 L674.50,608.3 L674.75,608.0 L675.00,607.5 L675.25,607.7 L675.50,608.0 L675.75,607.6 L676.00,607.8 L676.25,608.4 L676.50,607.9 L676.75,607.7 L677.00,608.1 L677.25,607.6 L677.50,608.0 L677.75,608.1 L678.00,607.6 L678.25,608.1 L678.50,607.8 L678.75,608.3 L679.00,608.1 L679.25,608.4 L679.50,608.1 L679.75,607.7 L680.00,607.7 L680.25,608.2 L680.50,608.3 L680.75,607.6 L681.00,607.9 L681.25,607.8 L681.50,608.0 L681.75,608.4 L682.00,608.0 L682.25,608.2 L682.50,608.2 L682.75,607.7 L683.00,607.9 L683.25,607.6 L683.50,607.6 L683.75,607.5 L684.00,607.4 L684.25,606.6 L684.50,606.9 L684.75,605.8 L685.00,605.4 L685.25,605.3 L685.50,604.8 L685.75,603.4 L686.00,603.1 L686.25,601.4 L686.50,601.5 L686.75,600.0 L687.00,599.1 L687.25,599.3 L687.50,598.4 L687.75,598.8 L688.00,598.1 L688.25,598.5 L688.50,599.2 L688.75,599.6 L689.00,600.7 L689.25,601.4 L689.50,602.6 L689.75,603.2 L690.00,604.5 L690.25,605.1 L690.50,605.1 L690.75,606.4 L691.00,606.9 L691.25,607.0 L691.50,607.2 L691.75,607.1 L692.00,607.5 L692.25,607.5 L692.50,607.6 L692.75,608.1 L693.00,607.9 L693.25,608.4 L693.50,608.2 L693.75,608.5 L694.00,607.8 L694.25,608.5 L694.50,608.2 L694.75,608.3 L695.00,608.0 L695.25,608.4 L695.50,608.1 L695.75,608.5 L696.00,608.3 L696.25,607.9 L696.50,608.1 L696.75,608.5 L697.00,607.8 L697.25,608.4 L697.50,608.3 L697.75,608.5 L698.00,608.1 L698.25,608.3 L698.50,608.3 L698.75,608.6 L699.00,607.9 L699.25,608.3 L699.50,608.1 L699.75,608.4 L700.00,608.1 L700.25,608.0 L700.50,608.1 L700.75,608.7 L701.00,608.2 L701.25,608.7 L701.50,608.6 L701.75,608.1 L702.00,608.4 L702.25,607.9 L702.50,608.8 L702.75,608.5 L703.00,608.0 L704.00,608.4 L705.00,608.4 L706.00,608.6 L707.00,608.2 L708.00,608.8 L709.00,608.5 L710.00,608.0 L711.00,608.8 L712.00,608.8 L713.00,608.3 L714.00,608.7 L715.00,608.8 L716.00,608.9 L717.00,608.0 L718.00,608.8 L719.00,608.2 L720.00,608.8 L721.00,608.7 L722.00,608.5 L723.00,608.9 L724.00,608.8 L725.00,609.0 L726.00,609.0 L727.00,608.6 L728.00,608.8 L729.00,608.7 L730.00,608.5 L731.00,608.6 L732.00,608.6 L733.00,608.3 L734.00,608.3 L735.00,608.9 L736.00,608.9 L737.00,608.8 L738.00,608.8 L739.00,608.6 L740.00,608.7 L741.00,608.8 L742.00,608.1 L743.00,608.6 L744.00,609.1 L745.00,608.4 L746.00,608.6 L747.00,608.2 L748.00,608.4 L749.00,609.0 L750.00,608.2 L751.00,609.0 L752.00,609.0 L753.00,609.1 L754.00,608.4 L755.00,609.1 L756.00,608.6 L757.00,608.7 L758.00,609.2 L759.00,608.8 L760.00,608.9 L761.00,608.3 L762.00,608.2 L763.00,608.5 L764.00,608.3 L765.00,609.1 L766.00,608.5 L767.00,609.2 L768.00,608.9 L769.00,608.5 L770.00,609.0 L771.00,608.6 L772.00,608.8 L773.00,608.4 L774.00,609.1 L775.00,609.1 L776.00,608.9 L777.00,609.0 L778.00,608.6 L779.00,608.4 L780.00,608.6 L781.00,609.0 L782.00,608.9 L783.00,608.5 L784.00,608.6 L785.00,608.8 L786.00,608.3 L787.00,608.4 L788.00,608.8 L789.00,608.5 L790.00,609.2 L791.00,608.5 L792.00,609.1 L793.00,609.1 L794.00,608.7 L795.00,608.9 L796.00,609.4 L797.00,609.0 L798.00,608.8 L799.00,609.3 L800.00,608.6 L801.00,609.3 L802.00,608.7 L803.00,608.8 L804.00,608.7 L805.00,609.0 L806.00,609.3 L807.00,609.1 L808.00,608.6 L809.00,609.4 L810.00,609.1 L811.00,608.9 L812.00,609.3 L813.00,608.5 L814.00,609.0 L815.00,609.2 L816.00,609.2 L817.00,609.1 L818.00,608.5 L819.00,608.9 L820.00,608.7 L821.00,609.0 L822.00,608.8 L823.00,608.9 L824.00,609.0 L825.00,609.0 L826.00,609.3 L827.00,608.7 L828.00,608.7 L829.00,608.6 L830.00,608.6 L831.00,609.3 L832.00,609.4 L833.00,608.6 L834.00,608.8 L835.00,609.4 L836.00,609.3 L837.00,609.4 L838.00,609.5 L839.00,608.8 L840.00,608.5 L841.00,608.7 L842.00,609.0 L843.00,608.5 L844.00,608.7 L845.00,608.9 L846.00,609.1 L847.00,608.6 L848.00,608.5 L849.00,608.7 L850.00,608.5 L851.00,608.5 L852.00,608.5 L852.25,609.2 L852.50,609.2 L852.75,608.4 L853.00,609.1 L853.25,609.2 L853.50,609.0 L853.75,608.6 L854.00,609.1 L854.25,608.4 L854.50,608.3 L854.75,609.2 L855.00,608.5 L855.25,609.2 L855.50,609.0 L855.75,608.3 L856.00,608.3 L856.25,608.9 L856.50,608.3 L856.75,608.8 L857.00,608.8 L857.25,608.4 L857.50,608.6 L857.75,608.3 L858.00,608.9 L858.25,608.7 L858.50,608.7 L858.75,608.6 L859.00,608.0 L859.25,608.7 L859.50,608.6 L859.75,608.2 L860.00,608.2 L860.25,607.9 L860.50,608.0 L860.75,607.5 L861.00,606.9 L861.25,606.7 L861.50,605.8 L861.75,604.9 L862.00,604.5 L862.25,603.8 L862.50,602.2 L862.75,600.1 L863.00,598.5 L863.25,596.3 L863.50,593.7 L863.75,590.6 L864.00,587.4 L864.25,584.0 L864.50,580.4 L864.75,576.1 L865.00,572.3 L865.25,568.2 L865.50,563.7 L865.75,560.3 L866.00,557.1 L866.25,554.5 L866.50,552.6 L866.75,551.2 L867.00,551.5 L867.25,551.6 L867.50,552.5 L867.75,554.9 L868.00,557.7 L868.25,560.2 L868.50,564.3 L868.75,568.5 L869.00,571.9 L869.25,576.5 L869.50,580.4 L869.75,583.7 L870.00,587.0 L870.25,591.0 L870.50,593.5 L870.75,596.1 L871.00,598.4 L871.25,600.6 L871.50,602.4 L871.75,603.8 L872.00,604.8 L872.25,605.1 L872.50,606.0 L872.75,606.2 L873.00,606.8 L873.25,607.3 L873.50,607.4 L873.75,607.9 L874.00,607.7 L874.25,608.4 L874.50,608.2 L874.75,608.1 L875.00,608.6 L875.25,608.3 L875.50,608.1 L875.75,608.9 L876.00,608.9 L876.25,609.0 L876.50,608.5 L876.75,608.4 L877.00,608.9 L877.25,608.4 L877.50,609.2 L877.75,608.9 L878.00,608.8 L878.25,608.3 L878.50,608.6 L878.75,608.7 L879.00,609.3 L879.25,608.5 L879.50,608.9 L879.75,608.4 L880.00,609.3 L880.25,609.1 L880.50,609.2 L880.75,609.2 L881.00,608.6 L881.25,608.7 L881.50,608.5 L881.75,609.0 L882.00,608.5 L882.25,608.6 L883.25,608.6 L884.25,609.4 L885.25,609.3 L886.25,608.8 L887.25,609.5 L888.25,608.7 L889.25,608.7 L889.50,608.9 L889.75,609.4 L890.00,608.7 L890.25,609.4 L890.50,609.1 L890.75,609.4 L891.00,608.9 L891.25,608.6 L891.50,608.7 L891.75,609.3 L892.00,609.1 L892.25,609.3 L892.50,608.8 L892.75,608.9 L893.00,608.8 L893.25,609.4 L893.50,609.3 L893.75,608.7 L894.00,609.3 L894.25,608.6 L894.50,609.1 L894.75,608.8 L895.00,609.4 L895.25,609.3 L895.50,609.3 L895.75,608.8 L896.00,608.6 L896.25,609.2 L896.50,609.3 L896.75,608.6 L897.00,609.4 L897.25,609.5 L897.50,608.9 L897.75,609.1 L898.00,609.2 L898.25,609.5 L898.50,609.2 L898.75,609.0 L899.00,609.2 L899.25,608.9 L899.50,608.4 L899.75,608.9 L900.00,608.7 L900.25,608.5 L900.50,608.5 L900.75,608.2 L901.00,608.2 L901.25,608.5 L901.50,608.5 L901.75,608.0 L902.00,608.2 L902.25,607.4 L902.50,607.6 L902.75,607.7 L903.00,607.7 L903.25,607.2 L903.50,606.9 L903.75,607.6 L904.00,607.3 L904.25,607.3 L904.50,607.1 L904.75,606.9 L905.00,607.5 L905.25,607.4 L905.50,608.0 L905.75,607.9 L906.00,608.1 L906.25,608.1 L906.50,608.4 L906.75,607.9 L907.00,608.9 L907.25,608.6 L907.50,608.7 L907.75,608.4 L908.00,608.4 L908.25,609.1 L908.50,609.2 L908.75,609.1 L909.00,608.8 L909.25,609.0 L909.50,609.3 L909.75,609.2 L910.00,609.5 L910.25,608.7 L910.50,609.4 L910.75,608.6 L911.00,609.3 L911.25,609.2 L911.50,608.7 L911.75,609.1 L912.00,609.3 L912.25,609.5 L912.50,608.7 L912.75,609.2 L913.00,609.5 L913.25,608.8 L913.50,609.6 L913.75,609.6 L914.00,609.0 L914.25,608.9 L914.50,608.8 L914.75,608.9 L915.00,609.1 L915.25,609.4 L915.50,609.6 L915.75,609.2 L916.00,609.6 L916.25,609.1 L916.50,609.3 L916.75,608.7 L917.00,609.1 L917.25,608.7 L917.50,608.8 L917.75,609.5 L918.00,608.8 L918.25,609.0 L918.50,609.2 L918.75,609.2 L919.00,608.7 L919.25,608.8 L920.25,609.4 L921.25,609.1 L922.25,608.8 L923.25,609.2 L924.25,609.1 L925.25,609.7 L926.25,608.8 L927.25,608.9 L928.25,608.8 L929.25,609.3 L930.25,609.7 L931.25,609.5 L932.25,608.8 L933.25,609.3 L934.25,609.1 L935.25,609.7 L936.25,609.4 L937.25,609.3 L938.25,609.0 L939.25,609.2 L940.25,609.3 L941.25,609.1 L942.25,609.3 L943.25,608.8 L944.25,609.2 L945.25,609.7 L946.25,609.2 L947.25,609.3 L948.25,609.5 L949.25,609.6 L950.25,609.5 L951.25,609.1 L952.25,609.5 L953.25,609.0 L954.25,609.4 L955.25,608.8 L956.25,609.0 L957.25,608.9 L958.25,609.1 L959.25,609.5 L960.25,608.8 L961.25,609.7 L962.25,608.9 L963.25,609.7 L964.25,609.7 L965.25,609.4 L966.25,609.6 L967.25,609.7 L968.25,609.2 L969.25,609.6 L970.25,608.8 L971.25,609.6 L972.25,609.4 L973.25,609.6 L974.25,608.9 L975.25,608.9 L976.25,609.3 L977.25,609.4 L978.25,609.5 L979.25,609.0 L980.25,609.4 L981.25,609.8 L982.25,609.1 L983.25,609.6 L984.25,609.8 L985.25,609.5 L986.25,609.3 L987.25,609.2 L988.25,609.3 L989.25,608.9 L990.25,608.9 L991.25,609.1 L992.25,609.0 L993.25,609.7 L994.25,609.2 L995.25,609.7 L996.25,609.4 L997.25,609.7 L998.25,609.7 L999.25,609.5 L1000.25,609.3 L1001.25,609.1 L1002.25,609.4 L1003.25,609.1 L1004.25,609.7 L1005.25,608.9 L1006.25,609.5 L1007.25,609.2 L1008.25,609.3 L1009.25,609.4 L1010.25,609.8 L1011.25,609.8 L1012.25,609.2 L1013.25,609.8 L1014.25,609.8 L1015.25,609.4 L1016.25,609.4 L1017.25,609.0 L1018.25,609.6 L1019.25,609.3 L1020.25,609.6 L1021.25,609.8 L1022.25,609.5 L1023.25,609.5 L1024.25,609.4 L1025.25,609.0 L1026.25,609.3 L1027.25,608.9 L1028.25,609.0 L1029.25,609.8 L1030.25,609.2 L1031.25,608.9 L1032.25,609.2 L1033.25,608.8 L1034.25,609.4 L1034.50,609.0 L1034.75,609.0 L1035.00,609.4 L1035.25,609.7 L1035.50,608.8 L1035.75,609.4 L1036.00,609.3 L1036.25,609.2 L1036.50,609.1 L1036.75,608.7 L1037.00,609.1 L1037.25,609.2 L1037.50,609.0 L1037.75,609.7 L1038.00,609.0 L1038.25,609.5 L1038.50,609.5 L1038.75,609.4 L1039.00,609.1 L1039.25,609.1 L1039.50,609.4 L1039.75,608.7 L1040.00,608.8 L1040.25,608.5 L1040.50,609.0 L1040.75,608.9 L1041.00,609.4 L1041.25,609.3 L1041.50,608.7 L1041.75,608.7 L1042.00,608.2 L1042.25,608.7 L1042.50,608.3 L1042.75,607.7 L1043.00,608.1 L1043.25,606.8 L1043.50,606.5 L1043.75,606.1 L1044.00,605.9 L1044.25,604.1 L1044.50,603.1 L1044.75,602.3 L1045.00,600.4 L1045.25,599.3 L1045.50,596.5 L1045.75,594.7 L1046.00,592.7 L1046.25,590.9 L1046.50,587.9 L1046.75,586.2 L1047.00,584.2 L1047.25,582.2 L1047.50,580.2 L1047.75,577.9 L1048.00,577.2 L1048.25,576.3 L1048.50,575.9 L1048.75,576.3 L1049.00,577.5 L1049.25,578.5 L1049.50,579.5 L1049.75,581.5 L1050.00,583.3 L1050.25,586.4 L1050.50,588.5 L1050.75,590.6 L1051.00,593.3 L1051.25,595.5 L1051.50,596.7 L1051.75,598.6 L1052.00,600.3 L1052.25,602.2 L1052.50,603.4 L1052.75,604.5 L1053.00,605.7 L1053.25,606.2 L1053.50,606.6 L1053.75,607.5 L1054.00,608.2 L1054.25,607.6 L1054.50,608.3 L1054.75,608.1 L1055.00,608.9 L1055.25,608.7 L1055.50,609.2 L1055.75,609.1 L1056.00,609.4 L1056.25,609.1 L1056.50,609.1 L1056.75,609.5 L1057.00,609.4 L1057.25,608.9 L1057.50,608.7 L1057.75,609.6 L1058.00,608.7 L1058.25,609.6 L1058.50,609.6 L1058.75,609.3 L1059.00,609.6 L1059.25,609.3 L1059.50,609.5 L1059.75,609.3 L1060.00,608.9 L1060.25,608.8 L1060.50,609.5 L1060.75,609.2 L1061.00,608.9 L1061.25,609.3 L1061.50,609.0 L1061.75,609.0 L1062.00,609.7 L1062.25,609.4 L1062.50,609.5 L1062.75,609.6 L1063.00,609.2 L1063.25,609.2 L1063.50,609.2 L1063.75,609.2 L1064.75,609.6 L1065.75,609.7 L1066.75,609.1 L1067.75,609.6 L1068.75,609.1 L1069.75,608.9 L1070.75,609.6 L1071.75,609.6 L1072.75,609.2 L1073.75,609.9 L1074.75,609.6 L1075.75,609.2 L1076.75,609.6 L1077.75,609.7 L1078.75,609.0 L1079.75,609.8 L1080.75,609.3 L1081.75,609.2 L1082.75,609.3 L1083.75,609.4 L1084.75,609.4 L1085.75,609.2 L1086.75,609.0 L1087.75,609.5 L1088.75,609.6 L1089.75,609.6 L1090.75,609.3 L1091.75,609.8 L1092.75,608.9 L1093.75,609.0 L1094.75,608.9 L1095.75,609.5 L1096.75,609.4 L1097.75,609.2 L1098.75,609.5 L1099.75,608.9 L1100.75,609.0 L1101.75,609.9 L1102.75,609.8 L1103.75,609.0 L1104.75,609.6 L1105.75,609.4 L1106.75,609.5 L1107.75,609.8 L1108.75,609.6 L1109.75,609.9 L1110.75,609.6 L1111.75,609.9 L1112.75,609.1 L1113.75,609.8 L1114.75,609.3 L1115.75,609.9 L1116.75,609.7 L1117.75,609.9 L1118.75,609.7 L1119.75,609.3 L1120.75,609.5 L1121.75,609.7 L1122.75,609.0 L1123.75,609.5 L1124.75,609.5 L1125.75,609.7 L1126.75,609.3 L1127.75,609.6 L1128.75,609.7 L1129.75,609.3 L1130.75,609.6 L1131.75,609.8 L1132.75,609.3 L1133.75,609.5 L1134.75,609.4 L1135.75,609.8 L1136.75,609.2 L1137.75,609.2 L1138.75,609.3 L1139.75,609.6 L1140.75,609.1 L1141.75,609.9 L1142.75,609.4 L1143.75,609.7 L1144.75,609.3 L1145.75,609.0 L1146.75,609.3 L1147.75,609.5 L1148.75,609.0 L1149.75,609.9 L1150.75,609.5 L1151.75,609.4 L1152.75,608.9 L1153.75,609.1 L1154.75,609.2 L1155.00,609.5 L1155.25,609.0 L1155.50,609.4 L1155.75,609.1 L1156.00,609.4 L1156.25,609.5 L1156.50,609.4 L1156.75,609.6 L1157.00,609.5 L1157.25,608.9 L1157.50,609.5 L1157.75,609.3 L1158.00,609.6 L1158.25,609.7 L1158.50,609.2 L1158.75,609.6 L1159.00,609.0 L1159.25,609.4 L1159.50,608.7 L1159.75,609.5 L1160.00,609.1 L1160.25,609.1 L1160.50,609.1 L1160.75,608.9 L1161.00,608.7 L1161.25,609.1 L1161.50,609.0 L1161.75,608.3 L1162.00,608.4 L1162.25,608.9 L1162.50,608.0 L1162.75,607.8 L1163.00,607.8 L1163.25,607.3 L1163.50,607.5 L1163.75,607.2 L1164.00,605.9 L1164.25,605.4 L1164.50,604.8 L1164.75,604.5 L1165.00,603.6 L1165.25,603.3 L1165.50,602.8 L1165.75,601.2 L1166.00,600.3 L1166.25,599.5 L1166.50,598.9 L1166.75,597.9 L1167.00,597.4 L1167.25,596.5 L1167.50,596.2 L1167.75,595.8 L1168.00,595.2 L1168.25,594.2 L1168.50,594.1 L1168.75,593.4 L1169.00,593.8 L1169.25,594.1 L1169.50,594.3 L1169.75,593.9 L1170.00,594.4 L1170.25,595.7 L1170.50,596.1 L1170.75,596.9 L1171.00,597.0 L1171.25,598.4 L1171.50,598.6 L1171.75,600.2 L1172.00,601.1 L1172.25,601.4 L1172.50,601.9 L1172.75,603.4 L1173.00,604.4 L1173.25,604.7 L1173.50,605.0 L1173.75,605.5 L1174.00,606.5 L1174.25,607.2 L1174.50,607.0 L1174.75,607.2 L1175.00,608.2 L1175.25,607.9 L1175.50,608.2 L1175.75,608.2 L1176.00,608.8 L1176.25,609.2 L1176.50,608.8 L1176.75,609.3 L1177.00,608.9 L1177.25,609.0 L1177.50,609.4 L1177.75,609.6 L1178.00,609.5 L1178.25,609.4 L1178.50,609.6 L1178.75,609.7 L1179.00,609.7 L1179.25,609.3 L1179.50,609.2 L1179.75,608.8 L1180.00,609.4 L1180.25,609.2 L1180.50,608.8 L1180.75,609.8 L1181.00,609.2 L1181.25,609.8 L1181.50,608.9 L1181.75,609.2 L1182.00,609.7 L1182.25,609.6 L1182.50,609.6 L1182.75,609.4 L1183.00,609.0 L1183.25,609.7 L1183.50,609.7 L1183.75,609.4 L1184.00,609.5 L1184.25,609.7 L1185.25,609.4 L1186.25,609.4 L1187.25,609.4 L1188.25,609.7 L1189.25,609.7 L1190.25,609.3 L1191.25,609.7 L1192.25,609.3 L1193.25,609.6 L1194.25,609.3 L1195.25,609.9 L1196.25,609.9 L1197.25,609.7 L1198.25,609.4 L1199.25,609.3 L1200.25,609.4 L1201.25,609.6 L1202.25,609.0 L1203.25,609.5 L1204.25,609.9 L1205.25,609.0 L1206.25,609.9 L1207.25,609.6 L1208.25,610.0 L1209.25,609.7 L1210.25,609.7 L1211.25,609.7 L1212.25,609.4 L1213.25,609.1 L1214.25,609.8 L1215.25,609.9 L1216.25,609.7 L1217.25,609.2 L1218.25,609.5 L1219.25,609.5 L1220.25,609.4 L1221.25,609.5 L1222.25,609.4 L1223.25,610.0 L1224.25,609.6 L1225.25,610.0 L1226.25,609.9 L1227.25,609.2 L1228.25,609.8 L1229.25,609.4 L1230.25,609.6 L1231.25,609.6 L1232.25,609.7 L1233.25,609.3 L1234.25,609.7 L1235.25,609.4 L1236.25,609.8 L1237.25,609.5 L1238.25,609.6 L1239.25,610.0 L1240.25,609.3 L1241.25,609.0 L1242.25,609.9 L1243.25,609.5 L1244.25,609.6 L1245.25,609.8 L1246.25,609.9 L1247.25,609.4 L1248.25,610.0 L1249.25,609.4 L1250.25,609.7 L1251.25,609.8 L1252.25,609.3 L1253.25,609.4 L1254.25,609.3 L1255.25,609.3 L1256.25,609.3 L1257.25,609.8 L1258.25,609.0 L1259.25,609.9 L1260.25,609.7 L1261.25,609.4 L1262.25,609.5 L1262.50,609.1 L1262.75,609.6 L1263.00,609.7 L1263.25,609.2 L1263.50,609.3 L1263.75,609.0 L1264.00,609.0 L1264.25,609.6 L1264.50,609.4 L1264.75,609.2 L1265.00,609.4 L1265.25,608.9 L1265.50,608.7 L1265.75,609.0 L1266.00,609.2 L1266.25,608.8 L1266.50,609.2 L1266.75,608.9 L1267.00,608.8 L1267.25,609.3 L1267.50,608.8 L1267.75,609.1 L1268.00,609.1 L1268.25,608.6 L1268.50,608.2 L1268.75,608.8 L1269.00,608.4 L1269.25,608.2 L1269.50,608.0 L1269.75,607.6 L1270.00,607.5 L1270.25,606.2 L1270.50,606.6 L1270.75,605.6 L1271.00,604.6 L1271.25,604.1 L1271.50,603.1 L1271.75,601.6 L1272.00,599.6 L1272.25,598.8 L1272.50,596.9 L1272.75,595.3 L1273.00,593.6 L1273.25,590.9 L1273.50,589.5 L1273.75,586.8 L1274.00,584.6 L1274.25,582.2 L1274.50,580.2 L1274.75,578.4 L1275.00,576.9 L1275.25,575.8 L1275.50,573.7 L1275.75,572.9 L1276.00,572.3 L1276.25,572.3 L1276.50,572.1 L1276.75,572.9 L1277.00,573.3 L1277.25,574.3 L1277.50,576.3 L1277.75,578.2 L1278.00,579.4 L1278.25,581.4 L1278.50,584.1 L1278.75,585.7 L1279.00,588.7 L1279.25,590.6 L1279.50,592.1 L1279.75,594.3 L1280.00,595.8 L1280.25,597.6 L1280.50,599.4 L1280.75,601.3 L1281.00,602.6 L1281.25,603.6 L1281.50,604.4 L1281.75,605.2 L1282.00,605.8 L1282.25,606.6 L1282.50,606.9 L1282.75,607.3 L1283.00,608.0 L1283.25,607.8 L1283.50,608.1 L1283.75,608.6 L1284.00,609.0 L1284.25,608.5 L1284.50,608.7 L1284.75,608.7 L1285.00,608.6 L1285.25,608.8 L1285.50,609.3 L1285.75,608.7 L1286.00,609.0 L1286.25,608.9 L1286.50,609.2 L1286.75,609.4 L1287.00,608.7 L1287.25,609.1 L1287.50,608.8 L1287.75,609.3 L1288.00,609.3 L1288.25,608.9 L1288.50,608.9 L1288.75,609.0 L1289.00,609.0 L1289.25,609.6 L1289.50,609.6 L1289.75,609.5 L1290.00,609.1 L1290.25,609.2 L1290.50,608.9 L1290.75,609.2 L1291.00,609.6 L1291.25,608.8 L1291.50,609.1 L1291.75,608.9 L1292.00,609.5 L1292.25,608.9 L1292.50,609.1 L1292.75,608.6 L1293.00,609.2 L1293.25,608.9 L1293.50,609.1 L1293.75,609.0 L1294.00,608.9 L1294.25,608.2 L1294.50,608.0 L1294.75,608.1 L1295.00,607.3 L1295.25,607.9 L1295.50,607.3 L1295.75,606.7 L1296.00,606.1 L1296.25,605.3 L1296.50,605.1 L1296.75,604.7 L1297.00,603.3 L1297.25,602.6 L1297.50,602.4 L1297.75,601.3 L1298.00,600.8 L1298.25,599.6 L1298.50,599.3 L1298.75,598.4 L1299.00,597.1 L1299.25,596.7 L1299.50,596.1 L1299.75,595.5 L1300.00,595.5 L1300.25,595.2 L1300.50,595.2 L1300.75,594.8 L1301.00,595.2 L1301.25,595.6 L1301.50,596.1 L1301.75,596.2 L1302.00,597.6 L1302.25,598.0 L1302.50,598.5 L1302.75,600.1 L1303.00,600.6 L1303.25,601.6 L1303.50,602.5 L1303.75,603.1 L1304.00,604.2 L1304.25,604.0 L1304.50,605.0 L1304.75,605.4 L1305.00,606.4 L1305.25,606.5 L1305.50,606.7 L1305.75,607.2 L1306.00,607.5 L1306.25,608.2 L1306.50,608.3 L1306.75,608.5 L1307.00,608.2 L1307.25,608.9 L1307.50,608.7 L1307.75,608.6 L1308.00,608.7 L1308.25,608.8 L1308.50,609.1 L1308.75,608.9 L1309.00,609.2 L1309.25,609.0 L1309.50,609.5 L1309.75,609.7 L1310.00,609.2 L1310.25,608.9 L1310.50,609.8 L1310.75,609.0 L1311.00,609.5 L1311.25,609.6 L1311.50,609.4 L1311.75,609.8 L1312.00,609.0 L1312.25,609.6 L1312.50,609.8 L1312.75,609.8 L1313.00,609.8 L1313.25,609.4 L1313.50,609.4 L1313.75,609.8 L1314.00,609.3 L1314.25,609.2 L1314.50,609.0 L1314.75,609.1 L1315.00,609.1 L1315.25,609.9 L1315.50,609.3 L1315.75,609.3 L1316.75,609.9 L1317.75,609.7 L1318.75,609.4 L1319.75,609.1 L1320.75,609.4 L1321.75,609.3 L1322.75,609.9 L1323.75,609.4 L1324.75,610.0 L1325.75,609.3 L1326.75,609.1 L1327.75,609.9 L1328.75,609.1 L1329.75,609.8 L1330.75,609.6 L1331.75,609.3 L1332.75,609.9 L1333.75,609.5 L1334.75,610.0 L1335.75,609.6 L1336.75,610.0 L1337.75,610.0 L1338.75,609.4 L1339.75,609.7 L1340.75,609.8 L1341.75,609.7 L1342.75,609.1 L1343.75,609.7 L1344.75,609.8 L1345.75,609.2 L1346.75,609.1 L1347.75,609.1 L1348.75,609.6 L1349.75,609.1 L1350.75,609.9 L1351.75,609.5 L1352.75,610.0 L1353.75,609.8 L1354.75,609.5 L1355.75,609.2 L1356.75,609.5 L1357.75,609.7 L1358.75,609.9 L1359.75,609.9 L1360.75,609.4 L1361.75,609.1 L1362.75,609.7 L1363.75,609.7 L1364.75,609.7 L1365.75,609.9 L1366.75,609.9 L1367.75,609.7 L1368.75,609.9 L1369.75,609.2 L1370.75,610.0 L1371.75,609.7 L1372.75,609.1 L1373.75,609.2 L1374.75,609.7 L1375.75,609.4 L1376.75,610.0 L1377.75,609.3 L1378.75,609.5 L1379.75,609.6 L1380.75,610.0 L1381.75,609.4 L1382.75,609.9 L1383.75,609.8 L1384.75,609.6 L1385.75,610.0 L1386.75,609.9" fill="none" stroke="#d09460" stroke-width="3.4" stroke-linejoin="round" stroke-linecap="round"/>
<rect x="114.4" y="31.1" width="1274.9" height="957.6" fill="none" stroke="#262626" stroke-width="4.8"/><line x1="291.3" y1="970" x2="291.3" y2="987" stroke="#262626" stroke-width="4.8"/><line x1="468.6" y1="970" x2="468.6" y2="987" stroke="#262626" stroke-width="4.8"/><line x1="645.8" y1="970" x2="645.8" y2="987" stroke="#262626" stroke-width="4.8"/><line x1="823.0" y1="970" x2="823.0" y2="987" stroke="#262626" stroke-width="4.8"/><line x1="1000.3" y1="970" x2="1000.3" y2="987" stroke="#262626" stroke-width="4.8"/><line x1="1177.5" y1="970" x2="1177.5" y2="987" stroke="#262626" stroke-width="4.8"/><line x1="1354.8" y1="970" x2="1354.8" y2="987" stroke="#262626" stroke-width="4.8"/>
<g fill="#111"><use href="#club" x="629.3" y="83.9"/><use href="#diam" x="410.7" y="319.6"/><use href="#club" x="537.2" y="335.5"/><use href="#heart" x="573.4" y="333.8"/><use href="#club" x="595.7" y="349.9"/><use href="#heart" x="675.3" y="338.9"/><use href="#club" x="851.1" y="340.2"/><use href="#diam" x="888.7" y="382.2"/><use href="#heart" x="1005.5" y="379.8"/><use href="#club" x="1156.8" y="358.5"/><use href="#heart" x="1228.1" y="383.2"/><use href="#heart" x="1264.7" y="358.6"/><use href="#club" x="1291.8" y="373.5"/><use href="#diam" x="411.5" y="546.3"/><use href="#club" x="534.7" y="531.9"/><use href="#heart" x="569.4" y="552.4"/><use href="#club" x="602.5" y="529.3"/><use href="#heart" x="678.0" y="547.0"/><use href="#club" x="853.2" y="503.4"/><use href="#club" x="1039.1" y="527.5"/><use href="#club" x="1157.2" y="533.6"/><use href="#heart" x="1264.2" y="528.1"/><use href="#club" x="1289.3" y="546.3"/><use href="#diam" x="417.9" y="717.4"/><use href="#club" x="538.5" y="686.5"/><use href="#heart" x="571.0" y="711.1"/><use href="#club" x="601.5" y="709.8"/><use href="#heart" x="674.2" y="715.9"/><use href="#club" x="859.1" y="699.2"/><use href="#club" x="1039.1" y="688.3"/><use href="#club" x="1163.2" y="708.9"/><use href="#heart" x="1264.8" y="703.3"/><use href="#club" x="1289.3" y="705.5"/><use href="#club" x="544.2" y="841.3"/><use href="#club" x="603.5" y="834.4"/><use href="#club" x="866.5" y="838.6"/><use href="#club" x="1043.8" y="861.5"/><use href="#club" x="1175.3" y="857.5"/><use href="#heart" x="1274.9" y="857.4"/><use href="#club" x="1300.8" y="868.2"/><use href="#diam" x="979.4" y="78.5"/><use href="#club" x="974.1" y="143.3"/><use href="#heart" x="976.5" y="208.8"/></g>
<g font-family="Liberation Serif" fill="#1c1c1c" stroke="#1c1c1c" stroke-width="0.4"><text transform="translate(146.88,395.56) scale(1.0080,1.0390)" font-size="61" >910</text><text transform="translate(148.84,566.76) scale(0.9793,1.0366)" font-size="61" >880</text><text transform="translate(145.14,744.88) scale(0.9782,1.0220)" font-size="61" >850</text><text transform="translate(267.73,395.51) scale(0.9861,1.0878)" font-size="62" stroke="none">C</text><text transform="translate(267.73,567.41) scale(0.9861,1.0854)" font-size="62" stroke="none">C</text><text transform="translate(263.92,744.91) scale(0.9889,1.0878)" font-size="62" stroke="none">C</text><text transform="translate(129.62,887.05) scale(0.9922,0.9964)" font-size="61" >Raw sample</text><text transform="translate(1023.60,114.05) scale(1.0013,1.0463)" font-size="61" >34-0180 TiO</text><text transform="translate(1336.30,123.40) scale(1.0000,1.0269)" font-size="40" >2</text><text transform="translate(1025.00,180.58) scale(1.0000,1.0244)" font-size="61" >65-9622 Ti</text><text transform="translate(1025.00,244.28) scale(1.0000,1.0244)" font-size="61" >65-8807 TiC</text><text transform="translate(65.78,625.36) rotate(-90) scale(0.9777,1.0245)" font-size="61" >Intensity</text><text transform="translate(95.82,1065.99) scale(0.9963,1.0122)" font-size="61" >10</text><text transform="translate(267.89,1065.99) scale(1.0357,1.0122)" font-size="61" >20</text><text transform="translate(443.92,1065.99) scale(1.0268,1.0122)" font-size="61" >30</text><text transform="translate(619.00,1065.99) scale(1.0017,1.0122)" font-size="61" >40</text><text transform="translate(793.09,1065.99) scale(1.0018,1.0122)" font-size="61" >50</text><text transform="translate(969.29,1065.99) scale(1.0018,1.0122)" font-size="61" >60</text><text transform="translate(1143.62,1065.99) scale(1.0200,1.0122)" font-size="61" >70</text><text transform="translate(1320.04,1065.99) scale(0.9825,1.0122)" font-size="61" >80</text><text transform="translate(689.57,1145.80) scale(1.0440,0.9762)" font-size="63" stroke="none">2</text><text transform="translate(721.37,1144.86) scale(1.0444,0.9370)" font-size="63" font-style="italic" stroke="none">θ</text><text transform="translate(750.60,1144.80) scale(1.0412,1.0023)" font-size="63" stroke="none">/</text><text transform="translate(766.40,1146.31) scale(1.1000,0.9912)" font-size="63" stroke="none">(</text><text transform="translate(801.19,1144.89) scale(1.0368,0.9737)" font-size="63" stroke="none">°</text><text transform="translate(839.49,1146.31) scale(1.1062,0.9912)" font-size="63" stroke="none">)</text></g>
<circle cx="265.2" cy="358.1" r="3.7" fill="none" stroke="#222" stroke-width="3.4"/><circle cx="264.6" cy="528.1" r="3.7" fill="none" stroke="#222" stroke-width="3.4"/><circle cx="261.1" cy="707.4" r="3.7" fill="none" stroke="#222" stroke-width="3.4"/>
</svg>
</div></body></html>
